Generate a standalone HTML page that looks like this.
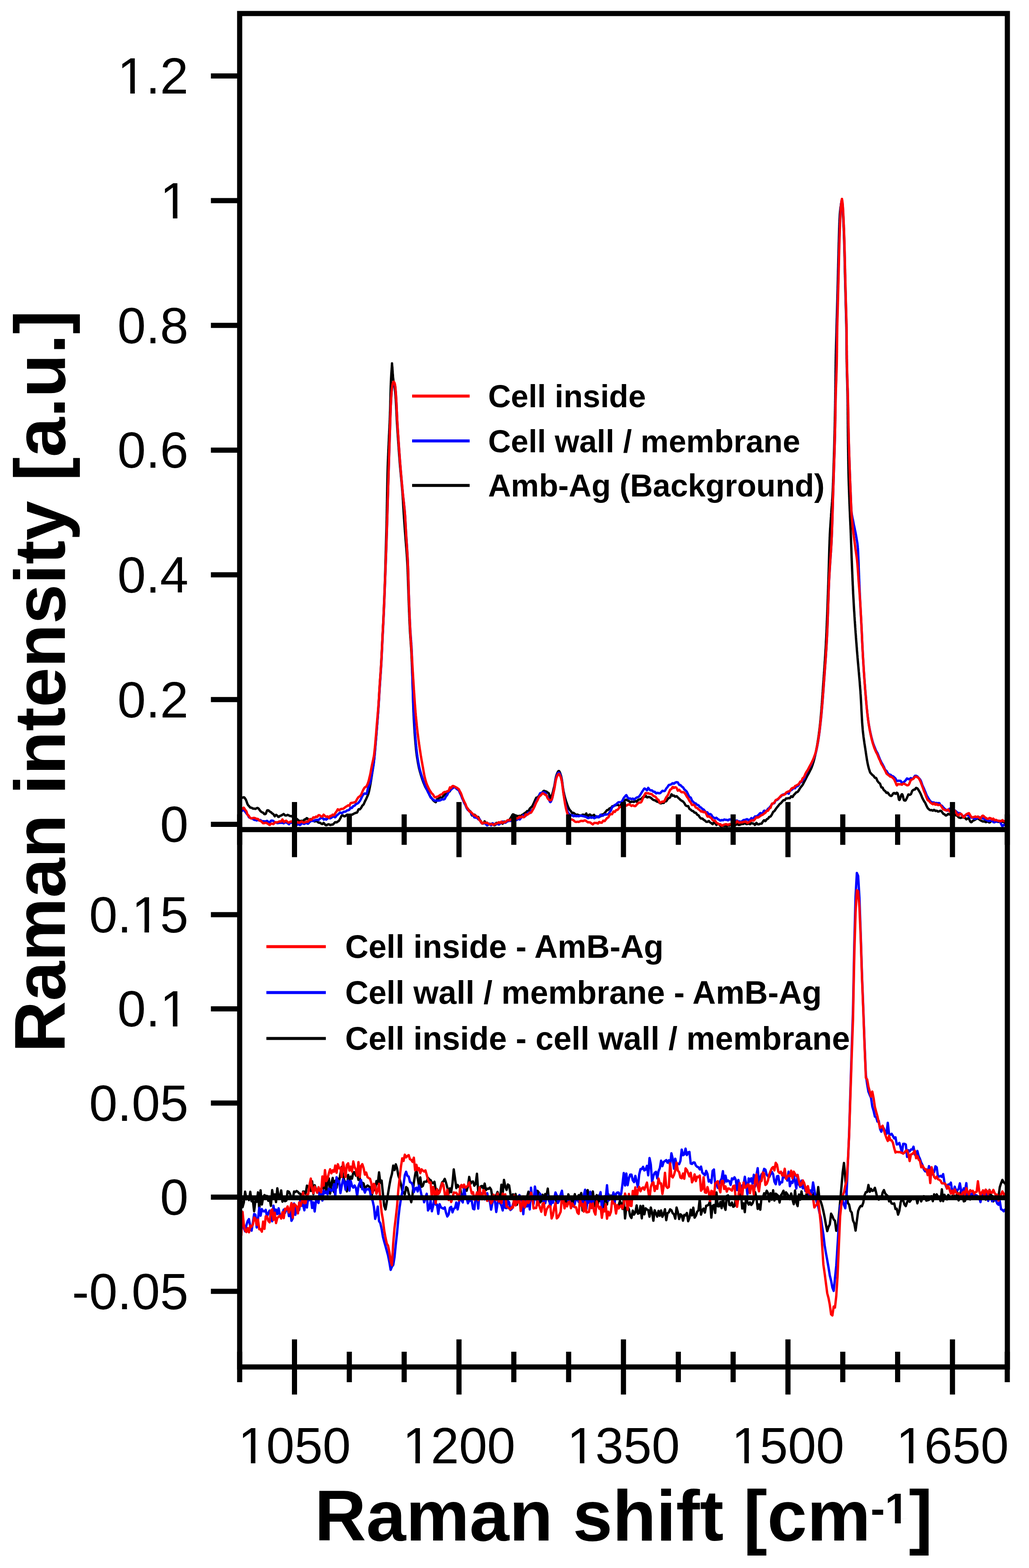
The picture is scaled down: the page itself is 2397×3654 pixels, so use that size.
<!DOCTYPE html>
<html><head><meta charset="utf-8"><title>Raman spectra</title>
<style>html,body{margin:0;padding:0;background:#fff;overflow:hidden;}svg{display:block;}</style>
</head><body>
<svg width="2397" height="3654" viewBox="0 0 2397 3654">
<rect width="2397" height="3654" fill="#fff"/>
<g fill="none" stroke-width="5.5" stroke-linejoin="round" stroke-linecap="round">
<polyline stroke="#000000" points="559.5,1866.0 559.8,1863.4 560.3,1861.1 561.1,1859.7 562.1,1859.8 563.2,1859.2 564.9,1858.9 567.0,1857.9 568.6,1857.9 569.8,1859.1 570.8,1860.6 571.7,1861.8 572.5,1863.1 573.2,1864.8 574.0,1866.7 574.7,1868.7 575.4,1870.8 576.2,1872.9 577.0,1874.8 578.0,1876.3 579.1,1877.5 580.4,1878.8 581.7,1880.5 583.2,1882.1 584.8,1882.1 586.4,1882.4 588.0,1883.8 589.7,1884.5 591.3,1884.3 593.0,1884.5 594.9,1885.1 596.7,1884.0 598.4,1883.1 599.9,1882.8 601.2,1883.3 602.5,1884.4 603.7,1885.9 604.8,1887.7 606.1,1889.4 607.5,1890.9 609.0,1892.0 610.6,1893.0 612.4,1893.6 614.1,1895.1 615.8,1897.2 617.5,1897.3 619.2,1896.3 620.8,1892.0 622.4,1888.4 624.0,1888.1 625.6,1888.6 627.2,1890.3 628.8,1891.5 630.4,1892.2 632.0,1893.5 633.6,1895.1 635.2,1896.3 636.8,1897.1 638.4,1899.7 640.0,1902.3 641.6,1900.4 643.2,1898.9 644.9,1900.1 646.6,1901.5 648.3,1903.7 650.0,1903.5 651.8,1901.5 653.6,1900.9 655.4,1900.3 657.2,1899.1 659.0,1898.0 660.8,1896.9 662.6,1898.6 664.4,1900.2 666.2,1900.4 668.0,1900.0 669.8,1898.9 671.5,1899.5 673.3,1900.4 675.0,1901.4 676.7,1901.9 678.4,1901.6 680.0,1902.5 681.7,1904.0 683.4,1905.0 685.0,1906.0 686.7,1906.7 688.3,1907.4 690.0,1907.6 691.6,1908.4 693.3,1910.2 695.0,1911.5 696.7,1912.7 698.4,1913.1 700.0,1913.4 701.7,1912.9 703.4,1912.6 704.9,1913.8 706.5,1913.5 708.0,1911.2 709.5,1909.6 711.1,1909.5 712.6,1908.7 714.2,1906.6 715.9,1907.0 717.6,1909.3 719.3,1909.7 721.1,1909.4 722.8,1908.9 724.6,1909.0 726.3,1910.5 728.0,1911.7 729.7,1912.6 731.4,1913.5 733.1,1914.3 734.8,1913.7 736.5,1913.4 738.1,1913.9 739.9,1915.1 741.6,1916.9 743.3,1917.2 745.0,1917.1 746.7,1918.2 748.5,1919.4 750.3,1920.4 752.0,1919.7 753.8,1917.7 755.6,1919.6 757.4,1921.7 759.1,1923.0 760.9,1923.0 762.7,1921.7 764.4,1921.1 766.2,1920.8 768.0,1922.2 769.8,1922.7 771.6,1921.8 773.5,1921.8 775.3,1921.6 777.1,1919.7 778.9,1917.9 780.6,1916.1 782.2,1916.1 783.8,1916.5 785.3,1915.7 786.6,1914.6 787.8,1913.9 789.0,1913.1 790.0,1912.0 791.1,1910.1 792.1,1908.2 793.2,1906.3 794.4,1903.7 795.6,1901.3 797.1,1900.4 798.6,1900.1 800.3,1901.2 802.1,1902.6 803.9,1901.9 805.7,1900.7 807.5,1898.9 809.2,1898.5 811.0,1898.8 812.8,1898.8 814.7,1898.8 816.5,1898.5 818.3,1898.5 820.1,1898.5 821.9,1897.5 823.6,1896.6 825.2,1895.8 826.8,1895.0 828.3,1894.2 829.8,1893.9 831.3,1893.9 832.7,1892.0 834.1,1888.2 835.5,1885.8 836.8,1886.0 838.1,1886.1 839.3,1884.8 840.5,1883.5 841.7,1881.7 842.8,1879.6 843.9,1877.5 844.9,1876.7 845.8,1875.9 846.7,1874.9 847.6,1873.3 848.4,1871.5 849.2,1869.6 849.9,1867.9 850.7,1866.4 851.4,1865.0 852.1,1863.6 852.9,1862.2 853.6,1860.5 854.4,1858.7 855.2,1856.9 856.0,1855.1 856.7,1853.5 857.4,1851.9 858.0,1850.1 858.5,1848.4 858.9,1846.7 859.4,1845.0 859.8,1843.2 860.2,1841.4 860.5,1839.7 860.9,1837.9 861.2,1836.1 861.6,1834.3 861.9,1832.6 862.2,1830.8 862.6,1829.0 862.9,1827.3 863.2,1825.5 863.5,1823.7 863.8,1821.9 864.1,1820.2 864.4,1818.4 864.7,1816.6 865.0,1814.8 865.2,1813.0 865.5,1811.3 865.8,1809.5 866.1,1807.7 866.4,1805.9 866.6,1804.1 866.9,1802.4 867.2,1800.6 867.5,1798.8 867.8,1797.0 868.1,1795.3 868.4,1793.5 868.6,1791.7 868.9,1789.9 869.2,1788.1 869.5,1786.4 869.7,1784.6 870.0,1782.8 870.2,1781.0 870.5,1779.2 870.7,1777.4 870.9,1775.7 871.1,1773.9 871.3,1772.1 871.5,1770.3 871.7,1768.5 871.9,1766.7 872.1,1764.9 872.2,1763.1 872.4,1761.3 872.6,1759.5 872.7,1757.7 872.9,1756.0 873.1,1754.2 873.2,1752.4 873.4,1750.6 873.5,1748.8 873.7,1747.0 873.8,1745.2 874.0,1743.4 874.1,1741.6 874.3,1739.8 874.4,1738.0 874.6,1736.2 874.8,1734.4 874.9,1732.6 875.1,1730.8 875.2,1729.0 875.4,1727.2 875.5,1725.4 875.7,1723.6 875.8,1721.9 876.0,1720.1 876.1,1718.3 876.3,1716.5 876.4,1714.7 876.6,1712.9 876.7,1711.1 876.9,1709.3 877.0,1707.5 877.2,1705.7 877.3,1703.9 877.4,1702.1 877.6,1700.3 877.7,1698.5 877.9,1696.7 878.0,1694.9 878.1,1693.1 878.3,1691.3 878.4,1689.5 878.6,1687.7 878.7,1685.9 878.8,1684.2 879.0,1682.4 879.1,1680.6 879.3,1678.8 879.4,1677.0 879.5,1675.2 879.7,1673.4 879.8,1671.6 879.9,1669.8 880.1,1668.0 880.2,1666.2 880.3,1664.4 880.5,1662.6 880.6,1660.8 880.7,1659.0 880.8,1657.2 881.0,1655.4 881.1,1653.6 881.2,1651.8 881.3,1650.0 881.5,1648.2 881.6,1646.4 881.7,1644.6 881.8,1642.8 881.9,1641.0 882.0,1639.2 882.1,1637.4 882.2,1635.6 882.4,1633.9 882.5,1632.1 882.6,1630.3 882.7,1628.5 882.8,1626.7 882.9,1624.9 883.0,1623.1 883.1,1621.3 883.2,1619.5 883.3,1617.7 883.4,1615.9 883.5,1614.1 883.6,1612.3 883.8,1610.5 883.9,1608.7 884.0,1606.9 884.1,1605.1 884.2,1603.3 884.3,1601.5 884.4,1599.7 884.5,1597.9 884.7,1596.1 884.8,1594.3 884.9,1592.5 885.0,1590.7 885.1,1588.9 885.3,1587.1 885.4,1585.3 885.5,1583.5 885.6,1581.7 885.8,1579.9 885.9,1578.1 886.0,1576.3 886.1,1574.5 886.2,1572.7 886.4,1570.9 886.5,1569.1 886.6,1567.4 886.7,1565.6 886.8,1563.8 887.0,1562.0 887.1,1560.2 887.2,1558.4 887.3,1556.6 887.4,1554.8 887.5,1553.0 887.6,1551.2 887.7,1549.4 887.8,1547.6 887.9,1545.8 888.0,1544.0 888.1,1542.2 888.2,1540.4 888.3,1538.6 888.4,1536.8 888.5,1535.0 888.6,1533.2 888.7,1531.4 888.8,1529.6 888.9,1527.8 889.0,1526.0 889.1,1524.2 889.1,1522.4 889.2,1520.6 889.3,1518.8 889.4,1517.0 889.5,1515.2 889.6,1513.4 889.7,1511.6 889.7,1509.8 889.8,1508.0 889.9,1506.2 890.0,1504.4 890.1,1502.6 890.2,1500.8 890.3,1499.0 890.3,1497.2 890.4,1495.4 890.5,1493.6 890.6,1491.8 890.7,1490.0 890.8,1488.2 890.9,1486.4 891.0,1484.6 891.1,1482.8 891.1,1481.0 891.2,1479.2 891.3,1477.4 891.4,1475.6 891.5,1473.8 891.6,1472.0 891.7,1470.2 891.8,1468.4 891.9,1466.6 892.0,1464.8 892.0,1463.0 892.1,1461.2 892.2,1459.4 892.3,1457.6 892.4,1455.8 892.5,1454.0 892.6,1452.3 892.7,1450.5 892.7,1448.7 892.8,1446.9 892.9,1445.1 893.0,1443.3 893.1,1441.5 893.2,1439.7 893.3,1437.9 893.3,1436.1 893.4,1434.3 893.5,1432.5 893.6,1430.7 893.7,1428.9 893.7,1427.1 893.8,1425.3 893.9,1423.5 894.0,1421.7 894.1,1419.9 894.1,1418.1 894.2,1416.3 894.3,1414.5 894.4,1412.7 894.4,1410.9 894.5,1409.1 894.6,1407.3 894.7,1405.5 894.7,1403.7 894.8,1401.9 894.9,1400.1 895.0,1398.3 895.0,1396.5 895.1,1394.7 895.2,1392.9 895.3,1391.1 895.3,1389.3 895.4,1387.5 895.5,1385.7 895.5,1383.9 895.6,1382.1 895.7,1380.3 895.7,1378.5 895.8,1376.7 895.9,1374.9 896.0,1373.1 896.0,1371.3 896.1,1369.5 896.2,1367.7 896.2,1365.9 896.3,1364.1 896.3,1362.3 896.4,1360.5 896.5,1358.7 896.5,1356.9 896.6,1355.1 896.7,1353.3 896.7,1351.5 896.8,1349.7 896.8,1347.9 896.9,1346.1 896.9,1344.3 897.0,1342.5 897.1,1340.7 897.1,1338.9 897.2,1337.1 897.2,1335.3 897.3,1333.5 897.3,1331.7 897.4,1329.9 897.4,1328.1 897.5,1326.3 897.5,1324.5 897.6,1322.7 897.6,1320.9 897.7,1319.1 897.7,1317.3 897.8,1315.5 897.8,1313.7 897.9,1311.9 897.9,1310.1 898.0,1308.3 898.0,1306.5 898.1,1304.7 898.1,1302.9 898.2,1301.1 898.2,1299.3 898.3,1297.5 898.3,1295.7 898.4,1293.9 898.4,1292.1 898.5,1290.3 898.5,1288.5 898.6,1286.7 898.6,1284.9 898.7,1283.1 898.8,1281.3 898.8,1279.5 898.9,1277.7 898.9,1275.9 899.0,1274.1 899.0,1272.3 899.1,1270.5 899.1,1268.7 899.2,1266.9 899.2,1265.1 899.3,1263.3 899.3,1261.5 899.4,1259.7 899.4,1257.9 899.5,1256.1 899.5,1254.3 899.6,1252.5 899.6,1250.7 899.7,1248.9 899.7,1247.1 899.8,1245.3 899.8,1243.5 899.9,1241.7 899.9,1239.9 900.0,1238.1 900.0,1236.3 900.1,1234.5 900.1,1232.7 900.2,1230.9 900.2,1229.1 900.3,1227.3 900.3,1225.5 900.4,1223.7 900.4,1221.9 900.5,1220.1 900.5,1218.3 900.5,1216.5 900.6,1214.7 900.6,1212.9 900.7,1211.1 900.7,1209.3 900.7,1207.5 900.8,1205.7 900.8,1203.9 900.9,1202.1 900.9,1200.3 900.9,1198.5 901.0,1196.7 901.0,1194.9 901.0,1193.1 901.1,1191.3 901.1,1189.5 901.1,1187.7 901.2,1185.9 901.2,1184.1 901.2,1182.3 901.3,1180.5 901.3,1178.7 901.3,1176.9 901.4,1175.1 901.4,1173.3 901.4,1171.5 901.5,1169.7 901.5,1167.9 901.5,1166.1 901.6,1164.3 901.6,1162.5 901.6,1160.7 901.6,1158.9 901.7,1157.1 901.7,1155.2 901.7,1153.4 901.8,1151.6 901.8,1149.8 901.8,1148.0 901.9,1146.2 901.9,1144.4 901.9,1142.6 902.0,1140.8 902.0,1139.0 902.0,1137.2 902.1,1135.4 902.1,1133.6 902.1,1131.8 902.2,1130.0 902.2,1128.2 902.2,1126.4 902.3,1124.6 902.3,1122.8 902.4,1121.0 902.4,1119.2 902.4,1117.4 902.5,1115.6 902.5,1113.8 902.6,1112.0 902.6,1110.2 902.6,1108.4 902.7,1106.6 902.7,1104.8 902.8,1103.0 902.8,1101.2 902.9,1099.4 902.9,1097.6 903.0,1095.8 903.0,1094.0 903.1,1092.2 903.1,1090.4 903.2,1088.6 903.2,1086.8 903.3,1085.0 903.4,1083.2 903.4,1081.4 903.5,1079.6 903.5,1077.8 903.6,1076.0 903.7,1074.2 903.7,1072.4 903.8,1070.6 903.9,1068.8 904.0,1067.0 904.0,1065.2 904.1,1063.4 904.2,1061.6 904.3,1059.8 904.3,1058.0 904.4,1056.2 904.5,1054.4 904.6,1052.6 904.6,1050.8 904.7,1049.0 904.8,1047.2 904.9,1045.4 905.0,1043.6 905.0,1041.8 905.1,1040.0 905.2,1038.3 905.3,1036.5 905.4,1034.7 905.4,1032.9 905.5,1031.1 905.6,1029.3 905.7,1027.5 905.8,1025.7 905.8,1023.9 905.9,1022.1 906.0,1020.3 906.1,1018.5 906.1,1016.7 906.2,1014.9 906.3,1013.1 906.4,1011.3 906.5,1009.5 906.6,1007.7 906.6,1005.9 906.7,1004.1 906.8,1002.3 906.9,1000.5 907.0,998.7 907.1,996.9 907.2,995.1 907.2,993.3 907.3,991.5 907.4,989.7 907.5,987.9 907.6,986.1 907.7,984.3 907.7,982.5 907.8,980.7 907.9,978.9 908.0,977.1 908.0,975.3 908.1,973.5 908.2,971.7 908.2,969.9 908.3,968.1 908.4,966.3 908.4,964.5 908.5,962.7 908.5,960.9 908.6,959.1 908.7,957.3 908.7,955.5 908.8,953.7 908.8,951.9 908.9,950.1 908.9,948.3 909.0,946.5 909.0,944.7 909.1,942.9 909.1,941.1 909.2,939.3 909.2,937.5 909.2,935.7 909.3,933.9 909.3,932.1 909.4,930.3 909.4,928.5 909.5,926.7 909.5,924.9 909.6,923.1 909.6,921.3 909.7,919.5 909.7,917.7 909.8,915.9 909.8,914.1 909.9,912.3 909.9,910.5 910.0,908.7 910.0,906.9 910.1,905.1 910.1,903.3 910.2,901.5 910.2,899.7 910.3,897.9 910.4,896.1 910.4,894.3 910.5,892.5 910.6,890.7 910.6,888.9 910.7,887.1 910.8,885.3 910.9,883.5 911.0,881.7 911.1,879.9 911.2,878.1 911.3,876.3 911.4,874.5 911.5,872.7 911.6,870.9 911.7,869.1 911.9,867.3 912.0,865.5 912.1,863.7 912.3,861.9 912.4,860.1 912.5,858.1 912.7,855.8 912.8,853.4 912.9,851.4 913.1,849.9 913.2,846.7 913.3,849.8 913.5,850.9 913.6,852.5 913.8,854.6 913.9,856.8 914.1,859.2 914.2,861.6 914.4,863.7 914.6,865.6 914.7,867.4 914.8,869.2 915.0,871.0 915.1,872.8 915.2,874.6 915.4,876.4 915.5,878.2 915.7,880.0 915.9,881.8 916.0,883.6 916.2,885.3 916.5,887.1 916.8,888.9 917.1,890.7 917.5,892.4 917.8,894.2 918.1,896.0 918.5,897.8 918.8,899.5 919.1,901.3 919.4,903.1 919.6,904.9 919.9,906.7 920.1,908.4 920.3,910.2 920.5,912.0 920.6,913.8 920.8,915.6 920.9,917.4 921.1,919.2 921.2,921.0 921.4,922.8 921.5,924.6 921.6,926.3 921.7,928.1 921.9,929.9 922.0,931.7 922.1,933.5 922.2,935.3 922.3,937.1 922.4,938.9 922.5,940.7 922.6,942.5 922.7,944.3 922.8,946.1 922.9,947.9 922.9,949.7 923.0,951.5 923.1,953.3 923.2,955.1 923.3,956.9 923.4,958.7 923.5,960.5 923.5,962.3 923.6,964.1 923.7,965.9 923.8,967.7 923.9,969.5 924.0,971.3 924.1,973.1 924.1,974.9 924.2,976.7 924.3,978.5 924.4,980.3 924.5,982.1 924.6,983.9 924.7,985.7 924.8,987.5 925.0,989.3 925.1,991.1 925.2,992.9 925.3,994.7 925.4,996.5 925.5,998.3 925.7,1000.1 925.8,1001.9 925.9,1003.7 926.0,1005.5 926.1,1007.3 926.2,1009.1 926.4,1010.9 926.5,1012.7 926.6,1014.5 926.7,1016.3 926.8,1018.1 927.0,1019.9 927.1,1021.7 927.2,1023.5 927.3,1025.3 927.5,1027.1 927.6,1028.9 927.7,1030.7 927.8,1032.5 928.0,1034.3 928.1,1036.1 928.2,1037.8 928.3,1039.6 928.5,1041.4 928.6,1043.2 928.7,1045.0 928.8,1046.8 929.0,1048.6 929.1,1050.4 929.2,1052.2 929.4,1054.0 929.5,1055.8 929.6,1057.6 929.8,1059.4 929.9,1061.2 930.0,1063.0 930.2,1064.8 930.3,1066.6 930.5,1068.4 930.6,1070.2 930.7,1072.0 930.9,1073.8 931.0,1075.6 931.1,1077.4 931.3,1079.2 931.4,1080.9 931.6,1082.7 931.7,1084.5 931.9,1086.3 932.0,1088.1 932.2,1089.9 932.4,1091.7 932.5,1093.5 932.7,1095.3 932.9,1097.1 933.0,1098.9 933.2,1100.7 933.4,1102.5 933.5,1104.3 933.7,1106.1 933.9,1107.9 934.0,1109.6 934.2,1111.4 934.4,1113.2 934.5,1115.0 934.7,1116.8 934.9,1118.6 935.0,1120.4 935.2,1122.2 935.4,1124.0 935.5,1125.8 935.7,1127.6 935.9,1129.4 936.0,1131.2 936.2,1133.0 936.3,1134.8 936.5,1136.5 936.6,1138.3 936.8,1140.1 936.9,1141.9 937.1,1143.7 937.2,1145.5 937.3,1147.3 937.5,1149.1 937.6,1150.9 937.7,1152.7 937.9,1154.5 938.0,1156.3 938.1,1158.1 938.2,1159.9 938.3,1161.7 938.4,1163.5 938.6,1165.3 938.7,1167.1 938.8,1168.9 938.9,1170.7 939.0,1172.5 939.1,1174.3 939.2,1176.1 939.3,1177.9 939.4,1179.7 939.5,1181.5 939.6,1183.3 939.8,1185.1 939.9,1186.9 940.0,1188.7 940.1,1190.5 940.2,1192.3 940.3,1194.0 940.4,1195.8 940.5,1197.6 940.6,1199.4 940.8,1201.2 940.9,1203.0 941.0,1204.8 941.1,1206.6 941.2,1208.4 941.4,1210.2 941.5,1212.0 941.6,1213.8 941.7,1215.6 941.9,1217.4 942.0,1219.2 942.1,1221.0 942.3,1222.8 942.4,1224.6 942.5,1226.4 942.6,1228.2 942.8,1230.0 942.9,1231.8 943.0,1233.6 943.2,1235.4 943.3,1237.2 943.4,1239.0 943.6,1240.8 943.7,1242.6 943.8,1244.4 944.0,1246.1 944.1,1247.9 944.2,1249.7 944.4,1251.5 944.5,1253.3 944.6,1255.1 944.8,1256.9 944.9,1258.7 945.1,1260.5 945.2,1262.3 945.4,1264.1 945.5,1265.9 945.7,1267.7 945.8,1269.5 945.9,1271.3 946.1,1273.1 946.2,1274.9 946.4,1276.7 946.5,1278.5 946.7,1280.3 946.8,1282.1 946.9,1283.9 947.1,1285.7 947.2,1287.4 947.3,1289.2 947.5,1291.0 947.6,1292.8 947.7,1294.6 947.8,1296.4 948.0,1298.2 948.1,1300.0 948.2,1301.8 948.3,1303.6 948.4,1305.4 948.5,1307.2 948.6,1309.0 948.7,1310.8 948.8,1312.6 948.9,1314.4 949.0,1316.2 949.1,1318.0 949.2,1319.8 949.3,1321.6 949.3,1323.4 949.4,1325.2 949.5,1327.0 949.6,1328.8 949.6,1330.6 949.7,1332.4 949.8,1334.2 949.8,1336.0 949.9,1337.8 950.0,1339.6 950.0,1341.4 950.1,1343.2 950.2,1345.0 950.2,1346.8 950.3,1348.6 950.3,1350.4 950.4,1352.2 950.5,1354.0 950.5,1355.8 950.6,1357.6 950.6,1359.4 950.7,1361.2 950.7,1363.0 950.8,1364.8 950.9,1366.6 950.9,1368.4 951.0,1370.2 951.0,1372.0 951.1,1373.8 951.2,1375.6 951.2,1377.4 951.3,1379.2 951.3,1381.0 951.4,1382.8 951.5,1384.6 951.5,1386.4 951.6,1388.2 951.7,1390.0 951.7,1391.8 951.8,1393.6 951.9,1395.4 951.9,1397.2 952.0,1399.0 952.1,1400.8 952.1,1402.6 952.2,1404.4 952.3,1406.2 952.3,1408.0 952.4,1409.8 952.5,1411.6 952.5,1413.4 952.6,1415.2 952.7,1417.0 952.7,1418.8 952.8,1420.6 952.9,1422.4 952.9,1424.2 953.0,1426.0 953.1,1427.8 953.2,1429.6 953.2,1431.4 953.3,1433.2 953.4,1435.0 953.4,1436.8 953.5,1438.6 953.6,1440.4 953.7,1442.2 953.7,1444.0 953.8,1445.8 953.9,1447.6 954.0,1449.4 954.0,1451.2 954.1,1453.0 954.2,1454.8 954.3,1456.6 954.4,1458.4 954.5,1460.2 954.6,1462.0 954.6,1463.8 954.7,1465.6 954.8,1467.4 954.9,1469.2 955.0,1471.0 955.1,1472.8 955.2,1474.6 955.3,1476.4 955.5,1478.1 955.6,1479.9 955.7,1481.7 955.8,1483.5 955.9,1485.3 956.1,1487.1 956.2,1488.9 956.3,1490.7 956.4,1492.5 956.6,1494.3 956.7,1496.1 956.8,1497.9 956.9,1499.7 957.1,1501.5 957.2,1503.3 957.3,1505.1 957.4,1506.9 957.6,1508.7 957.7,1510.5 957.8,1512.3 957.9,1514.1 958.0,1515.9 958.1,1517.7 958.2,1519.5 958.3,1521.3 958.4,1523.1 958.5,1524.9 958.6,1526.7 958.7,1528.5 958.7,1530.3 958.8,1532.1 958.9,1533.9 959.0,1535.7 959.1,1537.5 959.1,1539.3 959.2,1541.1 959.3,1542.9 959.4,1544.7 959.4,1546.5 959.5,1548.3 959.6,1550.1 959.6,1551.9 959.7,1553.7 959.8,1555.5 959.9,1557.3 959.9,1559.1 960.0,1560.9 960.1,1562.7 960.1,1564.5 960.2,1566.3 960.2,1568.1 960.3,1569.9 960.4,1571.7 960.4,1573.5 960.5,1575.3 960.6,1577.1 960.6,1578.9 960.7,1580.7 960.7,1582.5 960.8,1584.3 960.9,1586.1 960.9,1587.9 961.0,1589.7 961.0,1591.5 961.1,1593.3 961.2,1595.1 961.2,1596.9 961.3,1598.7 961.3,1600.5 961.4,1602.3 961.4,1604.1 961.5,1605.9 961.5,1607.7 961.6,1609.5 961.6,1611.3 961.7,1613.1 961.7,1614.9 961.8,1616.7 961.8,1618.5 961.9,1620.3 961.9,1622.1 962.0,1623.9 962.0,1625.7 962.1,1627.5 962.1,1629.3 962.2,1631.1 962.2,1632.9 962.3,1634.7 962.3,1636.5 962.4,1638.3 962.5,1640.1 962.5,1641.9 962.6,1643.7 962.6,1645.5 962.7,1647.3 962.8,1649.1 962.8,1650.9 962.9,1652.7 963.0,1654.5 963.1,1656.3 963.1,1658.1 963.2,1659.9 963.3,1661.7 963.4,1663.5 963.4,1665.3 963.5,1667.1 963.6,1668.9 963.7,1670.7 963.8,1672.5 963.9,1674.3 964.0,1676.1 964.1,1677.9 964.2,1679.7 964.3,1681.5 964.4,1683.3 964.5,1685.1 964.6,1686.9 964.7,1688.7 964.8,1690.5 964.9,1692.3 965.0,1694.1 965.1,1695.9 965.2,1697.7 965.3,1699.5 965.5,1701.2 965.6,1703.0 965.7,1704.8 965.8,1706.6 965.9,1708.4 966.1,1710.2 966.2,1712.0 966.3,1713.8 966.5,1715.6 966.6,1717.4 966.7,1719.2 966.9,1721.0 967.0,1722.8 967.2,1724.6 967.3,1726.4 967.5,1728.2 967.6,1730.0 967.8,1731.8 967.9,1733.6 968.1,1735.4 968.3,1737.2 968.4,1738.9 968.6,1740.7 968.8,1742.5 968.9,1744.3 969.1,1746.1 969.3,1747.9 969.5,1749.7 969.7,1751.5 969.9,1753.3 970.1,1755.0 970.4,1756.8 970.6,1758.6 970.8,1760.4 971.1,1762.2 971.4,1764.0 971.6,1765.8 971.9,1767.6 972.2,1769.3 972.5,1771.1 972.8,1772.9 973.1,1774.7 973.4,1776.4 973.7,1778.2 974.0,1780.0 974.4,1781.8 974.7,1783.5 975.1,1785.3 975.4,1787.0 975.8,1788.8 976.2,1790.5 976.6,1792.3 977.1,1794.0 977.5,1795.8 978.0,1797.5 978.5,1799.3 979.0,1801.0 979.5,1802.7 980.0,1804.5 980.5,1806.2 981.0,1807.9 981.6,1809.6 982.1,1811.3 982.7,1813.1 983.2,1814.8 983.8,1816.5 984.4,1818.2 985.0,1819.8 985.6,1821.5 986.2,1823.2 986.9,1824.8 987.6,1826.5 988.3,1828.2 989.0,1829.9 989.7,1831.7 990.5,1833.5 991.4,1835.2 992.3,1836.7 993.1,1838.2 994.0,1839.7 994.9,1840.9 995.8,1842.1 996.6,1843.3 997.4,1845.1 998.2,1847.2 999.0,1849.3 999.8,1851.3 1000.6,1852.9 1001.3,1854.3 1002.2,1855.5 1003.0,1856.7 1003.9,1858.0 1004.8,1859.2 1005.8,1860.4 1006.9,1861.9 1008.1,1863.6 1009.4,1865.1 1010.8,1866.6 1012.2,1867.5 1013.6,1868.8 1015.1,1869.4 1016.6,1865.9 1018.2,1862.6 1019.8,1862.5 1021.3,1861.9 1022.9,1859.0 1024.5,1857.2 1026.1,1858.3 1027.6,1858.9 1029.2,1858.8 1030.7,1857.8 1032.2,1855.8 1033.6,1854.1 1035.0,1852.7 1036.3,1851.4 1037.7,1850.9 1039.0,1850.3 1040.3,1849.4 1041.6,1848.5 1042.9,1847.3 1044.2,1846.0 1045.5,1845.1 1046.8,1844.7 1048.1,1843.7 1049.3,1840.9 1050.5,1838.2 1051.8,1835.9 1053.1,1834.0 1054.4,1832.7 1055.8,1832.5 1057.3,1832.9 1059.0,1833.4 1060.8,1834.2 1062.6,1835.3 1064.0,1836.1 1065.3,1837.1 1066.5,1838.4 1067.6,1840.0 1068.6,1841.6 1069.6,1842.9 1070.5,1843.9 1071.4,1845.0 1072.2,1846.6 1072.9,1848.9 1073.6,1850.9 1074.3,1852.9 1075.0,1854.8 1075.7,1856.3 1076.3,1857.9 1077.0,1859.5 1077.7,1861.0 1078.4,1862.4 1079.1,1863.9 1079.9,1865.4 1080.7,1866.9 1081.4,1868.7 1082.2,1870.7 1083.0,1872.7 1083.9,1874.8 1084.7,1876.6 1085.6,1878.5 1086.5,1880.3 1087.4,1881.9 1088.4,1883.2 1089.4,1884.4 1090.4,1885.6 1091.4,1887.0 1092.5,1888.3 1093.6,1889.4 1094.7,1890.2 1095.9,1890.9 1097.1,1894.4 1098.3,1898.3 1099.6,1900.4 1100.9,1900.0 1102.3,1899.5 1103.8,1898.8 1105.3,1898.5 1106.9,1899.7 1108.5,1901.1 1110.0,1902.9 1111.5,1903.9 1113.0,1903.6 1114.3,1904.1 1115.6,1906.8 1116.8,1909.4 1117.9,1911.0 1119.0,1912.2 1120.2,1913.5 1121.4,1915.9 1122.7,1918.2 1124.1,1918.9 1125.6,1919.2 1127.2,1917.1 1128.9,1913.9 1130.6,1916.6 1132.5,1918.6 1134.3,1917.1 1136.2,1918.6 1138.1,1921.5 1140.0,1920.7 1141.9,1920.4 1143.7,1920.9 1145.5,1919.6 1147.3,1918.6 1149.1,1921.5 1150.9,1922.9 1152.7,1923.0 1154.5,1920.2 1156.3,1917.6 1158.1,1918.9 1159.9,1918.9 1161.7,1917.5 1163.4,1917.6 1165.2,1917.8 1167.0,1916.2 1168.8,1916.6 1170.7,1919.6 1172.5,1917.3 1174.4,1914.6 1176.2,1914.8 1178.0,1915.0 1179.7,1915.3 1181.4,1913.9 1183.0,1912.2 1184.5,1911.8 1185.8,1911.3 1187.1,1910.1 1188.2,1908.5 1189.3,1906.7 1190.3,1905.0 1191.4,1903.2 1192.4,1901.4 1193.5,1899.3 1194.7,1897.8 1196.1,1897.9 1197.7,1898.8 1199.4,1899.7 1201.2,1900.5 1203.1,1901.0 1204.9,1901.5 1206.6,1902.0 1208.4,1901.7 1210.1,1901.1 1211.8,1901.6 1213.6,1901.3 1215.3,1899.6 1217.0,1898.5 1218.7,1897.8 1220.4,1896.4 1222.0,1895.0 1223.5,1894.1 1225.0,1893.3 1226.5,1891.7 1227.9,1890.1 1229.2,1890.2 1230.6,1890.4 1231.9,1888.7 1233.1,1886.2 1234.3,1884.2 1235.5,1883.0 1236.7,1881.8 1237.7,1880.8 1238.8,1879.9 1239.7,1878.9 1240.6,1877.4 1241.4,1875.7 1242.2,1874.1 1243.0,1872.4 1243.8,1870.6 1244.6,1868.8 1245.4,1867.0 1246.3,1865.0 1247.3,1862.8 1248.3,1860.5 1249.4,1858.8 1250.5,1858.6 1251.6,1858.6 1252.8,1857.6 1254.0,1856.2 1255.3,1854.5 1256.6,1852.0 1257.9,1849.5 1259.2,1849.8 1260.6,1850.3 1262.0,1848.7 1263.5,1846.2 1265.1,1844.3 1266.6,1843.0 1268.2,1843.1 1269.8,1844.0 1271.5,1844.3 1273.2,1844.9 1274.9,1846.3 1276.3,1847.4 1277.5,1847.6 1278.5,1849.2 1279.4,1851.9 1280.2,1854.4 1281.0,1856.9 1281.7,1860.0 1282.4,1860.5 1283.1,1859.2 1283.8,1857.4 1284.5,1855.6 1285.2,1854.0 1285.8,1852.5 1286.5,1850.7 1287.1,1848.6 1287.7,1846.4 1288.3,1844.1 1288.8,1841.9 1289.3,1839.7 1289.8,1837.6 1290.3,1835.7 1290.8,1833.9 1291.2,1832.2 1291.6,1830.4 1291.9,1828.6 1292.2,1826.8 1292.5,1825.0 1292.8,1823.2 1293.1,1821.4 1293.4,1819.5 1293.7,1817.7 1294.0,1815.9 1294.3,1814.2 1294.7,1812.4 1295.1,1810.7 1295.5,1809.0 1296.0,1807.3 1296.5,1805.7 1297.1,1804.1 1298.0,1802.1 1299.0,1799.8 1300.1,1797.8 1301.2,1796.8 1302.1,1796.8 1303.0,1797.7 1303.8,1799.2 1304.7,1801.1 1305.4,1803.2 1306.1,1805.3 1306.7,1807.3 1307.2,1809.0 1307.6,1810.7 1308.0,1812.5 1308.3,1814.2 1308.7,1816.0 1309.0,1817.7 1309.2,1819.5 1309.5,1821.3 1309.8,1823.1 1310.0,1824.9 1310.2,1826.7 1310.5,1828.5 1310.7,1830.3 1310.9,1832.1 1311.2,1833.9 1311.4,1835.7 1311.7,1837.5 1312.0,1839.3 1312.3,1841.1 1312.6,1842.9 1312.9,1844.6 1313.3,1846.4 1313.7,1848.1 1314.0,1849.9 1314.4,1851.7 1314.9,1853.4 1315.3,1855.2 1315.7,1857.0 1316.2,1858.7 1316.7,1860.5 1317.1,1862.2 1317.7,1863.9 1318.2,1865.6 1318.7,1867.3 1319.3,1869.0 1319.9,1870.7 1320.5,1872.5 1321.2,1874.3 1321.8,1876.1 1322.5,1878.0 1323.2,1879.8 1324.0,1881.7 1324.8,1883.3 1325.6,1884.9 1326.5,1886.3 1327.4,1887.6 1328.3,1888.8 1329.3,1889.7 1330.4,1891.0 1331.5,1892.9 1332.7,1895.0 1334.1,1895.0 1335.6,1894.0 1337.2,1895.0 1339.0,1896.6 1340.7,1898.4 1342.5,1899.3 1344.3,1898.2 1346.0,1898.4 1347.7,1899.8 1349.4,1899.9 1351.2,1899.9 1353.0,1900.9 1354.8,1900.5 1356.6,1898.6 1358.4,1898.4 1360.3,1898.7 1362.1,1899.7 1364.0,1898.6 1365.8,1895.6 1367.6,1900.4 1369.4,1903.8 1371.2,1899.9 1373.0,1898.2 1374.8,1898.3 1376.6,1900.0 1378.4,1901.5 1380.2,1901.0 1382.0,1900.1 1383.8,1898.9 1385.6,1901.4 1387.3,1903.8 1389.1,1904.4 1390.8,1904.2 1392.5,1903.1 1394.1,1902.8 1395.8,1902.5 1397.4,1902.5 1399.0,1902.4 1400.6,1900.2 1402.1,1898.0 1403.7,1898.0 1405.2,1897.8 1406.7,1896.5 1408.2,1895.1 1409.6,1893.4 1411.0,1891.6 1412.4,1889.9 1413.8,1888.1 1415.1,1887.6 1416.5,1887.3 1417.9,1886.1 1419.3,1884.4 1420.6,1883.4 1421.9,1883.4 1423.3,1883.0 1424.6,1881.1 1426.0,1879.2 1427.4,1878.7 1428.9,1878.5 1430.5,1877.6 1432.1,1876.8 1433.9,1876.7 1435.8,1876.1 1437.7,1874.8 1439.6,1875.8 1441.5,1877.2 1443.4,1878.2 1445.2,1877.0 1446.9,1874.8 1448.4,1874.0 1449.8,1873.1 1451.1,1872.1 1452.3,1870.8 1453.5,1869.1 1454.7,1867.1 1455.9,1865.2 1457.1,1864.0 1458.5,1863.4 1460.1,1864.0 1461.7,1865.3 1463.4,1865.9 1465.2,1866.5 1467.0,1869.0 1468.8,1869.7 1470.6,1868.3 1472.4,1868.2 1474.1,1868.3 1475.9,1868.7 1477.7,1868.3 1479.5,1866.6 1481.3,1867.2 1483.1,1868.3 1484.8,1865.8 1486.6,1864.0 1488.3,1863.3 1490.0,1862.8 1491.6,1862.3 1493.3,1861.7 1494.9,1860.9 1496.5,1858.7 1498.2,1856.8 1499.8,1857.2 1501.4,1857.0 1503.0,1854.9 1504.6,1854.7 1506.2,1857.5 1507.9,1858.3 1509.5,1857.3 1511.0,1857.2 1512.6,1857.5 1514.2,1858.1 1515.8,1858.9 1517.4,1860.3 1519.0,1861.9 1520.6,1863.2 1522.2,1864.3 1523.8,1864.6 1525.4,1865.0 1527.0,1865.9 1528.7,1867.0 1530.4,1868.1 1532.1,1868.5 1533.9,1868.5 1535.8,1870.4 1537.6,1871.7 1539.5,1872.2 1541.3,1871.6 1543.0,1870.7 1544.7,1871.2 1546.2,1871.1 1547.7,1868.9 1549.2,1866.8 1550.6,1867.2 1552.0,1867.2 1553.3,1865.2 1554.6,1863.1 1556.0,1861.5 1557.3,1860.3 1558.6,1859.3 1560.0,1858.9 1561.4,1857.6 1562.8,1853.6 1564.3,1850.9 1565.8,1853.1 1567.5,1854.6 1569.1,1853.7 1570.9,1854.4 1572.7,1856.7 1574.4,1856.2 1576.2,1855.4 1577.9,1857.1 1579.5,1858.7 1581.1,1860.2 1582.6,1861.6 1584.0,1863.0 1585.3,1864.3 1586.7,1865.2 1588.0,1866.1 1589.2,1866.8 1590.5,1867.4 1591.8,1868.6 1593.0,1870.1 1594.3,1871.7 1595.5,1874.0 1596.7,1876.3 1598.0,1877.4 1599.2,1878.1 1600.5,1878.4 1601.8,1878.4 1603.2,1878.7 1604.6,1881.8 1606.0,1885.0 1607.4,1885.8 1608.8,1886.6 1610.2,1888.0 1611.6,1889.4 1613.1,1889.9 1614.5,1890.0 1615.9,1891.4 1617.4,1893.4 1618.8,1894.1 1620.2,1893.7 1621.6,1894.6 1623.0,1897.0 1624.4,1898.9 1625.7,1899.3 1627.1,1899.9 1628.5,1902.1 1629.8,1904.2 1631.2,1905.8 1632.6,1907.3 1634.0,1907.6 1635.4,1907.3 1636.8,1908.0 1638.3,1909.6 1639.8,1910.8 1641.3,1911.6 1642.9,1912.9 1644.5,1914.6 1646.1,1915.2 1647.8,1915.3 1649.6,1914.1 1651.3,1913.3 1653.1,1915.5 1654.9,1917.0 1656.6,1917.7 1658.4,1919.4 1660.2,1920.7 1661.9,1917.5 1663.6,1916.1 1665.4,1917.8 1667.1,1920.0 1668.8,1922.5 1670.5,1921.1 1672.2,1919.5 1674.0,1920.3 1675.7,1921.5 1677.4,1923.7 1679.2,1924.9 1680.9,1925.6 1682.7,1924.1 1684.4,1923.1 1686.2,1924.2 1688.0,1924.4 1689.8,1923.8 1691.6,1924.8 1693.4,1925.3 1695.2,1923.6 1697.0,1923.2 1698.8,1923.9 1700.6,1922.2 1702.4,1920.7 1704.2,1921.3 1706.0,1921.6 1707.8,1921.5 1709.6,1922.6 1711.4,1923.4 1713.2,1922.7 1715.0,1921.6 1716.8,1920.2 1718.6,1921.2 1720.4,1922.3 1722.2,1922.3 1724.0,1921.8 1725.8,1920.8 1727.6,1920.5 1729.4,1920.2 1731.2,1920.2 1732.9,1919.3 1734.7,1917.7 1736.5,1919.0 1738.3,1920.5 1740.1,1920.5 1741.9,1919.8 1743.7,1918.7 1745.5,1919.9 1747.4,1920.8 1749.2,1918.6 1751.0,1918.1 1752.8,1918.9 1754.6,1919.1 1756.5,1919.8 1758.3,1922.3 1760.1,1921.2 1761.8,1917.6 1763.6,1919.1 1765.3,1920.9 1767.1,1921.1 1768.9,1920.7 1770.6,1919.7 1772.4,1919.6 1774.2,1919.4 1775.9,1916.5 1777.6,1913.9 1779.2,1911.8 1780.9,1911.8 1782.4,1913.6 1783.9,1912.7 1785.3,1910.3 1786.6,1908.8 1787.9,1908.4 1789.2,1907.7 1790.4,1905.9 1791.6,1904.1 1792.7,1903.4 1793.8,1903.2 1795.0,1902.9 1796.0,1901.3 1797.1,1899.7 1798.2,1897.9 1799.3,1895.6 1800.4,1893.3 1801.5,1891.6 1802.6,1890.9 1803.7,1890.4 1804.8,1888.9 1806.0,1887.1 1807.2,1885.3 1808.3,1883.7 1809.5,1882.1 1810.6,1880.7 1811.8,1879.4 1812.9,1878.0 1814.1,1876.4 1815.3,1874.9 1816.4,1873.5 1817.6,1872.7 1818.8,1871.9 1820.1,1870.5 1821.3,1869.1 1822.6,1867.5 1823.9,1865.9 1825.3,1864.6 1826.7,1864.7 1828.2,1864.7 1829.7,1862.4 1831.3,1860.6 1833.0,1860.7 1834.7,1860.5 1836.4,1860.0 1838.1,1860.0 1839.8,1860.2 1841.5,1857.9 1843.1,1855.6 1844.7,1856.7 1846.2,1857.3 1847.6,1855.1 1849.0,1852.8 1850.4,1851.4 1851.8,1850.0 1853.2,1848.4 1854.6,1846.8 1856.0,1846.1 1857.3,1845.8 1858.6,1844.8 1859.8,1843.1 1861.1,1841.3 1862.3,1839.2 1863.4,1837.2 1864.6,1835.5 1865.6,1834.1 1866.7,1832.7 1867.7,1831.6 1868.6,1830.4 1869.5,1829.1 1870.4,1827.7 1871.2,1826.2 1872.0,1824.6 1872.8,1823.0 1873.5,1821.6 1874.3,1820.2 1875.0,1818.8 1875.8,1817.4 1876.5,1815.9 1877.3,1814.4 1878.1,1812.8 1878.9,1811.3 1879.7,1809.7 1880.5,1808.1 1881.4,1806.5 1882.4,1804.8 1883.3,1803.1 1884.3,1801.3 1885.2,1799.5 1886.1,1797.7 1887.0,1795.9 1887.9,1794.1 1888.7,1792.7 1889.5,1791.2 1890.1,1789.6 1890.8,1788.0 1891.4,1786.4 1892.0,1784.7 1892.6,1783.0 1893.1,1781.3 1893.7,1779.6 1894.2,1777.8 1894.8,1776.1 1895.3,1774.4 1895.8,1772.6 1896.3,1770.9 1896.7,1769.1 1897.2,1767.3 1897.6,1765.6 1898.0,1763.8 1898.5,1762.1 1898.9,1760.3 1899.2,1758.5 1899.6,1756.8 1900.0,1755.0 1900.4,1753.3 1900.7,1751.5 1901.1,1749.7 1901.4,1748.0 1901.7,1746.2 1902.1,1744.5 1902.4,1742.7 1902.7,1740.9 1903.1,1739.1 1903.4,1737.4 1903.7,1735.6 1904.0,1733.8 1904.3,1732.0 1904.6,1730.3 1904.9,1728.5 1905.1,1726.7 1905.4,1724.9 1905.7,1723.1 1906.0,1721.4 1906.2,1719.6 1906.5,1717.8 1906.8,1716.0 1907.0,1714.2 1907.3,1712.4 1907.5,1710.6 1907.7,1708.8 1908.0,1707.0 1908.2,1705.3 1908.4,1703.5 1908.7,1701.7 1908.9,1699.9 1909.1,1698.1 1909.3,1696.3 1909.5,1694.5 1909.7,1692.7 1909.9,1690.9 1910.1,1689.2 1910.3,1687.4 1910.5,1685.6 1910.7,1683.8 1910.8,1682.0 1911.0,1680.2 1911.2,1678.4 1911.4,1676.6 1911.5,1674.8 1911.7,1673.1 1911.9,1671.3 1912.0,1669.5 1912.2,1667.7 1912.4,1665.9 1912.5,1664.1 1912.7,1662.3 1912.8,1660.5 1913.0,1658.7 1913.1,1656.9 1913.3,1655.1 1913.4,1653.3 1913.6,1651.5 1913.7,1649.7 1913.8,1647.9 1914.0,1646.1 1914.1,1644.3 1914.3,1642.5 1914.4,1640.7 1914.5,1639.0 1914.7,1637.2 1914.8,1635.4 1914.9,1633.6 1915.1,1631.8 1915.2,1630.0 1915.3,1628.2 1915.5,1626.4 1915.6,1624.6 1915.7,1622.8 1915.8,1621.0 1916.0,1619.2 1916.1,1617.4 1916.2,1615.6 1916.3,1613.8 1916.5,1612.0 1916.6,1610.2 1916.7,1608.4 1916.8,1606.6 1917.0,1604.8 1917.1,1603.0 1917.2,1601.2 1917.3,1599.4 1917.5,1597.6 1917.6,1595.8 1917.7,1594.0 1917.8,1592.2 1918.0,1590.4 1918.1,1588.6 1918.2,1586.8 1918.4,1585.0 1918.5,1583.2 1918.6,1581.4 1918.7,1579.6 1918.9,1577.8 1919.0,1576.0 1919.1,1574.3 1919.2,1572.5 1919.4,1570.7 1919.5,1568.9 1919.6,1567.1 1919.7,1565.3 1919.9,1563.5 1920.0,1561.7 1920.1,1559.9 1920.2,1558.1 1920.4,1556.3 1920.5,1554.5 1920.6,1552.7 1920.7,1550.9 1920.9,1549.1 1921.0,1547.3 1921.1,1545.5 1921.2,1543.7 1921.3,1541.9 1921.5,1540.1 1921.6,1538.3 1921.7,1536.5 1921.8,1534.7 1921.9,1532.9 1922.0,1531.1 1922.2,1529.3 1922.3,1527.5 1922.4,1525.7 1922.5,1523.9 1922.6,1522.1 1922.7,1520.3 1922.8,1518.5 1922.9,1516.7 1923.0,1514.9 1923.2,1513.1 1923.3,1511.4 1923.4,1509.6 1923.5,1507.8 1923.6,1506.0 1923.7,1504.2 1923.8,1502.4 1923.9,1500.6 1924.0,1498.8 1924.0,1497.0 1924.1,1495.2 1924.2,1493.4 1924.3,1491.6 1924.4,1489.8 1924.5,1488.0 1924.6,1486.2 1924.7,1484.4 1924.8,1482.6 1924.8,1480.8 1924.9,1479.0 1925.0,1477.2 1925.1,1475.4 1925.2,1473.6 1925.3,1471.8 1925.3,1470.0 1925.4,1468.2 1925.5,1466.4 1925.6,1464.6 1925.6,1462.8 1925.7,1461.0 1925.8,1459.2 1925.9,1457.4 1926.0,1455.6 1926.0,1453.8 1926.1,1452.0 1926.2,1450.2 1926.2,1448.4 1926.3,1446.6 1926.4,1444.8 1926.5,1443.0 1926.5,1441.2 1926.6,1439.4 1926.7,1437.6 1926.7,1435.8 1926.8,1434.0 1926.9,1432.2 1927.0,1430.4 1927.0,1428.6 1927.1,1426.8 1927.2,1425.0 1927.2,1423.2 1927.3,1421.4 1927.4,1419.6 1927.4,1417.8 1927.5,1416.0 1927.6,1414.2 1927.6,1412.4 1927.7,1410.6 1927.7,1408.8 1927.8,1407.0 1927.9,1405.2 1927.9,1403.4 1928.0,1401.6 1928.1,1399.8 1928.1,1398.0 1928.2,1396.2 1928.3,1394.4 1928.3,1392.6 1928.4,1390.8 1928.4,1389.0 1928.5,1387.2 1928.6,1385.4 1928.6,1383.6 1928.7,1381.8 1928.7,1380.0 1928.8,1378.2 1928.9,1376.4 1928.9,1374.6 1929.0,1372.8 1929.1,1371.0 1929.1,1369.2 1929.2,1367.4 1929.2,1365.6 1929.3,1363.8 1929.4,1362.0 1929.4,1360.2 1929.5,1358.4 1929.5,1356.6 1929.6,1354.8 1929.7,1353.0 1929.7,1351.2 1929.8,1349.4 1929.8,1347.6 1929.9,1345.8 1930.0,1344.0 1930.0,1342.2 1930.1,1340.4 1930.1,1338.6 1930.2,1336.8 1930.2,1335.0 1930.3,1333.2 1930.4,1331.4 1930.4,1329.6 1930.5,1327.8 1930.5,1326.0 1930.6,1324.2 1930.6,1322.4 1930.7,1320.6 1930.7,1318.8 1930.8,1317.0 1930.8,1315.2 1930.9,1313.4 1930.9,1311.6 1931.0,1309.8 1931.0,1308.0 1931.1,1306.2 1931.1,1304.4 1931.2,1302.6 1931.2,1300.8 1931.3,1299.0 1931.3,1297.2 1931.4,1295.4 1931.4,1293.6 1931.5,1291.8 1931.5,1290.0 1931.6,1288.2 1931.6,1286.4 1931.7,1284.6 1931.7,1282.8 1931.8,1281.0 1931.8,1279.2 1931.9,1277.4 1931.9,1275.6 1932.0,1273.8 1932.1,1272.0 1932.1,1270.2 1932.2,1268.4 1932.3,1266.6 1932.3,1264.8 1932.4,1263.0 1932.4,1261.2 1932.5,1259.4 1932.6,1257.6 1932.7,1255.8 1932.7,1254.0 1932.8,1252.2 1932.9,1250.4 1933.0,1248.6 1933.0,1246.8 1933.1,1245.0 1933.2,1243.2 1933.3,1241.4 1933.4,1239.6 1933.5,1237.8 1933.6,1236.0 1933.7,1234.2 1933.8,1232.4 1933.9,1230.6 1934.1,1228.8 1934.2,1227.0 1934.3,1225.2 1934.4,1223.4 1934.5,1221.6 1934.7,1219.8 1934.8,1218.0 1934.9,1216.2 1935.0,1214.5 1935.1,1212.7 1935.3,1210.9 1935.4,1209.1 1935.5,1207.3 1935.6,1205.5 1935.8,1203.7 1935.9,1201.9 1936.0,1200.1 1936.1,1198.3 1936.2,1196.5 1936.4,1194.7 1936.5,1192.9 1936.6,1191.1 1936.8,1189.3 1936.9,1187.5 1937.0,1185.7 1937.2,1183.9 1937.3,1182.1 1937.4,1180.3 1937.6,1178.5 1937.7,1176.7 1937.9,1174.9 1938.0,1173.1 1938.1,1171.3 1938.3,1169.5 1938.4,1167.7 1938.5,1165.9 1938.6,1164.2 1938.8,1162.4 1938.9,1160.6 1939.0,1158.8 1939.1,1157.0 1939.2,1155.2 1939.3,1153.4 1939.4,1151.6 1939.5,1149.8 1939.6,1148.0 1939.7,1146.2 1939.8,1144.4 1939.9,1142.6 1939.9,1140.8 1940.0,1139.0 1940.1,1137.2 1940.2,1135.4 1940.2,1133.6 1940.3,1131.8 1940.4,1130.0 1940.4,1128.2 1940.5,1126.4 1940.6,1124.6 1940.7,1122.8 1940.7,1121.0 1940.8,1119.2 1940.8,1117.4 1940.9,1115.6 1941.0,1113.8 1941.0,1112.0 1941.1,1110.2 1941.2,1108.4 1941.2,1106.6 1941.3,1104.8 1941.3,1103.0 1941.4,1101.2 1941.5,1099.4 1941.5,1097.6 1941.6,1095.8 1941.6,1094.0 1941.7,1092.2 1941.8,1090.4 1941.8,1088.6 1941.9,1086.8 1941.9,1085.0 1942.0,1083.2 1942.0,1081.4 1942.1,1079.6 1942.2,1077.8 1942.2,1076.0 1942.3,1074.2 1942.3,1072.4 1942.4,1070.6 1942.4,1068.8 1942.5,1067.0 1942.6,1065.2 1942.6,1063.4 1942.7,1061.6 1942.7,1059.8 1942.8,1058.0 1942.8,1056.2 1942.9,1054.4 1942.9,1052.6 1943.0,1050.8 1943.0,1049.0 1943.1,1047.2 1943.1,1045.4 1943.2,1043.6 1943.2,1041.8 1943.3,1040.0 1943.3,1038.2 1943.4,1036.4 1943.4,1034.6 1943.5,1032.8 1943.5,1031.0 1943.6,1029.2 1943.6,1027.4 1943.7,1025.6 1943.7,1023.8 1943.8,1022.0 1943.8,1020.2 1943.8,1018.4 1943.9,1016.6 1943.9,1014.8 1944.0,1013.0 1944.0,1011.2 1944.1,1009.4 1944.1,1007.6 1944.1,1005.8 1944.2,1004.0 1944.2,1002.2 1944.3,1000.4 1944.3,998.6 1944.3,996.8 1944.4,995.0 1944.4,993.2 1944.5,991.4 1944.5,989.6 1944.5,987.8 1944.6,986.0 1944.6,984.2 1944.7,982.4 1944.7,980.6 1944.7,978.8 1944.8,977.0 1944.8,975.2 1944.8,973.4 1944.9,971.6 1944.9,969.8 1945.0,968.0 1945.0,966.2 1945.0,964.4 1945.1,962.6 1945.1,960.8 1945.1,959.0 1945.2,957.2 1945.2,955.4 1945.2,953.6 1945.3,951.8 1945.3,950.0 1945.3,948.2 1945.4,946.4 1945.4,944.6 1945.4,942.8 1945.5,941.0 1945.5,939.2 1945.5,937.4 1945.5,935.6 1945.6,933.8 1945.6,932.0 1945.6,930.2 1945.7,928.4 1945.7,926.6 1945.7,924.8 1945.7,923.0 1945.8,921.2 1945.8,919.3 1945.8,917.5 1945.8,915.7 1945.9,913.9 1945.9,912.1 1945.9,910.3 1945.9,908.5 1946.0,906.7 1946.0,904.9 1946.0,903.1 1946.0,901.3 1946.0,899.5 1946.1,897.7 1946.1,895.9 1946.1,894.1 1946.1,892.3 1946.2,890.5 1946.2,888.7 1946.2,886.9 1946.2,885.1 1946.2,883.3 1946.3,881.5 1946.3,879.7 1946.3,877.9 1946.3,876.1 1946.3,874.3 1946.4,872.5 1946.4,870.7 1946.4,868.9 1946.4,867.1 1946.4,865.3 1946.5,863.5 1946.5,861.7 1946.5,859.9 1946.5,858.1 1946.6,856.3 1946.6,854.5 1946.6,852.7 1946.6,850.9 1946.7,849.1 1946.7,847.3 1946.7,845.5 1946.7,843.7 1946.8,841.9 1946.8,840.1 1946.8,838.3 1946.9,836.5 1946.9,834.7 1946.9,832.9 1947.0,831.1 1947.0,829.3 1947.0,827.5 1947.1,825.7 1947.1,823.9 1947.2,822.1 1947.2,820.3 1947.2,818.5 1947.3,816.7 1947.3,814.9 1947.4,813.1 1947.4,811.3 1947.5,809.5 1947.5,807.7 1947.5,805.9 1947.6,804.1 1947.6,802.3 1947.7,800.5 1947.7,798.7 1947.8,796.9 1947.8,795.1 1947.9,793.3 1947.9,791.5 1948.0,789.7 1948.0,787.9 1948.1,786.1 1948.1,784.3 1948.2,782.5 1948.2,780.7 1948.3,778.9 1948.3,777.1 1948.4,775.3 1948.4,773.5 1948.5,771.7 1948.5,769.9 1948.5,768.1 1948.6,766.3 1948.6,764.5 1948.7,762.7 1948.7,760.9 1948.8,759.1 1948.8,757.3 1948.9,755.5 1948.9,753.7 1949.0,751.9 1949.0,750.1 1949.1,748.3 1949.1,746.5 1949.2,744.7 1949.2,742.9 1949.3,741.1 1949.4,739.3 1949.4,737.5 1949.5,735.7 1949.5,733.9 1949.6,732.1 1949.6,730.3 1949.7,728.5 1949.7,726.7 1949.8,724.9 1949.8,723.1 1949.9,721.3 1949.9,719.5 1950.0,717.7 1950.0,715.9 1950.1,714.1 1950.1,712.3 1950.2,710.5 1950.2,708.7 1950.3,706.9 1950.3,705.1 1950.4,703.3 1950.4,701.5 1950.5,699.7 1950.5,697.9 1950.6,696.1 1950.6,694.3 1950.6,692.5 1950.7,690.7 1950.7,688.9 1950.8,687.1 1950.8,685.3 1950.9,683.5 1950.9,681.7 1951.0,679.9 1951.0,678.1 1951.1,676.3 1951.1,674.5 1951.2,672.7 1951.2,670.9 1951.2,669.1 1951.3,667.3 1951.3,665.5 1951.4,663.7 1951.4,661.9 1951.5,660.1 1951.5,658.3 1951.6,656.5 1951.6,654.7 1951.7,652.9 1951.7,651.1 1951.7,649.3 1951.8,647.5 1951.8,645.7 1951.9,643.9 1951.9,642.1 1952.0,640.3 1952.0,638.5 1952.1,636.7 1952.1,634.9 1952.1,633.1 1952.2,631.3 1952.2,629.5 1952.3,627.7 1952.3,625.9 1952.4,624.1 1952.4,622.3 1952.5,620.5 1952.5,618.7 1952.5,616.9 1952.6,615.1 1952.6,613.3 1952.7,611.5 1952.7,609.7 1952.8,607.9 1952.8,606.1 1952.8,604.3 1952.9,602.5 1952.9,600.7 1953.0,598.9 1953.0,597.1 1953.1,595.3 1953.1,593.5 1953.2,591.7 1953.2,589.9 1953.2,588.1 1953.3,586.3 1953.3,584.5 1953.4,582.7 1953.4,580.9 1953.5,579.1 1953.5,577.3 1953.6,575.5 1953.6,573.7 1953.7,571.9 1953.7,570.1 1953.8,568.3 1953.8,566.5 1953.9,564.7 1954.0,562.9 1954.0,561.1 1954.1,559.3 1954.1,557.5 1954.2,555.7 1954.2,553.9 1954.3,552.1 1954.3,550.3 1954.4,548.5 1954.4,546.7 1954.5,544.9 1954.5,543.1 1954.6,541.3 1954.6,539.5 1954.7,537.6 1954.7,535.8 1954.8,534.0 1954.8,532.2 1954.9,530.4 1955.0,528.6 1955.0,526.8 1955.1,525.0 1955.2,523.2 1955.2,521.4 1955.3,519.6 1955.4,517.8 1955.5,516.0 1955.5,514.3 1955.6,512.5 1955.7,510.7 1955.8,508.9 1955.9,507.1 1956.0,505.3 1956.1,503.5 1956.2,501.7 1956.3,499.9 1956.4,498.1 1956.6,496.3 1956.7,494.5 1956.9,492.7 1957.1,490.9 1957.3,489.1 1957.5,487.3 1957.7,485.5 1958.0,483.7 1958.2,482.0 1958.5,480.2 1958.8,478.2 1959.1,475.9 1959.5,473.6 1959.9,471.9 1960.3,471.5 1960.7,471.5 1961.1,472.8 1961.5,474.9 1961.8,477.2 1962.1,479.4 1962.3,481.2 1962.5,483.0 1962.7,484.8 1962.8,486.6 1963.0,488.4 1963.1,490.2 1963.3,492.0 1963.4,493.8 1963.5,495.6 1963.6,497.4 1963.7,499.2 1963.8,501.0 1963.9,502.8 1964.0,504.6 1964.1,506.4 1964.2,508.2 1964.3,510.0 1964.4,511.8 1964.5,513.6 1964.5,515.4 1964.6,517.2 1964.7,519.0 1964.8,520.8 1964.9,522.6 1965.0,524.4 1965.0,526.2 1965.1,528.0 1965.2,529.8 1965.3,531.6 1965.4,533.4 1965.4,535.2 1965.5,537.0 1965.6,538.8 1965.7,540.6 1965.7,542.4 1965.8,544.2 1965.9,546.0 1965.9,547.8 1966.0,549.6 1966.1,551.4 1966.1,553.2 1966.2,555.0 1966.2,556.8 1966.3,558.6 1966.4,560.4 1966.4,562.2 1966.5,564.0 1966.5,565.8 1966.6,567.6 1966.6,569.4 1966.7,571.2 1966.7,573.0 1966.8,574.8 1966.8,576.6 1966.9,578.4 1966.9,580.2 1967.0,582.0 1967.0,583.8 1967.1,585.6 1967.1,587.4 1967.2,589.2 1967.2,591.0 1967.3,592.8 1967.3,594.6 1967.3,596.4 1967.4,598.2 1967.4,600.0 1967.5,601.8 1967.5,603.6 1967.5,605.4 1967.6,607.2 1967.6,609.0 1967.7,610.8 1967.7,612.6 1967.7,614.4 1967.8,616.2 1967.8,618.0 1967.8,619.8 1967.9,621.6 1967.9,623.4 1968.0,625.2 1968.0,627.0 1968.1,628.8 1968.1,630.6 1968.1,632.4 1968.2,634.2 1968.2,636.0 1968.3,637.8 1968.3,639.6 1968.4,641.4 1968.4,643.2 1968.4,645.0 1968.5,646.8 1968.5,648.6 1968.6,650.4 1968.6,652.2 1968.7,654.0 1968.7,655.8 1968.8,657.6 1968.8,659.4 1968.9,661.2 1968.9,663.0 1969.0,664.8 1969.0,666.6 1969.0,668.4 1969.1,670.2 1969.1,672.0 1969.2,673.8 1969.2,675.6 1969.3,677.4 1969.3,679.2 1969.4,681.0 1969.4,682.8 1969.5,684.6 1969.5,686.4 1969.5,688.2 1969.6,690.0 1969.6,691.8 1969.7,693.6 1969.7,695.4 1969.8,697.2 1969.8,699.0 1969.9,700.8 1969.9,702.6 1970.0,704.4 1970.0,706.2 1970.1,708.0 1970.1,709.8 1970.2,711.6 1970.2,713.4 1970.3,715.2 1970.3,717.0 1970.4,718.8 1970.4,720.6 1970.5,722.4 1970.5,724.2 1970.6,726.0 1970.6,727.8 1970.7,729.6 1970.7,731.4 1970.8,733.2 1970.8,735.0 1970.9,736.8 1970.9,738.6 1971.0,740.4 1971.0,742.2 1971.1,744.0 1971.1,745.8 1971.1,747.6 1971.2,749.4 1971.2,751.2 1971.3,753.0 1971.3,754.8 1971.4,756.6 1971.4,758.4 1971.4,760.2 1971.5,762.0 1971.5,763.8 1971.5,765.6 1971.6,767.4 1971.6,769.2 1971.6,771.0 1971.6,772.8 1971.7,774.6 1971.7,776.4 1971.7,778.2 1971.7,780.0 1971.7,781.8 1971.8,783.6 1971.8,785.4 1971.8,787.2 1971.8,789.0 1971.8,790.8 1971.9,792.6 1971.9,794.4 1971.9,796.2 1971.9,798.0 1971.9,799.8 1971.9,801.6 1971.9,803.4 1972.0,805.2 1972.0,807.0 1972.0,808.8 1972.0,810.6 1972.0,812.4 1972.0,814.2 1972.0,816.0 1972.1,817.8 1972.1,819.6 1972.1,821.4 1972.1,823.2 1972.1,825.0 1972.1,826.8 1972.2,828.6 1972.2,830.4 1972.2,832.2 1972.2,834.0 1972.2,835.8 1972.3,837.6 1972.3,839.4 1972.3,841.2 1972.3,843.0 1972.4,844.8 1972.4,846.6 1972.4,848.4 1972.5,850.2 1972.5,852.0 1972.5,853.8 1972.6,855.6 1972.6,857.4 1972.7,859.2 1972.7,861.0 1972.8,862.8 1972.8,864.6 1972.8,866.4 1972.9,868.2 1972.9,870.0 1973.0,871.8 1973.0,873.6 1973.1,875.4 1973.1,877.2 1973.2,879.0 1973.2,880.8 1973.3,882.6 1973.3,884.4 1973.4,886.2 1973.4,888.0 1973.5,889.8 1973.5,891.6 1973.6,893.5 1973.6,895.3 1973.7,897.1 1973.7,898.9 1973.8,900.7 1973.8,902.5 1973.9,904.3 1973.9,906.1 1973.9,907.9 1974.0,909.7 1974.0,911.5 1974.1,913.3 1974.1,915.1 1974.1,916.9 1974.2,918.7 1974.2,920.5 1974.2,922.3 1974.3,924.1 1974.3,925.9 1974.3,927.7 1974.3,929.5 1974.4,931.3 1974.4,933.1 1974.4,934.9 1974.4,936.7 1974.5,938.5 1974.5,940.3 1974.5,942.1 1974.5,943.9 1974.5,945.7 1974.6,947.5 1974.6,949.3 1974.6,951.1 1974.6,952.9 1974.6,954.7 1974.7,956.5 1974.7,958.3 1974.7,960.1 1974.7,961.9 1974.7,963.7 1974.7,965.5 1974.8,967.3 1974.8,969.1 1974.8,970.9 1974.8,972.7 1974.8,974.5 1974.8,976.3 1974.9,978.1 1974.9,979.9 1974.9,981.7 1974.9,983.5 1974.9,985.3 1974.9,987.1 1975.0,988.9 1975.0,990.7 1975.0,992.5 1975.0,994.3 1975.0,996.1 1975.0,997.9 1975.1,999.7 1975.1,1001.5 1975.1,1003.3 1975.1,1005.1 1975.1,1006.9 1975.2,1008.7 1975.2,1010.5 1975.2,1012.3 1975.2,1014.1 1975.2,1015.9 1975.3,1017.7 1975.3,1019.5 1975.3,1021.3 1975.3,1023.1 1975.4,1024.9 1975.4,1026.7 1975.4,1028.5 1975.4,1030.3 1975.4,1032.1 1975.5,1033.9 1975.5,1035.7 1975.5,1037.5 1975.5,1039.3 1975.6,1041.1 1975.6,1042.9 1975.6,1044.7 1975.6,1046.5 1975.7,1048.3 1975.7,1050.1 1975.7,1051.9 1975.7,1053.7 1975.8,1055.5 1975.8,1057.3 1975.8,1059.1 1975.8,1060.9 1975.9,1062.7 1975.9,1064.5 1975.9,1066.3 1975.9,1068.1 1976.0,1069.9 1976.0,1071.7 1976.0,1073.5 1976.1,1075.3 1976.1,1077.1 1976.1,1078.9 1976.1,1080.7 1976.2,1082.5 1976.2,1084.3 1976.2,1086.1 1976.3,1087.9 1976.3,1089.7 1976.3,1091.5 1976.4,1093.3 1976.4,1095.1 1976.4,1096.9 1976.5,1098.7 1976.5,1100.5 1976.5,1102.3 1976.6,1104.1 1976.6,1105.9 1976.7,1107.7 1976.7,1109.5 1976.8,1111.3 1976.8,1113.1 1976.9,1114.9 1976.9,1116.7 1977.0,1118.5 1977.0,1120.3 1977.1,1122.1 1977.1,1123.9 1977.2,1125.7 1977.2,1127.5 1977.3,1129.3 1977.3,1131.1 1977.4,1132.9 1977.5,1134.7 1977.5,1136.5 1977.6,1138.3 1977.6,1140.1 1977.7,1141.9 1977.8,1143.7 1977.8,1145.5 1977.9,1147.3 1978.0,1149.1 1978.0,1150.9 1978.1,1152.7 1978.2,1154.5 1978.2,1156.3 1978.3,1158.1 1978.4,1159.9 1978.4,1161.7 1978.5,1163.5 1978.6,1165.3 1978.6,1167.1 1978.7,1168.9 1978.8,1170.7 1978.8,1172.5 1978.9,1174.3 1979.0,1176.1 1979.0,1177.9 1979.1,1179.7 1979.2,1181.5 1979.2,1183.3 1979.3,1185.1 1979.4,1186.9 1979.4,1188.7 1979.5,1190.5 1979.6,1192.3 1979.7,1194.1 1979.7,1195.9 1979.8,1197.7 1979.9,1199.5 1980.0,1201.3 1980.0,1203.1 1980.1,1204.9 1980.2,1206.7 1980.3,1208.5 1980.4,1210.3 1980.4,1212.1 1980.5,1213.9 1980.6,1215.7 1980.7,1217.5 1980.8,1219.3 1980.8,1221.1 1980.9,1222.9 1981.0,1224.7 1981.1,1226.5 1981.2,1228.3 1981.2,1230.1 1981.3,1231.9 1981.4,1233.7 1981.5,1235.5 1981.6,1237.3 1981.6,1239.1 1981.7,1240.9 1981.8,1242.7 1981.9,1244.5 1981.9,1246.3 1982.0,1248.1 1982.1,1249.9 1982.1,1251.7 1982.2,1253.5 1982.3,1255.3 1982.3,1257.1 1982.4,1258.9 1982.5,1260.7 1982.5,1262.5 1982.6,1264.3 1982.7,1266.1 1982.7,1267.9 1982.8,1269.7 1982.9,1271.5 1982.9,1273.3 1983.0,1275.1 1983.1,1276.9 1983.1,1278.7 1983.2,1280.5 1983.2,1282.3 1983.3,1284.1 1983.4,1285.9 1983.4,1287.7 1983.5,1289.5 1983.6,1291.3 1983.6,1293.1 1983.7,1294.9 1983.8,1296.7 1983.8,1298.5 1983.9,1300.3 1984.0,1302.1 1984.0,1303.9 1984.1,1305.7 1984.2,1307.5 1984.3,1309.3 1984.3,1311.1 1984.4,1312.9 1984.5,1314.7 1984.5,1316.5 1984.6,1318.3 1984.7,1320.1 1984.7,1321.9 1984.8,1323.7 1984.9,1325.5 1985.0,1327.3 1985.0,1329.1 1985.1,1330.9 1985.2,1332.7 1985.3,1334.5 1985.3,1336.3 1985.4,1338.1 1985.5,1339.9 1985.6,1341.7 1985.6,1343.5 1985.7,1345.3 1985.8,1347.1 1985.9,1348.9 1985.9,1350.7 1986.0,1352.5 1986.1,1354.3 1986.2,1356.1 1986.3,1357.9 1986.3,1359.7 1986.4,1361.5 1986.5,1363.3 1986.6,1365.1 1986.7,1366.9 1986.8,1368.7 1986.8,1370.5 1986.9,1372.3 1987.0,1374.1 1987.1,1375.9 1987.2,1377.7 1987.3,1379.5 1987.3,1381.3 1987.4,1383.1 1987.5,1384.9 1987.6,1386.7 1987.7,1388.5 1987.8,1390.3 1987.9,1392.1 1988.0,1393.9 1988.1,1395.6 1988.2,1397.4 1988.3,1399.2 1988.4,1401.0 1988.5,1402.8 1988.6,1404.6 1988.7,1406.4 1988.8,1408.2 1988.9,1410.0 1989.0,1411.8 1989.1,1413.6 1989.2,1415.4 1989.3,1417.2 1989.4,1419.0 1989.5,1420.8 1989.6,1422.6 1989.7,1424.4 1989.9,1426.2 1990.0,1428.0 1990.1,1429.8 1990.2,1431.6 1990.3,1433.4 1990.4,1435.2 1990.5,1437.0 1990.7,1438.8 1990.8,1440.6 1990.9,1442.4 1991.0,1444.2 1991.1,1446.0 1991.3,1447.8 1991.4,1449.6 1991.5,1451.4 1991.6,1453.2 1991.8,1455.0 1991.9,1456.8 1992.0,1458.6 1992.1,1460.4 1992.2,1462.2 1992.4,1463.9 1992.5,1465.7 1992.6,1467.5 1992.8,1469.3 1992.9,1471.1 1993.0,1472.9 1993.1,1474.7 1993.3,1476.5 1993.4,1478.3 1993.5,1480.1 1993.7,1481.9 1993.8,1483.7 1993.9,1485.5 1994.1,1487.3 1994.2,1489.1 1994.3,1490.9 1994.5,1492.7 1994.6,1494.5 1994.7,1496.3 1994.9,1498.1 1995.0,1499.9 1995.2,1501.7 1995.3,1503.5 1995.4,1505.3 1995.6,1507.1 1995.7,1508.8 1995.9,1510.6 1996.0,1512.4 1996.1,1514.2 1996.3,1516.0 1996.4,1517.8 1996.6,1519.6 1996.7,1521.4 1996.9,1523.2 1997.0,1525.0 1997.2,1526.8 1997.3,1528.6 1997.5,1530.4 1997.6,1532.2 1997.8,1534.0 1997.9,1535.8 1998.1,1537.6 1998.2,1539.4 1998.4,1541.2 1998.5,1542.9 1998.7,1544.7 1998.9,1546.5 1999.0,1548.3 1999.2,1550.1 1999.3,1551.9 1999.5,1553.7 1999.7,1555.5 1999.8,1557.3 2000.0,1559.1 2000.1,1560.9 2000.3,1562.7 2000.4,1564.5 2000.6,1566.3 2000.8,1568.1 2000.9,1569.9 2001.1,1571.7 2001.2,1573.4 2001.4,1575.2 2001.5,1577.0 2001.7,1578.8 2001.9,1580.6 2002.0,1582.4 2002.2,1584.2 2002.3,1586.0 2002.5,1587.8 2002.6,1589.6 2002.8,1591.4 2002.9,1593.2 2003.0,1595.0 2003.2,1596.8 2003.3,1598.6 2003.5,1600.4 2003.6,1602.2 2003.7,1604.0 2003.9,1605.8 2004.0,1607.6 2004.1,1609.3 2004.3,1611.1 2004.4,1612.9 2004.5,1614.7 2004.6,1616.5 2004.8,1618.3 2004.9,1620.1 2005.0,1621.9 2005.1,1623.7 2005.2,1625.5 2005.3,1627.3 2005.4,1629.1 2005.5,1630.9 2005.6,1632.7 2005.7,1634.5 2005.8,1636.3 2005.9,1638.1 2006.0,1639.9 2006.1,1641.7 2006.2,1643.5 2006.3,1645.3 2006.4,1647.1 2006.4,1648.9 2006.5,1650.7 2006.6,1652.5 2006.7,1654.3 2006.8,1656.1 2006.9,1657.9 2007.0,1659.7 2007.1,1661.5 2007.2,1663.3 2007.3,1665.1 2007.4,1666.9 2007.5,1668.7 2007.6,1670.5 2007.7,1672.3 2007.8,1674.1 2007.9,1675.9 2008.0,1677.7 2008.1,1679.5 2008.2,1681.3 2008.3,1683.1 2008.4,1684.9 2008.6,1686.7 2008.7,1688.5 2008.8,1690.3 2009.0,1692.1 2009.1,1693.8 2009.3,1695.6 2009.4,1697.4 2009.6,1699.2 2009.7,1701.0 2009.9,1702.8 2010.1,1704.6 2010.3,1706.4 2010.5,1708.2 2010.7,1710.0 2010.9,1711.8 2011.1,1713.5 2011.3,1715.3 2011.5,1717.1 2011.8,1718.9 2012.0,1720.7 2012.3,1722.5 2012.5,1724.3 2012.8,1726.1 2013.0,1727.8 2013.3,1729.6 2013.5,1731.4 2013.8,1733.2 2014.1,1735.0 2014.4,1736.8 2014.6,1738.5 2014.9,1740.3 2015.2,1742.1 2015.5,1743.9 2015.8,1745.6 2016.0,1747.4 2016.3,1749.2 2016.6,1751.0 2016.9,1752.8 2017.1,1754.6 2017.4,1756.5 2017.7,1758.3 2017.9,1760.1 2018.2,1762.0 2018.5,1763.8 2018.8,1765.6 2019.1,1767.5 2019.3,1769.3 2019.6,1771.1 2020.0,1773.0 2020.3,1774.8 2020.6,1776.6 2021.0,1778.4 2021.3,1780.2 2021.7,1781.9 2022.1,1783.7 2022.5,1785.4 2022.9,1787.1 2023.4,1788.8 2023.8,1790.5 2024.3,1792.1 2024.8,1793.7 2025.4,1795.4 2026.0,1797.3 2026.6,1799.2 2027.4,1800.7 2028.4,1801.9 2029.5,1803.1 2030.7,1804.4 2031.9,1805.7 2033.2,1806.7 2034.6,1807.7 2035.9,1809.3 2037.1,1811.4 2038.3,1812.7 2039.5,1812.6 2040.6,1812.7 2041.6,1814.3 2042.7,1816.9 2043.8,1819.6 2044.9,1821.1 2046.0,1822.5 2047.1,1823.8 2048.1,1824.6 2049.2,1825.4 2050.2,1826.7 2051.3,1829.8 2052.3,1832.9 2053.3,1835.0 2054.3,1835.0 2055.2,1835.1 2056.2,1835.8 2057.0,1837.9 2057.8,1839.6 2058.7,1841.0 2059.6,1841.8 2060.8,1842.7 2062.4,1843.9 2064.1,1846.9 2065.8,1847.9 2067.5,1846.8 2069.0,1848.2 2070.5,1850.8 2071.9,1852.6 2073.4,1853.9 2074.8,1854.7 2076.2,1854.9 2077.6,1853.8 2079.1,1851.4 2080.5,1849.3 2081.9,1848.3 2083.4,1848.0 2084.9,1849.4 2086.7,1849.9 2088.6,1847.3 2090.3,1847.9 2091.2,1849.6 2091.9,1852.3 2092.4,1854.4 2092.8,1856.7 2093.2,1859.1 2093.6,1861.3 2094.0,1863.1 2094.5,1863.9 2095.0,1864.3 2095.6,1863.9 2096.3,1862.4 2097.0,1860.2 2097.7,1857.8 2098.5,1855.3 2099.2,1853.2 2100.0,1851.7 2100.7,1850.9 2101.3,1850.8 2102.0,1851.6 2102.6,1852.9 2103.2,1855.0 2103.7,1857.5 2104.3,1860.0 2105.0,1862.4 2105.6,1864.3 2106.3,1865.1 2107.0,1864.8 2107.8,1865.5 2108.7,1865.7 2109.6,1865.1 2110.6,1863.4 2111.7,1861.3 2112.7,1859.2 2113.8,1856.7 2114.9,1853.9 2116.0,1851.2 2117.2,1851.6 2118.4,1852.2 2119.6,1852.3 2120.8,1851.5 2122.1,1850.6 2123.4,1847.1 2124.7,1843.6 2126.0,1842.0 2127.3,1840.9 2128.6,1840.3 2130.0,1840.1 2131.3,1839.8 2132.7,1837.6 2134.2,1836.0 2135.7,1836.6 2137.3,1837.6 2138.7,1839.6 2140.1,1841.8 2141.3,1843.8 2142.4,1845.7 2143.3,1847.5 2144.2,1849.1 2145.0,1850.9 2145.7,1852.6 2146.5,1854.4 2147.2,1856.3 2148.0,1858.2 2148.8,1860.1 2149.6,1861.7 2150.5,1863.2 2151.3,1864.8 2152.1,1866.3 2152.9,1867.6 2153.7,1868.8 2154.6,1869.9 2155.5,1871.5 2156.4,1873.6 2157.4,1875.8 2158.4,1878.0 2159.5,1880.1 2160.6,1882.4 2161.8,1884.0 2163.1,1885.2 2164.4,1886.3 2165.8,1887.4 2167.2,1888.0 2168.7,1887.9 2170.2,1887.6 2171.9,1888.9 2173.7,1889.0 2175.5,1887.2 2177.4,1888.2 2179.2,1889.9 2181.1,1889.2 2182.9,1889.7 2184.7,1891.2 2186.6,1891.1 2188.4,1890.5 2190.2,1889.2 2191.9,1889.6 2193.5,1891.1 2194.9,1892.9 2196.2,1895.0 2197.4,1896.4 2198.6,1897.0 2199.8,1897.3 2201.0,1898.5 2202.3,1899.9 2203.7,1900.4 2205.1,1899.8 2206.7,1898.7 2208.3,1896.9 2210.0,1896.8 2211.6,1898.0 2213.3,1897.8 2215.0,1897.6 2216.6,1897.1 2218.2,1896.9 2219.8,1896.9 2221.5,1897.2 2223.1,1897.7 2224.7,1898.6 2226.4,1899.9 2228.0,1900.4 2229.7,1900.5 2231.3,1902.4 2233.0,1904.6 2234.7,1905.3 2236.5,1905.8 2238.3,1906.0 2240.1,1905.3 2242.0,1904.1 2243.9,1905.0 2245.8,1905.5 2247.6,1905.5 2249.4,1907.3 2251.1,1909.4 2252.7,1908.3 2254.3,1907.4 2255.7,1906.5 2257.0,1907.0 2258.2,1910.0 2259.4,1912.8 2260.7,1915.0 2262.2,1916.1 2263.7,1915.5 2265.4,1913.4 2267.1,1912.1 2268.9,1911.6 2270.6,1910.7 2272.3,1909.8 2274.0,1908.0 2275.8,1907.1 2277.5,1907.6 2279.3,1908.3 2281.1,1909.3 2282.8,1910.8 2284.6,1912.1 2286.4,1912.9 2288.2,1913.8 2290.0,1914.6 2291.8,1914.0 2293.6,1914.1 2295.4,1915.8 2297.2,1915.7 2299.0,1914.8 2300.8,1914.6 2302.6,1915.0 2304.4,1916.7 2306.2,1916.1 2308.0,1914.3 2309.8,1912.4 2311.6,1911.7 2313.4,1913.4 2315.2,1914.8 2317.0,1915.9 2318.8,1912.8 2320.6,1911.5 2322.4,1914.2 2324.2,1915.2 2326.0,1915.2 2327.8,1914.1 2329.6,1913.4 2331.4,1913.3 2333.2,1914.0 2335.0,1915.1 2336.8,1915.0 2338.6,1915.6 2340.4,1917.5 2342.2,1917.5 2344.0,1916.6"/>
<polyline stroke="#0000ff" points="559.2,1885.3 561.1,1889.0 562.9,1890.2 564.6,1889.2 566.2,1888.0 567.6,1887.0 568.9,1887.9 570.1,1889.8 571.2,1891.6 572.3,1893.0 573.4,1894.6 574.5,1896.1 575.6,1897.4 576.8,1898.3 578.0,1900.4 579.1,1902.8 580.3,1904.8 581.5,1905.4 582.8,1905.8 584.1,1906.6 585.6,1907.4 587.2,1907.7 588.9,1907.8 590.6,1909.4 592.5,1910.7 594.3,1910.5 596.1,1911.0 597.9,1912.0 599.6,1911.3 601.4,1910.9 603.2,1911.9 605.0,1911.9 606.8,1911.0 608.6,1912.7 610.4,1914.2 612.2,1913.7 613.9,1913.7 615.7,1914.0 617.5,1914.3 619.3,1914.3 621.1,1913.0 622.9,1913.3 624.7,1915.3 626.5,1916.9 628.3,1917.6 630.1,1914.0 631.9,1912.2 633.7,1912.2 635.4,1912.6 637.2,1913.3 639.0,1915.9 640.8,1917.0 642.6,1916.5 644.4,1917.3 646.2,1918.3 648.0,1918.1 649.8,1917.8 651.6,1917.4 653.4,1917.5 655.2,1917.6 657.0,1917.2 658.8,1917.5 660.6,1918.6 662.4,1917.4 664.2,1915.7 666.0,1916.5 667.8,1917.3 669.6,1918.0 671.4,1919.5 673.2,1920.8 674.9,1918.4 676.7,1917.0 678.5,1917.0 680.3,1917.6 682.1,1918.6 683.9,1920.5 685.7,1921.4 687.4,1920.4 689.2,1921.4 691.0,1923.1 692.8,1920.1 694.5,1918.7 696.3,1921.6 698.1,1922.5 699.9,1922.2 701.6,1919.6 703.4,1917.6 705.2,1918.8 706.9,1919.6 708.7,1920.2 710.5,1919.0 712.2,1917.7 714.0,1918.2 715.7,1918.8 717.5,1919.7 719.2,1918.2 720.9,1915.7 722.6,1914.5 724.4,1913.5 726.1,1912.5 727.8,1912.5 729.6,1913.5 731.4,1912.8 733.1,1911.6 734.9,1911.2 736.6,1910.9 738.4,1910.6 740.2,1910.8 741.9,1911.2 743.7,1909.3 745.5,1907.6 747.3,1906.8 749.1,1905.8 750.8,1904.7 752.6,1907.7 754.4,1910.1 756.2,1908.7 758.0,1908.8 759.8,1910.1 761.6,1908.7 763.4,1907.1 765.1,1906.1 766.9,1906.1 768.7,1907.1 770.5,1906.5 772.3,1905.4 774.0,1903.9 775.7,1903.0 777.3,1902.7 778.9,1903.4 780.4,1904.7 781.9,1903.7 783.4,1901.4 784.9,1899.9 786.4,1898.8 787.9,1897.4 789.5,1895.9 791.0,1894.6 792.7,1893.6 794.4,1894.3 796.2,1895.2 798.0,1893.8 799.8,1892.6 801.6,1891.5 803.3,1891.4 805.0,1891.4 806.6,1890.1 808.1,1888.7 809.5,1888.6 810.9,1888.2 812.2,1887.7 813.6,1887.1 815.0,1885.0 816.4,1882.3 817.9,1881.8 819.5,1882.9 821.0,1881.5 822.6,1878.7 824.2,1878.0 825.7,1877.8 827.2,1876.2 828.7,1874.3 830.2,1873.5 831.7,1873.0 833.1,1872.1 834.5,1871.2 835.8,1869.8 837.0,1868.2 838.1,1866.7 839.1,1865.1 840.0,1863.5 840.9,1861.7 841.8,1859.9 842.6,1858.1 843.5,1856.3 844.4,1854.5 845.4,1852.9 846.5,1851.5 847.8,1850.3 849.5,1849.0 851.5,1849.5 853.0,1850.1 853.8,1849.5 854.4,1848.3 855.0,1846.7 855.4,1844.8 855.8,1842.8 856.3,1840.7 856.7,1838.7 857.2,1836.8 857.8,1835.3 858.4,1833.8 859.2,1832.3 859.9,1830.6 860.6,1828.8 861.3,1827.0 861.9,1825.1 862.4,1823.4 862.8,1821.6 863.2,1819.9 863.6,1818.1 864.0,1816.4 864.3,1814.6 864.6,1812.8 864.9,1811.0 865.3,1809.2 865.6,1807.5 865.9,1805.7 866.2,1803.9 866.5,1802.1 866.8,1800.4 867.2,1798.6 867.5,1796.8 867.8,1795.1 868.1,1793.3 868.4,1791.5 868.7,1789.7 869.0,1787.9 869.3,1786.2 869.6,1784.4 869.9,1782.6 870.2,1780.8 870.4,1779.0 870.7,1777.3 870.9,1775.5 871.1,1773.7 871.3,1771.9 871.6,1770.1 871.8,1768.3 871.9,1766.6 872.1,1764.8 872.3,1763.0 872.5,1761.2 872.7,1759.4 872.8,1757.6 873.0,1755.8 873.2,1754.0 873.3,1752.2 873.5,1750.4 873.6,1748.6 873.8,1746.8 873.9,1745.0 874.1,1743.2 874.2,1741.4 874.4,1739.6 874.5,1737.9 874.7,1736.1 874.8,1734.3 875.0,1732.5 875.1,1730.7 875.3,1728.9 875.4,1727.1 875.6,1725.3 875.7,1723.5 875.9,1721.7 876.0,1719.9 876.2,1718.1 876.3,1716.3 876.5,1714.5 876.6,1712.7 876.8,1710.9 876.9,1709.1 877.0,1707.3 877.2,1705.5 877.3,1703.7 877.5,1702.0 877.6,1700.2 877.7,1698.4 877.9,1696.6 878.0,1694.8 878.2,1693.0 878.3,1691.2 878.4,1689.4 878.6,1687.6 878.7,1685.8 878.9,1684.0 879.0,1682.2 879.2,1680.4 879.3,1678.6 879.5,1676.8 879.6,1675.0 879.8,1673.2 879.9,1671.4 880.1,1669.6 880.2,1667.8 880.3,1666.1 880.5,1664.3 880.6,1662.5 880.8,1660.7 880.9,1658.9 881.0,1657.1 881.2,1655.3 881.3,1653.5 881.4,1651.7 881.6,1649.9 881.7,1648.1 881.8,1646.3 881.9,1644.5 882.1,1642.7 882.2,1640.9 882.3,1639.1 882.4,1637.3 882.5,1635.5 882.6,1633.7 882.7,1631.9 882.8,1630.1 883.0,1628.3 883.1,1626.5 883.2,1624.7 883.3,1622.9 883.4,1621.1 883.5,1619.3 883.6,1617.5 883.7,1615.7 883.8,1613.9 883.9,1612.2 884.0,1610.4 884.1,1608.6 884.2,1606.8 884.3,1605.0 884.5,1603.2 884.6,1601.4 884.7,1599.6 884.8,1597.8 884.9,1596.0 885.0,1594.2 885.1,1592.4 885.3,1590.6 885.4,1588.8 885.5,1587.0 885.6,1585.2 885.8,1583.4 885.9,1581.6 886.0,1579.8 886.1,1578.0 886.3,1576.2 886.4,1574.4 886.5,1572.6 886.6,1570.8 886.8,1569.0 886.9,1567.2 887.0,1565.4 887.1,1563.6 887.3,1561.8 887.4,1560.0 887.5,1558.2 887.6,1556.5 887.7,1554.7 887.8,1552.9 888.0,1551.1 888.1,1549.3 888.2,1547.5 888.3,1545.7 888.4,1543.9 888.5,1542.1 888.6,1540.3 888.7,1538.5 888.8,1536.7 888.9,1534.9 889.0,1533.1 889.0,1531.3 889.1,1529.5 889.2,1527.7 889.3,1525.9 889.4,1524.1 889.5,1522.3 889.6,1520.5 889.7,1518.7 889.7,1516.9 889.8,1515.1 889.9,1513.3 890.0,1511.5 890.1,1509.7 890.2,1507.9 890.2,1506.1 890.3,1504.3 890.4,1502.5 890.5,1500.7 890.6,1498.9 890.7,1497.1 890.8,1495.3 890.8,1493.5 890.9,1491.7 891.0,1489.9 891.1,1488.1 891.2,1486.3 891.3,1484.5 891.4,1482.7 891.5,1480.9 891.5,1479.1 891.6,1477.3 891.7,1475.5 891.8,1473.7 891.9,1471.9 892.0,1470.1 892.1,1468.3 892.2,1466.5 892.3,1464.7 892.4,1462.9 892.5,1461.1 892.5,1459.3 892.6,1457.5 892.7,1455.7 892.8,1453.9 892.9,1452.1 893.0,1450.3 893.1,1448.5 893.2,1446.7 893.3,1445.0 893.4,1443.2 893.4,1441.4 893.5,1439.6 893.6,1437.8 893.7,1436.0 893.8,1434.2 893.9,1432.4 894.0,1430.6 894.0,1428.8 894.1,1427.0 894.2,1425.2 894.3,1423.4 894.3,1421.6 894.4,1419.8 894.5,1418.0 894.6,1416.2 894.7,1414.4 894.7,1412.6 894.8,1410.8 894.9,1409.0 895.0,1407.2 895.0,1405.4 895.1,1403.6 895.2,1401.8 895.2,1400.0 895.3,1398.2 895.4,1396.4 895.5,1394.6 895.5,1392.8 895.6,1391.0 895.7,1389.2 895.7,1387.4 895.8,1385.6 895.9,1383.8 896.0,1382.0 896.0,1380.2 896.1,1378.4 896.2,1376.6 896.2,1374.8 896.3,1373.0 896.4,1371.2 896.4,1369.4 896.5,1367.6 896.6,1365.8 896.6,1364.0 896.7,1362.2 896.8,1360.4 896.8,1358.6 896.9,1356.8 897.0,1355.0 897.0,1353.2 897.1,1351.4 897.2,1349.6 897.2,1347.8 897.3,1346.0 897.4,1344.2 897.4,1342.4 897.5,1340.6 897.6,1338.8 897.7,1337.0 897.7,1335.2 897.8,1333.4 897.9,1331.6 897.9,1329.8 898.0,1328.0 898.1,1326.2 898.1,1324.4 898.2,1322.6 898.3,1320.8 898.3,1319.0 898.4,1317.2 898.5,1315.4 898.5,1313.6 898.6,1311.8 898.7,1310.0 898.7,1308.2 898.8,1306.4 898.9,1304.6 898.9,1302.8 899.0,1301.0 899.0,1299.2 899.1,1297.4 899.2,1295.6 899.2,1293.8 899.3,1292.0 899.4,1290.2 899.4,1288.4 899.5,1286.6 899.6,1284.8 899.6,1283.0 899.7,1281.2 899.8,1279.4 899.8,1277.6 899.9,1275.8 899.9,1274.0 900.0,1272.2 900.1,1270.4 900.1,1268.6 900.2,1266.8 900.3,1265.0 900.3,1263.2 900.4,1261.4 900.4,1259.6 900.5,1257.8 900.6,1256.0 900.6,1254.2 900.7,1252.4 900.7,1250.6 900.8,1248.8 900.9,1247.0 900.9,1245.2 901.0,1243.4 901.0,1241.6 901.1,1239.8 901.2,1238.0 901.2,1236.2 901.3,1234.4 901.3,1232.6 901.4,1230.8 901.4,1229.0 901.5,1227.2 901.6,1225.4 901.6,1223.6 901.7,1221.8 901.7,1220.0 901.8,1218.2 901.8,1216.4 901.9,1214.6 901.9,1212.8 902.0,1211.0 902.0,1209.2 902.1,1207.4 902.2,1205.6 902.2,1203.8 902.3,1202.0 902.3,1200.2 902.4,1198.4 902.4,1196.6 902.5,1194.8 902.5,1193.0 902.6,1191.2 902.6,1189.4 902.7,1187.6 902.7,1185.8 902.8,1184.0 902.8,1182.2 902.9,1180.4 902.9,1178.6 903.0,1176.8 903.1,1175.0 903.1,1173.2 903.2,1171.4 903.2,1169.6 903.3,1167.8 903.3,1166.0 903.4,1164.2 903.4,1162.4 903.5,1160.6 903.5,1158.8 903.6,1157.0 903.6,1155.2 903.7,1153.4 903.8,1151.6 903.8,1149.8 903.9,1148.0 903.9,1146.2 904.0,1144.4 904.0,1142.6 904.1,1140.8 904.1,1139.0 904.2,1137.2 904.2,1135.4 904.3,1133.6 904.3,1131.8 904.4,1130.0 904.5,1128.2 904.5,1126.4 904.6,1124.6 904.6,1122.8 904.7,1121.0 904.7,1119.2 904.8,1117.4 904.8,1115.6 904.9,1113.8 904.9,1112.0 905.0,1110.2 905.0,1108.4 905.1,1106.6 905.1,1104.8 905.2,1103.0 905.2,1101.2 905.3,1099.4 905.4,1097.6 905.4,1095.8 905.5,1094.0 905.5,1092.2 905.6,1090.4 905.6,1088.6 905.7,1086.8 905.7,1085.0 905.8,1083.2 905.8,1081.4 905.9,1079.6 905.9,1077.8 906.0,1076.0 906.1,1074.2 906.1,1072.4 906.2,1070.6 906.2,1068.8 906.3,1067.0 906.3,1065.2 906.4,1063.4 906.4,1061.6 906.5,1059.8 906.5,1058.0 906.6,1056.2 906.7,1054.4 906.7,1052.6 906.8,1050.8 906.8,1049.0 906.9,1047.2 906.9,1045.4 907.0,1043.6 907.1,1041.8 907.1,1040.0 907.2,1038.2 907.2,1036.4 907.3,1034.6 907.4,1032.8 907.4,1031.0 907.5,1029.2 907.5,1027.4 907.6,1025.6 907.7,1023.8 907.7,1022.0 907.8,1020.2 907.8,1018.4 907.9,1016.6 908.0,1014.8 908.0,1013.0 908.1,1011.2 908.1,1009.4 908.2,1007.6 908.3,1005.8 908.3,1004.0 908.4,1002.2 908.5,1000.4 908.5,998.6 908.6,996.8 908.6,995.0 908.7,993.2 908.8,991.4 908.8,989.6 908.9,987.8 908.9,986.0 909.0,984.2 909.0,982.4 909.1,980.6 909.2,978.8 909.2,977.0 909.3,975.2 909.3,973.4 909.4,971.6 909.4,969.8 909.5,968.0 909.6,966.2 909.6,964.4 909.7,962.6 909.8,960.8 909.8,959.0 909.9,957.2 910.0,955.4 910.0,953.6 910.1,951.8 910.2,950.0 910.3,948.2 910.3,946.4 910.4,944.6 910.5,942.8 910.6,941.0 910.7,939.2 910.8,937.4 910.9,935.6 911.0,933.8 911.1,932.0 911.2,930.2 911.3,928.4 911.4,926.7 911.5,924.9 911.6,923.1 911.7,921.3 911.8,919.5 912.0,917.7 912.1,915.9 912.2,914.1 912.4,912.2 912.6,910.4 912.8,908.6 913.0,906.8 913.2,905.0 913.5,903.2 913.7,901.5 914.1,899.7 914.4,898.0 914.8,896.2 915.4,894.0 916.2,892.0 917.0,891.3 917.9,892.1 918.7,893.7 919.5,895.5 919.9,897.2 920.3,899.0 920.5,900.8 920.8,902.6 920.9,904.4 921.1,906.2 921.3,907.9 921.4,909.7 921.6,911.5 921.7,913.3 921.9,915.1 922.0,916.9 922.2,918.7 922.3,920.5 922.4,922.3 922.5,924.1 922.7,925.9 922.8,927.6 922.9,929.4 923.0,931.2 923.1,933.0 923.2,934.8 923.3,936.6 923.4,938.4 923.5,940.2 923.5,942.0 923.6,943.8 923.7,945.6 923.8,947.4 923.9,949.2 924.0,951.0 924.1,952.8 924.1,954.7 924.2,956.5 924.3,958.3 924.4,960.1 924.5,961.9 924.5,963.7 924.6,965.5 924.7,967.3 924.8,969.1 924.9,970.9 924.9,972.7 925.0,974.5 925.1,976.3 925.2,978.1 925.3,979.9 925.4,981.7 925.5,983.5 925.6,985.3 925.7,987.1 925.8,988.9 925.9,990.7 926.1,992.5 926.2,994.3 926.3,996.1 926.4,997.9 926.5,999.7 926.6,1001.4 926.7,1003.2 926.9,1005.0 927.0,1006.8 927.1,1008.6 927.2,1010.4 927.3,1012.2 927.4,1014.0 927.6,1015.8 927.7,1017.6 927.8,1019.4 927.9,1021.2 928.0,1023.0 928.2,1024.8 928.3,1026.6 928.4,1028.4 928.5,1030.2 928.7,1032.0 928.8,1033.8 928.9,1035.6 929.0,1037.4 929.1,1039.2 929.3,1041.0 929.4,1042.8 929.5,1044.6 929.7,1046.4 929.8,1048.2 929.9,1050.0 930.0,1051.8 930.2,1053.6 930.3,1055.3 930.4,1057.1 930.6,1058.9 930.7,1060.7 930.8,1062.5 931.0,1064.3 931.1,1066.1 931.2,1067.9 931.4,1069.7 931.5,1071.5 931.6,1073.3 931.8,1075.1 931.9,1076.9 932.1,1078.7 932.2,1080.5 932.3,1082.3 932.5,1084.1 932.6,1085.9 932.8,1087.7 932.9,1089.5 933.1,1091.3 933.2,1093.0 933.4,1094.8 933.5,1096.6 933.7,1098.4 933.8,1100.2 934.0,1102.0 934.1,1103.8 934.3,1105.6 934.5,1107.4 934.6,1109.2 934.8,1111.0 934.9,1112.8 935.1,1114.6 935.3,1116.4 935.4,1118.2 935.6,1120.0 935.7,1121.8 935.9,1123.5 936.1,1125.3 936.2,1127.1 936.4,1128.9 936.6,1130.7 936.7,1132.5 936.9,1134.3 937.1,1136.1 937.2,1137.9 937.4,1139.7 937.6,1141.5 937.8,1143.3 937.9,1145.1 938.1,1146.9 938.3,1148.6 938.4,1150.4 938.6,1152.2 938.8,1154.0 939.0,1155.8 939.2,1157.6 939.4,1159.4 939.6,1161.2 939.8,1163.0 940.0,1164.8 940.2,1166.6 940.4,1168.3 940.6,1170.1 940.8,1171.9 941.0,1173.7 941.2,1175.5 941.4,1177.3 941.6,1179.1 941.7,1180.9 941.9,1182.7 942.1,1184.5 942.3,1186.3 942.5,1188.0 942.6,1189.8 942.8,1191.6 943.0,1193.4 943.1,1195.2 943.3,1197.0 943.4,1198.8 943.5,1200.6 943.7,1202.4 943.8,1204.2 943.9,1206.0 944.0,1207.8 944.1,1209.6 944.2,1211.4 944.3,1213.2 944.4,1215.0 944.5,1216.8 944.6,1218.6 944.7,1220.4 944.8,1222.2 944.9,1224.0 945.0,1225.8 945.1,1227.6 945.2,1229.4 945.3,1231.2 945.4,1233.0 945.5,1234.8 945.6,1236.6 945.7,1238.3 945.8,1240.1 945.9,1241.9 946.0,1243.7 946.2,1245.5 946.3,1247.3 946.4,1249.1 946.5,1250.9 946.6,1252.7 946.7,1254.5 946.8,1256.3 947.0,1258.1 947.1,1259.9 947.2,1261.7 947.3,1263.5 947.4,1265.3 947.5,1267.1 947.7,1268.9 947.8,1270.7 947.9,1272.5 948.0,1274.3 948.1,1276.1 948.2,1277.9 948.4,1279.7 948.5,1281.5 948.6,1283.3 948.7,1285.1 948.8,1286.9 948.9,1288.7 949.0,1290.5 949.1,1292.3 949.2,1294.1 949.3,1295.9 949.4,1297.7 949.5,1299.5 949.6,1301.3 949.7,1303.1 949.8,1304.9 949.9,1306.7 950.0,1308.5 950.0,1310.2 950.1,1312.0 950.2,1313.8 950.3,1315.6 950.3,1317.4 950.4,1319.2 950.5,1321.0 950.5,1322.8 950.6,1324.6 950.7,1326.4 950.7,1328.2 950.8,1330.0 950.8,1331.8 950.9,1333.6 950.9,1335.4 951.0,1337.2 951.1,1339.0 951.1,1340.8 951.2,1342.6 951.2,1344.4 951.3,1346.2 951.3,1348.0 951.4,1349.8 951.4,1351.6 951.5,1353.4 951.5,1355.2 951.6,1357.0 951.6,1358.8 951.6,1360.6 951.7,1362.4 951.7,1364.2 951.8,1366.0 951.8,1367.8 951.9,1369.6 951.9,1371.4 952.0,1373.2 952.1,1375.0 952.1,1376.8 952.2,1378.6 952.2,1380.4 952.3,1382.2 952.3,1384.0 952.4,1385.8 952.5,1387.6 952.5,1389.4 952.6,1391.2 952.6,1393.0 952.7,1394.8 952.8,1396.6 952.8,1398.4 952.9,1400.2 953.0,1402.0 953.0,1403.8 953.1,1405.6 953.2,1407.4 953.2,1409.2 953.3,1411.0 953.4,1412.8 953.4,1414.6 953.5,1416.4 953.6,1418.2 953.6,1420.0 953.7,1421.8 953.8,1423.6 953.8,1425.4 953.9,1427.2 954.0,1429.0 954.1,1430.8 954.1,1432.6 954.2,1434.4 954.3,1436.2 954.4,1438.0 954.4,1439.8 954.5,1441.6 954.6,1443.4 954.7,1445.2 954.7,1447.0 954.8,1448.8 954.9,1450.6 955.0,1452.4 955.1,1454.2 955.2,1456.0 955.2,1457.8 955.3,1459.6 955.4,1461.4 955.5,1463.2 955.6,1465.0 955.7,1466.8 955.8,1468.6 955.9,1470.4 956.0,1472.2 956.1,1474.0 956.3,1475.8 956.4,1477.6 956.5,1479.4 956.7,1481.2 956.8,1483.0 956.9,1484.8 957.0,1486.6 957.2,1488.4 957.3,1490.2 957.5,1492.0 957.6,1493.8 957.7,1495.6 957.8,1497.3 958.0,1499.1 958.1,1500.9 958.2,1502.7 958.4,1504.5 958.5,1506.3 958.6,1508.1 958.7,1509.9 958.8,1511.7 958.9,1513.5 959.0,1515.3 959.1,1517.1 959.2,1518.9 959.2,1520.7 959.3,1522.5 959.4,1524.3 959.4,1526.1 959.5,1527.9 959.6,1529.7 959.6,1531.5 959.7,1533.3 959.7,1535.1 959.8,1536.9 959.8,1538.7 959.9,1540.5 959.9,1542.3 960.0,1544.1 960.0,1545.9 960.1,1547.7 960.1,1549.5 960.2,1551.3 960.2,1553.1 960.2,1554.9 960.3,1556.7 960.3,1558.5 960.4,1560.3 960.4,1562.1 960.4,1563.9 960.5,1565.7 960.5,1567.5 960.6,1569.3 960.6,1571.1 960.6,1572.9 960.7,1574.7 960.7,1576.5 960.8,1578.3 960.8,1580.1 960.9,1581.9 960.9,1583.7 961.0,1585.5 961.0,1587.3 961.1,1589.1 961.1,1590.9 961.2,1592.7 961.2,1594.5 961.3,1596.3 961.4,1598.1 961.4,1599.9 961.5,1601.7 961.5,1603.5 961.6,1605.3 961.6,1607.1 961.7,1608.9 961.8,1610.7 961.8,1612.5 961.9,1614.3 961.9,1616.1 962.0,1617.9 962.1,1619.7 962.1,1621.5 962.2,1623.3 962.3,1625.1 962.3,1626.9 962.4,1628.7 962.5,1630.5 962.5,1632.3 962.6,1634.1 962.7,1635.9 962.7,1637.7 962.8,1639.5 962.9,1641.3 963.0,1643.1 963.0,1644.9 963.1,1646.7 963.2,1648.5 963.3,1650.3 963.4,1652.1 963.4,1653.9 963.5,1655.7 963.6,1657.5 963.7,1659.3 963.8,1661.1 963.9,1662.9 964.0,1664.7 964.1,1666.5 964.2,1668.3 964.3,1670.1 964.4,1671.9 964.5,1673.7 964.6,1675.5 964.7,1677.3 964.8,1679.1 964.9,1680.9 965.0,1682.7 965.1,1684.5 965.2,1686.3 965.4,1688.1 965.5,1689.9 965.6,1691.7 965.7,1693.5 965.8,1695.3 966.0,1697.1 966.1,1698.9 966.2,1700.7 966.3,1702.5 966.5,1704.3 966.6,1706.0 966.8,1707.8 966.9,1709.6 967.0,1711.4 967.2,1713.2 967.3,1715.0 967.5,1716.8 967.6,1718.6 967.8,1720.4 967.9,1722.2 968.1,1724.0 968.2,1725.8 968.4,1727.6 968.6,1729.4 968.7,1731.2 968.9,1733.0 969.1,1734.8 969.2,1736.5 969.4,1738.3 969.6,1740.1 969.8,1741.9 969.9,1743.7 970.1,1745.5 970.3,1747.3 970.5,1749.1 970.7,1750.9 970.9,1752.6 971.1,1754.4 971.3,1756.2 971.6,1758.0 971.8,1759.8 972.1,1761.6 972.3,1763.4 972.6,1765.2 972.8,1767.0 973.1,1768.7 973.4,1770.5 973.7,1772.3 974.0,1774.1 974.3,1775.8 974.6,1777.6 974.9,1779.4 975.3,1781.2 975.6,1782.9 975.9,1784.7 976.3,1786.4 976.7,1788.2 977.1,1789.9 977.5,1791.7 978.0,1793.4 978.4,1795.2 978.9,1796.9 979.4,1798.6 979.9,1800.4 980.4,1802.1 980.9,1803.8 981.5,1805.6 982.0,1807.3 982.5,1809.0 983.1,1810.7 983.6,1812.4 984.2,1814.1 984.8,1815.9 985.3,1817.6 985.9,1819.3 986.5,1820.9 987.2,1822.5 987.8,1824.1 988.4,1825.8 989.1,1827.7 989.8,1829.6 990.4,1831.6 991.1,1833.6 991.8,1835.0 992.5,1836.5 993.3,1837.8 994.0,1839.1 994.8,1841.0 995.6,1842.9 996.4,1844.8 997.2,1846.5 998.0,1847.7 998.8,1849.0 999.6,1850.3 1000.4,1851.9 1001.3,1854.0 1002.2,1856.1 1003.1,1858.3 1004.1,1859.3 1005.1,1860.0 1006.2,1860.5 1007.3,1861.8 1008.6,1863.0 1010.2,1864.4 1012.0,1865.6 1013.8,1865.7 1015.5,1865.6 1017.2,1865.7 1019.0,1865.7 1020.8,1865.8 1022.6,1865.7 1024.5,1865.4 1026.4,1864.6 1028.3,1863.4 1030.1,1862.2 1031.6,1862.7 1033.0,1863.0 1034.2,1862.8 1035.4,1862.3 1036.5,1860.9 1037.5,1858.7 1038.5,1856.6 1039.5,1855.2 1040.4,1854.1 1041.4,1853.0 1042.3,1851.5 1043.3,1849.4 1044.4,1847.3 1045.5,1845.4 1046.6,1844.0 1047.8,1842.5 1049.0,1841.4 1050.3,1840.5 1051.5,1839.4 1052.9,1838.0 1054.2,1836.7 1055.6,1835.8 1057.1,1835.3 1058.8,1834.6 1060.6,1834.9 1062.4,1837.1 1063.9,1838.5 1065.3,1839.5 1066.5,1840.4 1067.8,1841.1 1068.9,1842.0 1069.9,1844.3 1070.8,1846.5 1071.7,1848.5 1072.4,1850.0 1073.2,1851.4 1073.8,1852.9 1074.5,1854.5 1075.1,1856.1 1075.7,1857.7 1076.3,1859.4 1076.9,1860.9 1077.6,1862.3 1078.3,1863.6 1079.0,1865.4 1079.8,1867.3 1080.5,1869.3 1081.3,1871.1 1082.1,1872.5 1082.9,1873.7 1083.7,1875.0 1084.6,1876.8 1085.4,1879.0 1086.3,1881.4 1087.2,1883.5 1088.2,1885.0 1089.2,1886.4 1090.2,1887.7 1091.2,1888.3 1092.3,1888.9 1093.4,1889.7 1094.5,1891.2 1095.7,1892.7 1096.9,1894.5 1098.1,1896.4 1099.3,1898.0 1100.6,1898.9 1102.0,1899.8 1103.5,1902.3 1105.0,1904.8 1106.6,1905.0 1108.2,1905.3 1109.7,1905.3 1111.2,1905.7 1112.7,1907.5 1114.1,1909.1 1115.4,1908.5 1116.7,1908.4 1117.9,1910.5 1119.1,1913.4 1120.3,1916.1 1121.6,1917.7 1123.0,1919.0 1124.4,1918.8 1126.0,1918.3 1127.6,1918.2 1129.3,1918.4 1131.1,1920.0 1132.9,1921.7 1134.8,1923.5 1136.7,1922.2 1138.5,1920.7 1140.4,1919.4 1142.3,1920.9 1144.1,1923.3 1145.9,1919.9 1147.7,1918.7 1149.5,1921.0 1151.3,1920.8 1153.1,1919.6 1154.9,1921.0 1156.7,1921.0 1158.5,1919.0 1160.3,1919.8 1162.1,1921.6 1163.8,1920.4 1165.6,1918.7 1167.3,1916.4 1169.1,1915.1 1170.8,1914.4 1172.5,1915.3 1174.3,1916.3 1176.0,1917.3 1177.7,1917.2 1179.4,1915.5 1181.1,1914.5 1182.9,1913.9 1184.6,1913.1 1186.3,1912.6 1188.1,1913.1 1189.8,1913.0 1191.6,1912.3 1193.4,1911.7 1195.1,1911.1 1196.9,1909.5 1198.7,1909.1 1200.4,1910.8 1202.1,1911.2 1203.9,1910.9 1205.6,1908.1 1207.3,1906.0 1209.0,1908.9 1210.7,1909.7 1212.4,1907.5 1214.1,1905.6 1215.8,1903.7 1217.4,1901.7 1219.1,1899.8 1220.7,1901.4 1222.3,1902.4 1223.9,1901.5 1225.5,1900.2 1227.0,1898.4 1228.5,1896.4 1230.0,1894.3 1231.6,1893.6 1233.0,1894.9 1234.5,1894.8 1235.8,1892.3 1237.1,1889.9 1238.3,1888.8 1239.3,1887.6 1240.3,1886.7 1241.2,1886.3 1242.0,1885.5 1242.8,1884.3 1243.6,1882.4 1244.3,1880.3 1245.0,1878.4 1245.7,1876.5 1246.4,1874.7 1247.1,1873.0 1247.8,1871.3 1248.6,1869.5 1249.4,1867.7 1250.2,1865.8 1251.1,1863.9 1252.1,1861.9 1253.0,1860.5 1254.0,1858.9 1255.0,1857.4 1256.0,1854.5 1257.1,1851.4 1258.2,1848.5 1259.3,1848.1 1260.6,1848.6 1261.8,1848.1 1263.2,1847.1 1264.7,1846.6 1266.6,1846.6 1268.4,1846.9 1270.0,1847.3 1271.3,1849.8 1272.6,1852.7 1273.8,1854.5 1274.9,1856.2 1276.0,1858.0 1277.1,1860.1 1278.1,1862.1 1279.0,1864.0 1279.9,1865.9 1280.7,1867.6 1281.5,1868.9 1282.2,1869.2 1282.9,1868.4 1283.5,1867.2 1284.2,1866.0 1284.7,1864.8 1285.3,1863.6 1285.8,1861.9 1286.4,1860.0 1286.9,1858.0 1287.3,1855.8 1287.8,1853.5 1288.3,1851.2 1288.7,1848.9 1289.1,1846.7 1289.5,1844.5 1290.0,1842.4 1290.4,1840.5 1290.8,1838.8 1291.1,1837.0 1291.5,1835.2 1291.8,1833.4 1292.1,1831.6 1292.4,1829.8 1292.6,1828.0 1292.9,1826.1 1293.2,1824.3 1293.5,1822.5 1293.7,1820.7 1294.0,1818.9 1294.4,1817.2 1294.7,1815.4 1295.1,1813.7 1295.5,1812.0 1296.0,1810.3 1296.5,1808.7 1297.1,1807.3 1298.0,1805.4 1299.0,1803.2 1300.1,1801.1 1301.2,1800.5 1302.1,1800.7 1303.0,1801.7 1303.8,1802.3 1304.7,1803.8 1305.4,1806.0 1306.1,1808.3 1306.7,1810.3 1307.2,1812.0 1307.6,1813.7 1307.9,1815.4 1308.3,1817.2 1308.6,1818.9 1308.9,1820.7 1309.2,1822.5 1309.5,1824.2 1309.8,1826.0 1310.0,1827.8 1310.2,1829.6 1310.5,1831.4 1310.7,1833.2 1310.9,1835.0 1311.1,1836.8 1311.4,1838.7 1311.6,1840.5 1311.8,1842.3 1312.1,1844.1 1312.3,1845.9 1312.6,1847.6 1312.9,1849.4 1313.2,1851.2 1313.5,1853.0 1313.8,1854.8 1314.1,1856.6 1314.4,1858.3 1314.7,1860.1 1315.0,1861.9 1315.3,1863.7 1315.6,1865.5 1315.9,1867.3 1316.2,1869.1 1316.6,1870.9 1316.9,1872.6 1317.3,1874.4 1317.7,1876.1 1318.1,1877.9 1318.5,1879.6 1319.0,1881.3 1319.5,1883.0 1320.0,1884.8 1320.6,1886.7 1321.3,1888.7 1321.9,1890.7 1322.7,1892.5 1323.5,1893.9 1324.3,1895.0 1325.3,1896.2 1326.2,1897.2 1327.3,1898.1 1328.5,1899.3 1330.0,1900.5 1331.6,1899.8 1333.5,1899.7 1335.4,1902.2 1337.3,1901.9 1339.3,1900.7 1341.2,1901.9 1343.0,1902.1 1344.7,1901.5 1346.5,1901.9 1348.3,1902.2 1350.1,1901.4 1351.9,1900.9 1353.7,1900.7 1355.6,1901.2 1357.4,1901.8 1359.2,1902.1 1361.0,1902.5 1362.8,1903.0 1364.6,1903.5 1366.4,1904.2 1368.2,1905.9 1369.9,1906.5 1371.7,1906.0 1373.5,1905.2 1375.3,1904.6 1377.1,1905.7 1378.9,1905.5 1380.7,1904.0 1382.5,1905.5 1384.3,1907.0 1386.1,1905.9 1387.9,1904.2 1389.7,1902.0 1391.5,1903.1 1393.2,1904.8 1395.1,1904.6 1396.9,1902.5 1398.8,1898.5 1400.7,1899.7 1402.6,1900.9 1404.5,1900.9 1406.3,1899.5 1408.1,1897.8 1409.8,1898.2 1411.4,1898.4 1412.8,1898.0 1414.2,1897.6 1415.4,1897.8 1416.6,1897.6 1417.7,1896.5 1418.7,1894.9 1419.7,1893.1 1420.6,1891.8 1421.5,1890.6 1422.5,1889.4 1423.4,1887.7 1424.4,1885.2 1425.4,1882.4 1426.4,1880.3 1427.5,1879.7 1428.7,1879.6 1430.0,1878.2 1431.4,1876.5 1433.0,1875.5 1434.7,1875.0 1436.5,1873.2 1438.3,1871.3 1440.1,1869.9 1441.8,1869.3 1443.4,1869.5 1444.8,1869.7 1446.1,1869.7 1447.3,1868.9 1448.5,1867.5 1449.7,1866.0 1450.8,1863.9 1451.9,1861.7 1453.0,1859.6 1454.1,1858.1 1455.2,1856.9 1456.4,1855.6 1457.6,1854.0 1459.0,1852.9 1460.3,1855.2 1461.8,1858.1 1463.2,1859.6 1464.8,1860.9 1466.3,1861.0 1467.9,1860.6 1469.4,1861.7 1471.0,1862.4 1472.6,1861.4 1474.3,1860.9 1476.1,1862.8 1477.8,1863.0 1479.6,1861.2 1481.4,1859.8 1483.1,1858.5 1484.7,1858.1 1486.3,1857.6 1487.8,1856.8 1489.2,1855.7 1490.6,1853.7 1491.8,1851.7 1493.1,1849.7 1494.3,1847.6 1495.5,1845.6 1496.7,1843.8 1497.9,1842.0 1499.1,1840.1 1500.3,1838.2 1501.5,1837.4 1502.8,1838.1 1504.1,1839.1 1505.5,1840.2 1507.0,1841.7 1508.5,1838.7 1510.1,1836.0 1511.7,1838.3 1513.3,1840.5 1515.0,1841.6 1516.7,1842.1 1518.4,1841.8 1520.1,1843.0 1521.9,1845.1 1523.6,1844.9 1525.4,1845.2 1527.1,1848.1 1528.9,1848.9 1530.6,1847.4 1532.4,1847.7 1534.1,1848.3 1535.9,1848.7 1537.8,1848.2 1539.6,1846.5 1541.4,1844.6 1543.1,1842.8 1544.6,1843.3 1546.1,1843.6 1547.4,1843.5 1548.6,1843.1 1549.8,1841.5 1550.9,1839.5 1552.0,1837.5 1553.1,1836.1 1554.3,1834.8 1555.5,1833.2 1556.8,1831.0 1558.2,1829.2 1559.7,1829.0 1561.2,1828.8 1562.7,1828.1 1564.3,1827.3 1565.9,1825.7 1567.6,1825.1 1569.2,1826.3 1570.8,1825.9 1572.5,1824.0 1574.1,1823.1 1575.8,1822.8 1577.5,1822.9 1579.3,1823.6 1581.0,1827.2 1582.6,1829.4 1584.2,1829.2 1585.7,1830.1 1587.2,1831.9 1588.6,1833.3 1590.0,1834.0 1591.4,1835.2 1592.7,1837.3 1593.9,1839.4 1595.1,1840.4 1596.2,1841.4 1597.2,1842.4 1598.2,1843.2 1599.1,1844.1 1600.0,1845.2 1600.9,1847.0 1601.7,1848.8 1602.6,1850.6 1603.5,1852.4 1604.4,1854.3 1605.4,1856.2 1606.4,1857.6 1607.5,1857.9 1608.6,1858.1 1609.7,1859.9 1610.8,1862.8 1612.0,1865.9 1613.2,1867.1 1614.5,1868.3 1615.7,1869.5 1617.0,1870.7 1618.3,1871.6 1619.5,1872.0 1620.8,1872.4 1622.1,1873.8 1623.5,1875.4 1624.8,1876.1 1626.2,1876.1 1627.6,1877.0 1629.0,1879.1 1630.4,1880.7 1631.9,1881.3 1633.3,1882.1 1634.7,1883.7 1636.2,1885.2 1637.6,1885.8 1639.1,1886.5 1640.5,1888.2 1641.9,1890.0 1643.3,1891.8 1644.7,1893.7 1646.1,1893.5 1647.5,1892.8 1648.8,1894.4 1650.2,1897.4 1651.6,1898.5 1653.0,1897.4 1654.4,1896.9 1655.9,1897.8 1657.3,1899.1 1658.8,1901.8 1660.3,1904.0 1661.9,1904.9 1663.5,1905.8 1665.1,1906.9 1666.8,1906.9 1668.5,1905.6 1670.2,1906.7 1671.9,1908.8 1673.7,1909.6 1675.5,1910.6 1677.3,1912.1 1679.0,1912.1 1680.8,1910.9 1682.6,1911.4 1684.4,1911.6 1686.1,1910.1 1687.9,1909.8 1689.7,1910.6 1691.5,1910.5 1693.4,1910.5 1695.2,1911.7 1697.0,1911.3 1698.8,1909.5 1700.6,1909.5 1702.4,1909.9 1704.2,1911.4 1706.0,1912.8 1707.8,1914.2 1709.6,1913.3 1711.4,1912.4 1713.2,1912.5 1715.0,1912.4 1716.8,1912.0 1718.5,1913.4 1720.3,1914.6 1722.1,1914.2 1723.9,1914.5 1725.7,1915.7 1727.5,1914.6 1729.3,1913.0 1731.1,1911.5 1732.9,1910.8 1734.7,1910.9 1736.5,1910.3 1738.3,1909.5 1740.0,1908.9 1741.8,1909.5 1743.5,1911.6 1745.2,1911.5 1746.9,1910.6 1748.6,1908.1 1750.3,1906.4 1752.0,1908.5 1753.6,1909.0 1755.3,1906.8 1756.9,1904.7 1758.5,1902.8 1760.1,1902.5 1761.8,1902.9 1763.4,1901.9 1765.0,1900.7 1766.6,1899.2 1768.2,1897.7 1769.8,1895.8 1771.4,1894.6 1773.0,1895.5 1774.6,1895.8 1776.2,1895.2 1777.7,1893.1 1779.3,1889.7 1780.8,1889.0 1782.3,1890.6 1783.7,1890.9 1785.1,1889.9 1786.5,1888.5 1787.8,1886.5 1789.1,1884.7 1790.4,1883.8 1791.7,1882.9 1792.9,1881.5 1794.1,1879.9 1795.3,1878.3 1796.5,1876.6 1797.7,1874.8 1798.9,1873.6 1800.2,1872.6 1801.4,1871.8 1802.6,1871.7 1803.9,1871.7 1805.2,1868.6 1806.6,1865.3 1807.9,1864.3 1809.3,1864.4 1810.7,1863.9 1812.1,1862.8 1813.5,1861.4 1814.9,1859.5 1816.3,1857.9 1817.8,1857.0 1819.2,1856.0 1820.7,1854.2 1822.1,1852.4 1823.6,1851.8 1825.1,1851.2 1826.5,1850.9 1828.0,1850.7 1829.5,1849.9 1831.1,1849.2 1832.6,1847.2 1834.2,1845.7 1835.7,1848.2 1837.3,1849.6 1838.8,1845.5 1840.4,1842.3 1841.9,1841.9 1843.4,1841.3 1844.9,1840.0 1846.3,1838.7 1847.8,1837.5 1849.2,1836.5 1850.7,1836.8 1852.1,1836.9 1853.6,1834.3 1855.0,1831.7 1856.4,1832.0 1857.8,1832.2 1859.2,1831.1 1860.5,1829.7 1861.9,1827.4 1863.1,1824.5 1864.4,1822.7 1865.6,1822.7 1866.7,1822.6 1867.8,1820.9 1868.8,1818.6 1869.9,1816.4 1870.8,1816.1 1871.8,1815.9 1872.7,1815.4 1873.7,1813.3 1874.5,1810.7 1875.4,1808.2 1876.3,1805.9 1877.2,1804.2 1878.0,1802.4 1878.9,1800.6 1879.7,1798.8 1880.6,1796.9 1881.4,1795.0 1882.3,1793.2 1883.1,1791.7 1884.0,1790.3 1884.9,1788.9 1885.9,1787.6 1886.8,1786.3 1887.6,1785.0 1888.5,1783.4 1889.3,1781.8 1890.1,1780.2 1890.8,1778.6 1891.5,1776.9 1892.3,1775.2 1893.0,1773.6 1893.7,1771.9 1894.4,1770.3 1895.1,1768.8 1895.7,1767.2 1896.4,1765.6 1897.0,1764.0 1897.6,1762.3 1898.2,1760.7 1898.8,1759.0 1899.4,1757.3 1899.9,1755.6 1900.4,1753.8 1900.8,1752.1 1901.3,1750.4 1901.7,1748.6 1902.1,1746.9 1902.4,1745.2 1902.8,1743.4 1903.2,1741.7 1903.5,1739.9 1903.9,1738.2 1904.2,1736.4 1904.5,1734.7 1904.8,1732.9 1905.2,1731.1 1905.5,1729.3 1905.8,1727.6 1906.1,1725.8 1906.3,1724.0 1906.6,1722.2 1906.9,1720.4 1907.2,1718.6 1907.4,1716.9 1907.7,1715.1 1907.9,1713.3 1908.2,1711.5 1908.4,1709.7 1908.7,1707.9 1908.9,1706.1 1909.1,1704.3 1909.3,1702.5 1909.6,1700.7 1909.8,1698.9 1910.0,1697.1 1910.2,1695.3 1910.4,1693.5 1910.6,1691.7 1910.8,1689.9 1911.0,1688.1 1911.2,1686.3 1911.4,1684.5 1911.6,1682.8 1911.8,1681.0 1912.0,1679.2 1912.2,1677.4 1912.4,1675.6 1912.6,1673.8 1912.8,1672.0 1912.9,1670.2 1913.1,1668.5 1913.3,1666.7 1913.5,1664.9 1913.6,1663.1 1913.8,1661.3 1914.0,1659.5 1914.1,1657.7 1914.3,1655.9 1914.4,1654.1 1914.6,1652.3 1914.8,1650.5 1914.9,1648.7 1915.1,1646.9 1915.2,1645.1 1915.4,1643.3 1915.5,1641.6 1915.7,1639.8 1915.8,1638.0 1915.9,1636.2 1916.1,1634.4 1916.2,1632.6 1916.4,1630.8 1916.5,1629.0 1916.7,1627.2 1916.8,1625.4 1916.9,1623.6 1917.1,1621.8 1917.2,1620.0 1917.3,1618.2 1917.5,1616.4 1917.6,1614.6 1917.7,1612.8 1917.9,1611.0 1918.0,1609.2 1918.1,1607.4 1918.3,1605.6 1918.4,1603.8 1918.5,1602.0 1918.6,1600.2 1918.8,1598.4 1918.9,1596.6 1919.0,1594.8 1919.2,1593.0 1919.3,1591.2 1919.4,1589.4 1919.6,1587.7 1919.7,1585.9 1919.8,1584.1 1920.0,1582.3 1920.1,1580.5 1920.2,1578.7 1920.4,1576.9 1920.5,1575.1 1920.6,1573.3 1920.7,1571.5 1920.9,1569.7 1921.0,1567.9 1921.1,1566.1 1921.3,1564.3 1921.4,1562.5 1921.5,1560.7 1921.7,1558.9 1921.8,1557.1 1921.9,1555.3 1922.1,1553.5 1922.2,1551.7 1922.3,1549.9 1922.5,1548.1 1922.6,1546.3 1922.7,1544.5 1922.8,1542.8 1923.0,1541.0 1923.1,1539.2 1923.2,1537.4 1923.3,1535.6 1923.5,1533.8 1923.6,1532.0 1923.7,1530.2 1923.8,1528.4 1923.9,1526.6 1924.1,1524.8 1924.2,1523.0 1924.3,1521.2 1924.4,1519.4 1924.5,1517.6 1924.6,1515.8 1924.8,1514.0 1924.9,1512.2 1925.0,1510.4 1925.1,1508.6 1925.2,1506.8 1925.3,1505.0 1925.4,1503.2 1925.5,1501.4 1925.6,1499.6 1925.7,1497.8 1925.8,1496.0 1925.9,1494.2 1926.0,1492.4 1926.1,1490.6 1926.2,1488.8 1926.3,1487.0 1926.4,1485.2 1926.5,1483.4 1926.6,1481.6 1926.7,1479.8 1926.7,1478.0 1926.8,1476.2 1926.9,1474.4 1927.0,1472.7 1927.1,1470.9 1927.1,1469.1 1927.2,1467.3 1927.3,1465.5 1927.4,1463.7 1927.4,1461.9 1927.5,1460.1 1927.6,1458.3 1927.6,1456.5 1927.7,1454.7 1927.8,1452.9 1927.8,1451.1 1927.9,1449.3 1928.0,1447.5 1928.0,1445.7 1928.1,1443.9 1928.2,1442.1 1928.2,1440.3 1928.3,1438.5 1928.4,1436.7 1928.4,1434.9 1928.5,1433.1 1928.5,1431.3 1928.6,1429.5 1928.7,1427.7 1928.7,1425.9 1928.8,1424.1 1928.8,1422.3 1928.9,1420.5 1929.0,1418.7 1929.0,1416.9 1929.1,1415.1 1929.1,1413.3 1929.2,1411.5 1929.2,1409.7 1929.3,1407.9 1929.4,1406.1 1929.4,1404.3 1929.5,1402.5 1929.5,1400.7 1929.6,1398.9 1929.7,1397.1 1929.7,1395.3 1929.8,1393.5 1929.8,1391.7 1929.9,1389.9 1930.0,1388.1 1930.0,1386.3 1930.1,1384.5 1930.2,1382.7 1930.2,1380.9 1930.3,1379.1 1930.4,1377.3 1930.4,1375.5 1930.5,1373.7 1930.6,1371.9 1930.6,1370.1 1930.7,1368.3 1930.8,1366.5 1930.9,1364.7 1930.9,1362.9 1931.0,1361.1 1931.1,1359.3 1931.2,1357.5 1931.2,1355.7 1931.3,1353.9 1931.4,1352.1 1931.5,1350.3 1931.6,1348.5 1931.7,1346.7 1931.8,1344.9 1931.8,1343.1 1931.9,1341.3 1932.0,1339.5 1932.1,1337.7 1932.2,1335.9 1932.4,1334.1 1932.5,1332.3 1932.6,1330.5 1932.7,1328.7 1932.8,1326.9 1932.9,1325.1 1933.0,1323.3 1933.1,1321.5 1933.3,1319.7 1933.4,1317.9 1933.5,1316.1 1933.6,1314.3 1933.7,1312.5 1933.9,1310.7 1934.0,1308.9 1934.1,1307.1 1934.2,1305.3 1934.4,1303.6 1934.5,1301.8 1934.6,1300.0 1934.7,1298.2 1934.8,1296.4 1935.0,1294.6 1935.1,1292.8 1935.2,1291.0 1935.3,1289.2 1935.5,1287.4 1935.6,1285.6 1935.7,1283.8 1935.8,1282.0 1935.9,1280.2 1936.0,1278.4 1936.1,1276.6 1936.3,1274.8 1936.4,1273.0 1936.5,1271.2 1936.6,1269.4 1936.7,1267.6 1936.8,1265.8 1936.9,1264.0 1937.0,1262.2 1937.1,1260.4 1937.2,1258.6 1937.2,1256.8 1937.3,1255.0 1937.4,1253.2 1937.5,1251.4 1937.6,1249.6 1937.6,1247.8 1937.7,1246.0 1937.8,1244.2 1937.8,1242.4 1937.9,1240.6 1938.0,1238.8 1938.0,1237.0 1938.1,1235.2 1938.2,1233.4 1938.2,1231.6 1938.3,1229.8 1938.4,1228.0 1938.4,1226.2 1938.5,1224.4 1938.5,1222.6 1938.6,1220.8 1938.7,1219.0 1938.7,1217.2 1938.8,1215.4 1938.8,1213.6 1938.9,1211.8 1938.9,1210.0 1939.0,1208.2 1939.1,1206.4 1939.1,1204.6 1939.2,1202.8 1939.2,1201.0 1939.3,1199.2 1939.3,1197.4 1939.4,1195.6 1939.4,1193.8 1939.5,1192.0 1939.5,1190.2 1939.6,1188.4 1939.6,1186.6 1939.7,1184.8 1939.7,1183.0 1939.8,1181.2 1939.8,1179.4 1939.9,1177.6 1939.9,1175.8 1940.0,1174.0 1940.1,1172.2 1940.1,1170.4 1940.2,1168.6 1940.2,1166.8 1940.3,1165.0 1940.3,1163.2 1940.4,1161.4 1940.4,1159.6 1940.5,1157.8 1940.5,1156.0 1940.6,1154.2 1940.7,1152.4 1940.7,1150.6 1940.8,1148.8 1940.8,1147.0 1940.9,1145.2 1940.9,1143.4 1941.0,1141.6 1941.1,1139.8 1941.1,1138.0 1941.2,1136.2 1941.2,1134.4 1941.3,1132.6 1941.4,1130.8 1941.4,1129.0 1941.5,1127.2 1941.5,1125.4 1941.6,1123.6 1941.7,1121.8 1941.7,1120.0 1941.8,1118.2 1941.8,1116.4 1941.9,1114.6 1942.0,1112.8 1942.0,1111.0 1942.1,1109.2 1942.1,1107.4 1942.2,1105.6 1942.2,1103.8 1942.3,1102.0 1942.4,1100.2 1942.4,1098.4 1942.5,1096.6 1942.5,1094.8 1942.6,1093.0 1942.6,1091.2 1942.7,1089.4 1942.8,1087.6 1942.8,1085.8 1942.9,1084.0 1942.9,1082.2 1943.0,1080.4 1943.1,1078.6 1943.1,1076.8 1943.2,1075.0 1943.2,1073.2 1943.3,1071.4 1943.3,1069.6 1943.4,1067.8 1943.5,1066.0 1943.5,1064.2 1943.6,1062.4 1943.6,1060.6 1943.7,1058.8 1943.8,1057.0 1943.8,1055.2 1943.9,1053.4 1943.9,1051.6 1944.0,1049.8 1944.0,1048.0 1944.1,1046.2 1944.1,1044.4 1944.2,1042.6 1944.2,1040.8 1944.3,1039.0 1944.4,1037.2 1944.4,1035.4 1944.5,1033.6 1944.5,1031.8 1944.6,1030.0 1944.6,1028.2 1944.7,1026.4 1944.7,1024.6 1944.7,1022.8 1944.8,1021.0 1944.8,1019.2 1944.9,1017.4 1944.9,1015.6 1945.0,1013.8 1945.0,1012.0 1945.0,1010.2 1945.1,1008.4 1945.1,1006.6 1945.2,1004.8 1945.2,1003.0 1945.2,1001.2 1945.3,999.4 1945.3,997.6 1945.3,995.8 1945.4,994.0 1945.4,992.2 1945.4,990.4 1945.4,988.6 1945.5,986.8 1945.5,985.0 1945.5,983.2 1945.6,981.4 1945.6,979.6 1945.6,977.8 1945.7,976.0 1945.7,974.2 1945.7,972.4 1945.7,970.6 1945.8,968.8 1945.8,967.0 1945.8,965.2 1945.8,963.4 1945.9,961.6 1945.9,959.8 1945.9,958.0 1946.0,956.2 1946.0,954.4 1946.0,952.6 1946.0,950.8 1946.1,949.0 1946.1,947.2 1946.1,945.4 1946.2,943.6 1946.2,941.8 1946.2,940.0 1946.3,938.2 1946.3,936.4 1946.3,934.6 1946.4,932.8 1946.4,931.0 1946.4,929.2 1946.5,927.4 1946.5,925.6 1946.5,923.8 1946.6,922.0 1946.6,920.2 1946.7,918.4 1946.7,916.6 1946.8,914.8 1946.8,913.0 1946.9,911.2 1946.9,909.4 1947.0,907.6 1947.0,905.8 1947.1,904.0 1947.1,902.2 1947.2,900.4 1947.2,898.6 1947.3,896.8 1947.3,895.0 1947.4,893.2 1947.4,891.4 1947.5,889.6 1947.6,887.8 1947.6,886.0 1947.7,884.2 1947.7,882.4 1947.8,880.6 1947.8,878.8 1947.9,877.0 1947.9,875.2 1948.0,873.4 1948.1,871.6 1948.1,869.8 1948.2,868.0 1948.2,866.2 1948.3,864.4 1948.3,862.6 1948.4,860.8 1948.4,859.0 1948.4,857.2 1948.5,855.4 1948.5,853.6 1948.6,851.8 1948.6,850.0 1948.6,848.2 1948.7,846.4 1948.7,844.6 1948.8,842.8 1948.8,841.0 1948.8,839.2 1948.8,837.4 1948.9,835.6 1948.9,833.8 1948.9,832.0 1948.9,830.2 1949.0,828.4 1949.0,826.6 1949.0,824.8 1949.0,823.0 1949.0,821.2 1949.1,819.4 1949.1,817.6 1949.1,815.8 1949.1,814.0 1949.1,812.2 1949.2,810.4 1949.2,808.6 1949.2,806.8 1949.2,805.0 1949.2,803.2 1949.2,801.4 1949.3,799.6 1949.3,797.8 1949.3,796.0 1949.3,794.2 1949.3,792.4 1949.3,790.6 1949.4,788.8 1949.4,787.0 1949.4,785.2 1949.4,783.4 1949.4,781.6 1949.5,779.8 1949.5,778.0 1949.5,776.2 1949.5,774.4 1949.6,772.6 1949.6,770.8 1949.6,769.0 1949.6,767.2 1949.7,765.4 1949.7,763.6 1949.7,761.8 1949.8,760.0 1949.8,758.2 1949.9,756.4 1949.9,754.6 1949.9,752.8 1950.0,751.0 1950.0,749.2 1950.1,747.4 1950.1,745.6 1950.2,743.8 1950.2,742.0 1950.3,740.2 1950.3,738.4 1950.4,736.6 1950.4,734.8 1950.5,733.0 1950.5,731.2 1950.6,729.4 1950.6,727.6 1950.7,725.8 1950.7,724.0 1950.8,722.2 1950.8,720.4 1950.9,718.6 1950.9,716.8 1951.0,715.0 1951.0,713.2 1951.1,711.4 1951.1,709.6 1951.2,707.8 1951.2,706.0 1951.2,704.2 1951.3,702.4 1951.3,700.6 1951.4,698.8 1951.4,697.0 1951.5,695.2 1951.5,693.4 1951.6,691.6 1951.6,689.8 1951.7,688.0 1951.7,686.2 1951.7,684.4 1951.8,682.6 1951.8,680.8 1951.9,679.0 1951.9,677.2 1952.0,675.4 1952.0,673.6 1952.1,671.8 1952.1,670.0 1952.2,668.2 1952.2,666.4 1952.2,664.6 1952.3,662.8 1952.3,661.0 1952.4,659.2 1952.4,657.4 1952.5,655.6 1952.5,653.8 1952.6,652.0 1952.6,650.2 1952.7,648.4 1952.7,646.6 1952.7,644.8 1952.8,643.0 1952.8,641.2 1952.9,639.4 1952.9,637.6 1953.0,635.8 1953.0,634.0 1953.1,632.2 1953.1,630.4 1953.2,628.6 1953.2,626.8 1953.3,625.0 1953.3,623.2 1953.3,621.4 1953.4,619.6 1953.4,617.8 1953.5,616.0 1953.5,614.2 1953.6,612.4 1953.6,610.6 1953.7,608.8 1953.7,607.0 1953.8,605.2 1953.8,603.4 1953.9,601.6 1953.9,599.8 1954.0,598.0 1954.0,596.2 1954.0,594.4 1954.1,592.6 1954.1,590.8 1954.2,589.0 1954.2,587.2 1954.3,585.4 1954.3,583.6 1954.4,581.8 1954.4,580.0 1954.5,578.2 1954.5,576.4 1954.6,574.6 1954.7,572.8 1954.7,571.0 1954.8,569.2 1954.8,567.4 1954.9,565.6 1954.9,563.8 1955.0,562.0 1955.0,560.2 1955.1,558.4 1955.1,556.6 1955.2,554.8 1955.3,553.0 1955.3,551.2 1955.4,549.4 1955.4,547.6 1955.5,545.8 1955.5,544.0 1955.6,542.2 1955.6,540.4 1955.7,538.6 1955.8,536.8 1955.8,535.0 1955.9,533.2 1956.0,531.4 1956.0,529.6 1956.1,527.8 1956.1,526.0 1956.2,524.2 1956.3,522.4 1956.4,520.6 1956.4,518.8 1956.5,517.0 1956.6,515.2 1956.7,513.4 1956.7,511.6 1956.8,509.8 1956.9,508.0 1957.0,506.2 1957.1,504.4 1957.2,502.6 1957.3,500.8 1957.4,499.0 1957.5,497.2 1957.6,495.4 1957.7,493.6 1957.8,491.8 1957.9,490.0 1958.0,488.2 1958.2,486.4 1958.3,484.6 1958.5,482.8 1958.7,481.0 1958.8,479.2 1959.0,477.5 1959.2,475.7 1959.5,473.5 1959.8,471.2 1960.2,469.0 1960.5,467.2 1960.9,467.6 1961.2,467.2 1961.5,467.3 1961.9,469.1 1962.2,471.4 1962.5,473.7 1962.7,475.8 1962.9,477.6 1963.0,479.4 1963.2,481.2 1963.3,483.0 1963.4,484.8 1963.5,486.6 1963.6,488.4 1963.7,490.2 1963.8,492.0 1963.9,493.8 1964.0,495.6 1964.1,497.4 1964.2,499.2 1964.3,501.0 1964.4,502.8 1964.5,504.6 1964.6,506.4 1964.7,508.2 1964.7,510.0 1964.8,511.8 1964.9,513.6 1965.0,515.4 1965.1,517.2 1965.1,519.0 1965.2,520.8 1965.3,522.6 1965.4,524.4 1965.4,526.2 1965.5,528.0 1965.6,529.8 1965.7,531.6 1965.7,533.4 1965.8,535.2 1965.9,537.0 1965.9,538.8 1966.0,540.6 1966.1,542.4 1966.1,544.2 1966.2,546.0 1966.3,547.8 1966.3,549.6 1966.4,551.4 1966.4,553.2 1966.5,555.0 1966.6,556.8 1966.6,558.6 1966.7,560.4 1966.7,562.2 1966.8,564.0 1966.8,565.8 1966.9,567.6 1966.9,569.4 1967.0,571.2 1967.0,573.0 1967.1,574.8 1967.1,576.6 1967.2,578.4 1967.2,580.2 1967.3,582.0 1967.3,583.8 1967.4,585.6 1967.4,587.4 1967.5,589.2 1967.5,591.0 1967.5,592.8 1967.6,594.6 1967.6,596.4 1967.7,598.2 1967.7,600.0 1967.7,601.8 1967.8,603.6 1967.8,605.4 1967.9,607.2 1967.9,609.0 1967.9,610.8 1968.0,612.6 1968.0,614.4 1968.1,616.2 1968.1,618.0 1968.1,619.8 1968.2,621.6 1968.2,623.4 1968.3,625.2 1968.3,627.0 1968.4,628.8 1968.4,630.6 1968.4,632.4 1968.5,634.2 1968.5,636.0 1968.6,637.8 1968.6,639.6 1968.7,641.4 1968.7,643.2 1968.7,645.0 1968.8,646.8 1968.8,648.6 1968.9,650.4 1968.9,652.2 1969.0,654.0 1969.0,655.8 1969.1,657.6 1969.1,659.4 1969.2,661.2 1969.2,663.0 1969.2,664.8 1969.3,666.6 1969.3,668.4 1969.4,670.2 1969.4,672.0 1969.5,673.8 1969.5,675.6 1969.6,677.4 1969.6,679.2 1969.7,681.0 1969.7,682.8 1969.8,684.6 1969.8,686.4 1969.8,688.2 1969.9,690.0 1969.9,691.8 1970.0,693.6 1970.0,695.4 1970.1,697.2 1970.1,699.0 1970.2,700.8 1970.2,702.6 1970.3,704.4 1970.3,706.2 1970.4,708.0 1970.4,709.8 1970.5,711.6 1970.5,713.4 1970.6,715.2 1970.6,717.0 1970.7,718.8 1970.7,720.6 1970.8,722.4 1970.8,724.2 1970.9,726.0 1970.9,727.8 1971.0,729.6 1971.0,731.4 1971.1,733.2 1971.1,735.0 1971.2,736.8 1971.2,738.6 1971.3,740.4 1971.3,742.2 1971.4,744.0 1971.4,745.8 1971.4,747.6 1971.5,749.4 1971.5,751.2 1971.6,753.0 1971.6,754.8 1971.7,756.6 1971.7,758.4 1971.7,760.2 1971.8,762.0 1971.8,763.8 1971.8,765.6 1971.9,767.4 1971.9,769.2 1971.9,771.0 1971.9,772.8 1972.0,774.6 1972.0,776.4 1972.0,778.2 1972.0,780.0 1972.0,781.8 1972.1,783.6 1972.1,785.4 1972.1,787.2 1972.1,789.0 1972.1,790.8 1972.1,792.6 1972.2,794.4 1972.2,796.2 1972.2,798.0 1972.2,799.8 1972.2,801.6 1972.2,803.4 1972.3,805.2 1972.3,807.0 1972.3,808.8 1972.3,810.6 1972.3,812.4 1972.3,814.2 1972.3,816.0 1972.4,817.8 1972.4,819.6 1972.4,821.4 1972.4,823.2 1972.4,825.0 1972.4,826.8 1972.5,828.6 1972.5,830.4 1972.5,832.2 1972.5,834.0 1972.5,835.8 1972.6,837.6 1972.6,839.4 1972.6,841.2 1972.6,843.0 1972.7,844.8 1972.7,846.6 1972.7,848.4 1972.8,850.2 1972.8,852.0 1972.9,853.8 1972.9,855.6 1973.0,857.4 1973.0,859.2 1973.0,861.0 1973.1,862.8 1973.1,864.6 1973.2,866.4 1973.2,868.2 1973.3,870.0 1973.4,871.8 1973.4,873.6 1973.5,875.4 1973.5,877.2 1973.6,879.0 1973.6,880.8 1973.7,882.6 1973.8,884.4 1973.8,886.2 1973.9,888.0 1973.9,889.8 1974.0,891.6 1974.0,893.4 1974.1,895.2 1974.2,897.0 1974.2,898.8 1974.3,900.6 1974.3,902.4 1974.4,904.2 1974.5,906.0 1974.5,907.8 1974.6,909.6 1974.6,911.4 1974.7,913.2 1974.7,915.0 1974.8,916.8 1974.8,918.6 1974.9,920.4 1974.9,922.2 1975.0,924.0 1975.0,925.8 1975.0,927.6 1975.1,929.4 1975.1,931.2 1975.2,933.0 1975.2,934.8 1975.2,936.6 1975.3,938.4 1975.3,940.2 1975.3,942.0 1975.4,943.8 1975.4,945.6 1975.4,947.4 1975.5,949.2 1975.5,951.0 1975.5,952.8 1975.6,954.6 1975.6,956.4 1975.6,958.2 1975.7,960.0 1975.7,961.8 1975.7,963.6 1975.8,965.4 1975.8,967.2 1975.8,969.0 1975.9,970.8 1975.9,972.6 1975.9,974.4 1976.0,976.2 1976.0,978.0 1976.0,979.8 1976.1,981.6 1976.1,983.4 1976.1,985.2 1976.2,987.0 1976.2,988.8 1976.2,990.6 1976.3,992.4 1976.3,994.2 1976.3,996.0 1976.4,997.8 1976.4,999.6 1976.5,1001.4 1976.5,1003.2 1976.5,1005.0 1976.6,1006.8 1976.6,1008.6 1976.7,1010.4 1976.7,1012.2 1976.8,1014.0 1976.8,1015.8 1976.8,1017.6 1976.9,1019.4 1976.9,1021.2 1977.0,1023.0 1977.0,1024.8 1977.1,1026.6 1977.1,1028.4 1977.2,1030.2 1977.2,1032.0 1977.3,1033.8 1977.4,1035.6 1977.4,1037.4 1977.5,1039.2 1977.5,1041.0 1977.6,1042.8 1977.6,1044.6 1977.7,1046.4 1977.7,1048.2 1977.8,1050.0 1977.9,1051.8 1977.9,1053.6 1978.0,1055.4 1978.0,1057.2 1978.1,1059.0 1978.2,1060.8 1978.2,1062.6 1978.3,1064.4 1978.4,1066.2 1978.4,1068.0 1978.5,1069.8 1978.5,1071.6 1978.6,1073.4 1978.7,1075.2 1978.7,1077.0 1978.8,1078.8 1978.9,1080.6 1978.9,1082.4 1979.0,1084.2 1979.1,1086.0 1979.1,1087.8 1979.2,1089.6 1979.2,1091.4 1979.3,1093.2 1979.4,1095.0 1979.4,1096.8 1979.5,1098.6 1979.6,1100.4 1979.6,1102.2 1979.7,1104.0 1979.8,1105.8 1979.8,1107.6 1979.9,1109.4 1980.0,1111.2 1980.0,1113.0 1980.1,1114.8 1980.2,1116.6 1980.2,1118.4 1980.3,1120.2 1980.4,1122.0 1980.4,1123.8 1980.5,1125.6 1980.6,1127.4 1980.6,1129.2 1980.7,1131.0 1980.8,1132.8 1980.9,1134.6 1980.9,1136.4 1981.0,1138.2 1981.1,1140.0 1981.2,1141.8 1981.2,1143.6 1981.3,1145.4 1981.4,1147.2 1981.5,1149.0 1981.5,1150.8 1981.6,1152.6 1981.7,1154.4 1981.7,1156.2 1981.8,1158.0 1981.9,1159.8 1982.0,1161.6 1982.0,1163.4 1982.1,1165.2 1982.2,1167.0 1982.2,1168.8 1982.3,1170.6 1982.4,1172.4 1982.4,1174.2 1982.5,1176.0 1982.6,1177.8 1982.7,1179.6 1982.8,1181.4 1982.9,1183.2 1983.0,1185.0 1983.1,1186.8 1983.2,1188.6 1983.4,1190.4 1983.5,1192.2 1983.7,1194.0 1983.9,1195.7 1984.1,1197.5 1984.4,1199.3 1984.7,1201.1 1985.1,1202.8 1985.4,1204.6 1985.8,1206.4 1986.1,1208.1 1986.5,1209.9 1986.9,1211.7 1987.2,1213.5 1987.5,1215.2 1987.9,1217.0 1988.2,1218.8 1988.6,1220.5 1988.9,1222.3 1989.3,1224.1 1989.7,1225.8 1990.0,1227.6 1990.4,1229.4 1990.8,1231.1 1991.2,1232.9 1991.5,1234.6 1991.9,1236.4 1992.3,1238.2 1992.6,1239.9 1993.0,1241.7 1993.3,1243.5 1993.6,1245.2 1994.0,1247.0 1994.3,1248.8 1994.6,1250.5 1994.9,1252.3 1995.2,1254.1 1995.5,1255.9 1995.8,1257.7 1996.1,1259.4 1996.4,1261.2 1996.7,1263.0 1997.0,1264.8 1997.3,1266.6 1997.5,1268.3 1997.7,1270.1 1997.9,1271.9 1998.1,1273.7 1998.2,1275.5 1998.4,1277.3 1998.5,1279.1 1998.6,1280.9 1998.7,1282.7 1998.8,1284.5 1998.9,1286.3 1999.0,1288.1 1999.1,1289.9 1999.1,1291.7 1999.2,1293.5 1999.3,1295.3 1999.4,1297.1 1999.5,1298.9 1999.5,1300.7 1999.6,1302.5 1999.7,1304.3 1999.8,1306.1 1999.8,1307.9 1999.9,1309.7 2000.0,1311.5 2000.0,1313.3 2000.1,1315.1 2000.2,1316.9 2000.2,1318.7 2000.3,1320.5 2000.3,1322.3 2000.4,1324.1 2000.5,1325.9 2000.5,1327.7 2000.6,1329.5 2000.7,1331.3 2000.7,1333.1 2000.8,1334.9 2000.9,1336.7 2000.9,1338.5 2001.0,1340.3 2001.1,1342.1 2001.2,1343.9 2001.2,1345.7 2001.3,1347.5 2001.4,1349.3 2001.5,1351.1 2001.5,1352.8 2001.6,1354.6 2001.7,1356.4 2001.8,1358.2 2001.8,1360.0 2001.9,1361.8 2002.0,1363.6 2002.1,1365.4 2002.1,1367.2 2002.2,1369.0 2002.3,1370.8 2002.4,1372.6 2002.5,1374.4 2002.5,1376.2 2002.6,1378.0 2002.7,1379.8 2002.8,1381.6 2002.9,1383.4 2002.9,1385.2 2003.0,1387.0 2003.1,1388.8 2003.2,1390.6 2003.3,1392.4 2003.4,1394.2 2003.4,1396.0 2003.5,1397.8 2003.6,1399.6 2003.7,1401.4 2003.8,1403.2 2003.9,1405.0 2004.0,1406.8 2004.1,1408.6 2004.1,1410.4 2004.2,1412.2 2004.3,1414.0 2004.4,1415.8 2004.5,1417.6 2004.6,1419.4 2004.7,1421.2 2004.8,1423.0 2004.9,1424.8 2005.0,1426.6 2005.1,1428.4 2005.2,1430.2 2005.3,1432.0 2005.4,1433.8 2005.5,1435.6 2005.6,1437.4 2005.7,1439.2 2005.8,1441.0 2005.9,1442.8 2006.0,1444.6 2006.1,1446.4 2006.2,1448.2 2006.3,1450.0 2006.4,1451.8 2006.5,1453.6 2006.6,1455.4 2006.7,1457.2 2006.7,1459.0 2006.8,1460.8 2006.9,1462.6 2007.0,1464.4 2007.1,1466.2 2007.2,1468.0 2007.3,1469.8 2007.4,1471.6 2007.4,1473.4 2007.5,1475.2 2007.6,1477.0 2007.7,1478.7 2007.8,1480.5 2007.8,1482.3 2007.9,1484.1 2008.0,1485.9 2008.1,1487.7 2008.2,1489.5 2008.2,1491.3 2008.3,1493.1 2008.4,1494.9 2008.5,1496.7 2008.6,1498.5 2008.7,1500.3 2008.7,1502.1 2008.8,1503.9 2008.9,1505.7 2009.0,1507.5 2009.1,1509.3 2009.2,1511.1 2009.3,1512.9 2009.4,1514.7 2009.5,1516.5 2009.6,1518.3 2009.7,1520.1 2009.8,1521.9 2009.9,1523.7 2010.0,1525.5 2010.1,1527.3 2010.2,1529.1 2010.3,1530.9 2010.4,1532.7 2010.5,1534.5 2010.6,1536.3 2010.7,1538.1 2010.8,1539.9 2010.9,1541.7 2011.0,1543.5 2011.1,1545.3 2011.3,1547.1 2011.4,1548.9 2011.5,1550.7 2011.6,1552.5 2011.7,1554.3 2011.8,1556.1 2011.9,1557.9 2012.0,1559.7 2012.2,1561.5 2012.3,1563.3 2012.4,1565.1 2012.5,1566.9 2012.6,1568.7 2012.8,1570.4 2012.9,1572.2 2013.0,1574.0 2013.1,1575.8 2013.3,1577.6 2013.4,1579.4 2013.5,1581.2 2013.6,1583.0 2013.8,1584.8 2013.9,1586.6 2014.0,1588.4 2014.2,1590.2 2014.3,1592.0 2014.4,1593.8 2014.6,1595.6 2014.7,1597.4 2014.8,1599.2 2015.0,1601.0 2015.1,1602.8 2015.2,1604.6 2015.4,1606.4 2015.5,1608.2 2015.7,1610.0 2015.8,1611.7 2016.0,1613.5 2016.1,1615.3 2016.3,1617.1 2016.4,1618.9 2016.6,1620.7 2016.7,1622.5 2016.9,1624.3 2017.0,1626.1 2017.2,1627.9 2017.3,1629.7 2017.5,1631.5 2017.6,1633.3 2017.8,1635.1 2017.9,1636.9 2018.1,1638.7 2018.3,1640.5 2018.4,1642.3 2018.6,1644.1 2018.8,1645.9 2018.9,1647.7 2019.1,1649.5 2019.3,1651.3 2019.5,1653.0 2019.7,1654.8 2019.9,1656.6 2020.0,1658.4 2020.2,1660.2 2020.4,1662.0 2020.6,1663.8 2020.9,1665.6 2021.1,1667.4 2021.3,1669.1 2021.5,1670.9 2021.7,1672.7 2022.0,1674.5 2022.2,1676.3 2022.4,1678.1 2022.7,1679.8 2022.9,1681.6 2023.2,1683.4 2023.5,1685.2 2023.7,1686.9 2024.0,1688.7 2024.3,1690.5 2024.6,1692.3 2024.9,1694.1 2025.3,1695.9 2025.6,1697.6 2025.9,1699.4 2026.3,1701.2 2026.6,1703.0 2027.0,1704.7 2027.4,1706.5 2027.8,1708.3 2028.2,1710.0 2028.6,1711.8 2029.0,1713.6 2029.4,1715.3 2029.8,1717.1 2030.2,1718.8 2030.7,1720.5 2031.1,1722.3 2031.6,1724.0 2032.1,1725.7 2032.5,1727.4 2033.0,1729.2 2033.6,1730.9 2034.1,1732.6 2034.7,1734.2 2035.3,1735.8 2035.9,1737.5 2036.6,1739.1 2037.2,1740.8 2037.9,1742.5 2038.6,1744.3 2039.3,1746.0 2040.0,1747.8 2040.8,1749.6 2041.5,1751.0 2042.2,1752.2 2043.0,1753.3 2043.7,1754.5 2044.5,1756.1 2045.2,1758.0 2045.9,1759.9 2046.7,1761.7 2047.4,1763.6 2048.1,1765.4 2048.9,1767.3 2049.6,1769.1 2050.4,1770.8 2051.1,1772.4 2051.9,1773.9 2052.6,1775.5 2053.4,1777.0 2054.2,1778.4 2055.0,1779.9 2055.9,1781.3 2056.7,1782.9 2057.6,1784.5 2058.5,1786.2 2059.4,1788.0 2060.3,1790.3 2061.3,1792.6 2062.3,1794.5 2063.3,1795.3 2064.4,1795.9 2065.4,1797.1 2066.6,1799.1 2067.7,1801.2 2068.9,1802.8 2070.1,1804.1 2071.4,1805.0 2072.9,1805.1 2074.4,1805.4 2076.0,1807.2 2077.5,1808.4 2079.0,1808.7 2080.5,1809.2 2081.9,1810.3 2083.2,1811.6 2084.4,1812.7 2085.7,1813.8 2086.9,1816.0 2088.3,1818.7 2089.6,1820.0 2091.1,1819.6 2092.7,1819.3 2094.5,1819.6 2096.3,1819.6 2098.2,1819.7 2100.0,1823.1 2101.9,1824.4 2103.7,1823.4 2105.3,1822.6 2106.9,1821.3 2108.4,1819.8 2109.9,1818.1 2111.3,1816.0 2112.8,1814.0 2114.4,1814.5 2116.0,1815.8 2117.8,1815.7 2119.6,1815.0 2121.4,1813.2 2123.1,1813.9 2124.8,1815.5 2126.5,1814.4 2128.1,1812.9 2129.7,1810.2 2131.3,1808.1 2132.8,1807.9 2134.4,1808.1 2135.9,1808.8 2137.5,1810.0 2139.1,1811.8 2140.5,1813.4 2141.7,1814.6 2142.7,1815.8 2143.6,1816.9 2144.4,1818.3 2145.2,1819.9 2145.9,1821.7 2146.6,1823.7 2147.3,1825.7 2148.0,1827.8 2148.7,1830.0 2149.5,1831.6 2150.2,1833.1 2150.9,1834.6 2151.6,1836.1 2152.3,1837.7 2153.0,1839.5 2153.7,1841.3 2154.5,1843.0 2155.2,1844.7 2155.9,1846.3 2156.6,1848.0 2157.2,1849.7 2157.9,1851.5 2158.6,1853.1 2159.3,1854.7 2160.1,1856.0 2160.9,1857.3 2161.8,1858.9 2162.8,1860.5 2163.8,1862.2 2164.9,1864.0 2166.2,1865.7 2167.5,1867.3 2168.9,1868.6 2170.3,1869.6 2171.7,1869.8 2173.2,1869.9 2174.8,1870.0 2176.5,1870.4 2178.3,1871.5 2180.1,1871.6 2182.0,1871.2 2183.8,1871.8 2185.5,1872.1 2187.2,1871.3 2188.7,1872.2 2190.2,1875.0 2191.6,1876.7 2193.1,1877.1 2194.4,1878.0 2195.8,1879.7 2197.2,1881.4 2198.6,1883.0 2200.1,1884.4 2201.6,1885.6 2203.1,1886.5 2204.7,1888.3 2206.5,1889.3 2208.3,1887.8 2210.1,1886.2 2212.0,1884.7 2213.8,1886.4 2215.7,1887.3 2217.5,1886.8 2219.2,1887.5 2220.8,1888.8 2222.4,1888.7 2224.0,1888.6 2225.5,1889.6 2227.0,1890.7 2228.4,1892.0 2229.9,1893.3 2231.4,1894.3 2233.0,1895.2 2234.5,1895.0 2236.2,1895.0 2237.8,1896.9 2239.5,1898.7 2241.2,1900.0 2242.9,1901.4 2244.6,1902.8 2246.4,1901.7 2248.2,1899.9 2250.0,1899.3 2251.8,1899.2 2253.5,1899.8 2255.2,1900.0 2256.8,1900.4 2258.3,1902.2 2259.8,1904.3 2261.3,1904.9 2262.9,1905.2 2264.5,1905.4 2266.1,1905.2 2267.8,1906.8 2269.6,1908.0 2271.4,1908.3 2273.2,1907.2 2275.0,1905.3 2276.8,1906.0 2278.7,1905.9 2280.5,1904.1 2282.3,1904.8 2284.1,1906.2 2285.9,1905.9 2287.6,1906.1 2289.4,1907.3 2291.1,1907.8 2292.8,1908.2 2294.5,1909.0 2296.3,1909.9 2298.0,1910.6 2299.7,1911.5 2301.4,1912.6 2303.1,1913.1 2304.9,1913.2 2306.6,1912.7 2308.5,1912.2 2310.3,1911.6 2312.2,1913.1 2314.0,1915.9 2315.9,1916.2 2317.8,1915.6 2319.6,1913.8 2321.4,1914.3 2323.1,1915.2 2324.8,1913.5 2326.4,1912.4 2327.9,1913.0 2329.2,1914.3 2330.6,1917.0 2331.8,1919.5 2333.1,1922.2 2334.4,1924.9 2335.8,1925.2 2337.3,1923.2 2338.9,1922.0 2340.5,1921.7 2342.2,1922.5 2344.0,1923.7"/>
<polyline stroke="#ff0000" points="559.2,1886.0 561.1,1885.3 562.9,1884.8 564.6,1884.7 566.2,1883.4 567.6,1882.1 569.0,1883.5 570.4,1886.0 571.7,1887.9 572.9,1889.2 574.1,1890.8 575.3,1894.7 576.4,1898.5 577.5,1899.8 578.5,1899.8 579.4,1900.8 580.3,1902.3 581.2,1904.1 582.2,1905.4 583.2,1906.3 584.3,1907.0 585.7,1907.1 587.3,1906.8 589.1,1906.4 591.0,1906.0 593.0,1906.2 594.9,1906.9 596.7,1907.8 598.4,1908.4 600.0,1908.2 601.6,1909.0 603.1,1911.1 604.6,1912.5 606.1,1912.8 607.6,1913.4 609.2,1914.7 610.8,1916.3 612.4,1918.2 614.1,1918.6 615.9,1918.1 617.6,1917.6 619.4,1917.3 621.2,1918.0 623.0,1919.0 624.8,1920.1 626.6,1921.7 628.4,1922.5 630.2,1920.4 631.9,1919.5 633.7,1919.4 635.4,1920.0 637.1,1920.5 638.8,1918.0 640.5,1916.2 642.3,1916.0 644.0,1916.2 645.7,1916.6 647.4,1915.9 649.1,1915.1 650.9,1914.3 652.6,1914.1 654.4,1914.7 656.2,1912.7 657.9,1909.4 659.7,1913.3 661.5,1915.7 663.3,1914.0 665.1,1913.0 666.9,1912.6 668.7,1914.6 670.5,1916.3 672.3,1916.8 674.1,1916.3 675.9,1915.1 677.7,1914.4 679.5,1914.3 681.3,1915.4 683.1,1915.8 684.9,1915.7 686.7,1917.1 688.5,1918.0 690.3,1917.3 692.1,1916.7 693.9,1916.1 695.8,1917.0 697.6,1917.3 699.4,1915.9 701.3,1914.9 703.1,1914.3 704.9,1915.9 706.8,1916.8 708.6,1916.8 710.3,1916.2 712.1,1915.4 713.8,1914.9 715.4,1914.6 717.0,1915.0 718.6,1913.8 720.1,1910.4 721.6,1909.1 723.2,1910.6 724.7,1910.9 726.2,1909.6 727.8,1907.7 729.5,1905.0 731.1,1904.8 732.8,1905.7 734.5,1904.3 736.2,1902.9 738.0,1904.0 739.7,1903.3 741.5,1900.0 743.2,1899.4 745.0,1900.2 746.7,1901.5 748.5,1902.7 750.2,1903.2 752.0,1901.6 753.8,1898.5 755.6,1900.1 757.4,1901.9 759.3,1903.1 761.0,1903.2 762.8,1902.4 764.6,1904.4 766.3,1905.7 768.0,1902.5 769.8,1901.1 771.5,1901.8 773.1,1900.5 774.7,1898.3 776.2,1898.9 777.7,1899.9 779.0,1898.4 780.4,1896.0 781.7,1894.0 782.9,1892.4 784.2,1890.6 785.5,1888.3 786.8,1885.9 788.1,1886.7 789.5,1888.3 790.9,1887.8 792.5,1886.3 794.1,1885.5 795.8,1885.0 797.6,1884.9 799.4,1884.7 801.2,1883.4 803.0,1882.1 804.8,1880.6 806.4,1879.7 807.9,1878.8 809.4,1877.8 810.9,1876.7 812.3,1877.1 813.7,1877.7 815.2,1875.1 816.7,1871.7 818.3,1871.0 820.0,1871.1 821.7,1870.6 823.4,1870.2 825.0,1869.9 826.4,1869.4 827.8,1868.6 829.1,1867.6 830.3,1865.1 831.6,1862.6 832.8,1860.7 833.9,1859.1 835.0,1857.6 836.1,1857.0 837.2,1856.3 838.2,1855.5 839.2,1854.4 840.2,1853.3 841.2,1852.1 842.0,1850.2 842.9,1848.3 843.6,1846.4 844.3,1844.6 845.1,1842.9 845.8,1841.3 846.7,1839.6 847.6,1838.0 848.7,1836.3 850.0,1834.7 851.5,1834.0 852.9,1833.2 854.0,1831.6 854.8,1830.0 855.6,1828.4 856.3,1826.8 856.9,1825.2 857.5,1823.5 858.1,1821.8 858.6,1820.0 859.1,1818.2 859.6,1816.4 860.0,1814.6 860.4,1812.8 860.9,1811.1 861.3,1809.3 861.7,1807.6 862.1,1805.8 862.5,1804.0 862.8,1802.3 863.2,1800.5 863.5,1798.7 863.8,1797.0 864.2,1795.2 864.5,1793.4 864.8,1791.6 865.1,1789.9 865.5,1788.1 865.8,1786.3 866.2,1784.6 866.5,1782.8 866.9,1781.0 867.3,1779.3 867.7,1777.5 868.1,1775.7 868.5,1774.0 868.9,1772.2 869.3,1770.5 869.6,1768.7 870.0,1766.9 870.3,1765.2 870.7,1763.4 871.0,1761.6 871.2,1759.9 871.5,1758.1 871.7,1756.3 871.9,1754.5 872.1,1752.7 872.3,1750.9 872.5,1749.2 872.7,1747.4 872.9,1745.6 873.1,1743.8 873.3,1742.0 873.4,1740.2 873.6,1738.4 873.8,1736.6 873.9,1734.8 874.1,1733.0 874.2,1731.2 874.4,1729.4 874.5,1727.6 874.7,1725.8 874.9,1724.0 875.0,1722.2 875.2,1720.4 875.3,1718.6 875.5,1716.8 875.7,1715.1 875.8,1713.3 876.0,1711.5 876.1,1709.7 876.3,1707.9 876.4,1706.1 876.5,1704.3 876.7,1702.5 876.8,1700.7 877.0,1698.9 877.1,1697.1 877.3,1695.3 877.4,1693.5 877.5,1691.7 877.7,1689.9 877.8,1688.1 878.0,1686.3 878.1,1684.5 878.3,1682.7 878.4,1681.0 878.6,1679.2 878.7,1677.4 878.9,1675.6 879.0,1673.8 879.2,1672.0 879.4,1670.2 879.5,1668.4 879.7,1666.6 879.8,1664.8 880.0,1663.0 880.1,1661.2 880.3,1659.4 880.5,1657.6 880.6,1655.8 880.8,1654.0 880.9,1652.2 881.1,1650.4 881.2,1648.7 881.3,1646.9 881.5,1645.1 881.6,1643.3 881.7,1641.5 881.9,1639.7 882.0,1637.9 882.1,1636.1 882.2,1634.3 882.3,1632.5 882.5,1630.7 882.6,1628.9 882.7,1627.1 882.8,1625.3 882.9,1623.5 883.0,1621.7 883.1,1619.9 883.2,1618.1 883.3,1616.3 883.4,1614.5 883.5,1612.7 883.6,1610.9 883.7,1609.1 883.8,1607.3 883.9,1605.5 884.1,1603.7 884.2,1601.9 884.3,1600.1 884.4,1598.3 884.5,1596.5 884.6,1594.7 884.7,1592.9 884.8,1591.1 884.9,1589.3 885.1,1587.5 885.2,1585.8 885.3,1584.0 885.4,1582.2 885.6,1580.4 885.7,1578.6 885.8,1576.8 886.0,1575.0 886.1,1573.2 886.2,1571.4 886.4,1569.6 886.5,1567.8 886.6,1566.0 886.8,1564.2 886.9,1562.4 887.0,1560.6 887.1,1558.8 887.3,1557.0 887.4,1555.2 887.5,1553.4 887.6,1551.6 887.8,1549.8 887.9,1548.0 888.0,1546.2 888.1,1544.4 888.2,1542.6 888.3,1540.8 888.4,1539.0 888.5,1537.2 888.6,1535.4 888.7,1533.6 888.8,1531.8 888.9,1530.0 889.0,1528.3 889.1,1526.5 889.2,1524.7 889.3,1522.9 889.3,1521.1 889.4,1519.3 889.5,1517.5 889.6,1515.7 889.7,1513.9 889.8,1512.1 889.9,1510.3 889.9,1508.5 890.0,1506.7 890.1,1504.9 890.2,1503.1 890.3,1501.3 890.4,1499.5 890.5,1497.7 890.5,1495.9 890.6,1494.1 890.7,1492.3 890.8,1490.5 890.9,1488.7 891.0,1486.9 891.0,1485.1 891.1,1483.3 891.2,1481.5 891.3,1479.7 891.4,1477.9 891.5,1476.1 891.6,1474.3 891.7,1472.5 891.8,1470.7 891.9,1468.9 892.0,1467.1 892.0,1465.3 892.1,1463.5 892.2,1461.7 892.3,1459.9 892.4,1458.1 892.5,1456.3 892.6,1454.5 892.7,1452.7 892.8,1450.9 892.9,1449.1 893.0,1447.3 893.1,1445.5 893.1,1443.7 893.2,1441.9 893.3,1440.1 893.4,1438.3 893.5,1436.5 893.6,1434.7 893.7,1432.9 893.8,1431.1 893.8,1429.3 893.9,1427.5 894.0,1425.7 894.1,1423.9 894.2,1422.1 894.3,1420.3 894.3,1418.5 894.4,1416.7 894.5,1414.9 894.6,1413.1 894.6,1411.3 894.7,1409.5 894.8,1407.7 894.9,1405.9 894.9,1404.1 895.0,1402.3 895.1,1400.5 895.2,1398.7 895.2,1396.9 895.3,1395.1 895.4,1393.3 895.5,1391.5 895.5,1389.7 895.6,1387.9 895.7,1386.1 895.7,1384.3 895.8,1382.5 895.9,1380.7 896.0,1378.9 896.0,1377.1 896.1,1375.3 896.2,1373.5 896.2,1371.7 896.3,1369.9 896.4,1368.1 896.4,1366.3 896.5,1364.5 896.6,1362.7 896.6,1360.9 896.7,1359.1 896.8,1357.3 896.8,1355.5 896.9,1353.7 897.0,1351.9 897.0,1350.1 897.1,1348.3 897.2,1346.5 897.2,1344.8 897.3,1343.0 897.4,1341.2 897.5,1339.4 897.5,1337.6 897.6,1335.8 897.7,1334.0 897.7,1332.2 897.8,1330.4 897.9,1328.6 897.9,1326.8 898.0,1325.0 898.1,1323.2 898.1,1321.4 898.2,1319.6 898.3,1317.8 898.3,1316.0 898.4,1314.2 898.5,1312.4 898.5,1310.6 898.6,1308.8 898.7,1307.0 898.7,1305.2 898.8,1303.4 898.9,1301.6 898.9,1299.8 899.0,1298.0 899.1,1296.2 899.1,1294.4 899.2,1292.6 899.2,1290.8 899.3,1289.0 899.4,1287.2 899.4,1285.4 899.5,1283.6 899.6,1281.8 899.6,1280.0 899.7,1278.2 899.8,1276.4 899.8,1274.6 899.9,1272.8 899.9,1271.0 900.0,1269.2 900.1,1267.4 900.1,1265.6 900.2,1263.8 900.3,1262.0 900.3,1260.2 900.4,1258.4 900.4,1256.6 900.5,1254.8 900.6,1253.0 900.6,1251.2 900.7,1249.4 900.7,1247.6 900.8,1245.8 900.9,1244.0 900.9,1242.2 901.0,1240.4 901.0,1238.6 901.1,1236.8 901.2,1235.0 901.2,1233.2 901.3,1231.4 901.3,1229.6 901.4,1227.8 901.4,1226.0 901.5,1224.2 901.6,1222.4 901.6,1220.6 901.7,1218.8 901.7,1217.0 901.8,1215.2 901.8,1213.4 901.9,1211.6 901.9,1209.8 902.0,1208.0 902.1,1206.2 902.1,1204.4 902.2,1202.6 902.2,1200.8 902.3,1199.0 902.3,1197.2 902.4,1195.4 902.4,1193.6 902.5,1191.8 902.5,1190.0 902.6,1188.2 902.6,1186.4 902.7,1184.6 902.7,1182.8 902.8,1181.0 902.9,1179.2 902.9,1177.4 903.0,1175.6 903.0,1173.8 903.1,1172.0 903.1,1170.2 903.2,1168.4 903.2,1166.6 903.3,1164.8 903.3,1163.0 903.4,1161.2 903.4,1159.4 903.5,1157.6 903.6,1155.8 903.6,1154.0 903.7,1152.2 903.7,1150.4 903.8,1148.6 903.8,1146.8 903.9,1145.0 903.9,1143.2 904.0,1141.4 904.0,1139.6 904.1,1137.8 904.2,1136.0 904.2,1134.2 904.3,1132.4 904.3,1130.6 904.4,1128.8 904.4,1127.0 904.5,1125.2 904.5,1123.4 904.6,1121.6 904.6,1119.8 904.7,1118.0 904.7,1116.2 904.8,1114.4 904.9,1112.6 904.9,1110.8 905.0,1109.0 905.0,1107.2 905.1,1105.4 905.1,1103.6 905.2,1101.8 905.2,1100.0 905.3,1098.2 905.3,1096.4 905.4,1094.6 905.4,1092.8 905.5,1091.0 905.5,1089.2 905.6,1087.4 905.7,1085.6 905.7,1083.8 905.8,1082.0 905.8,1080.2 905.9,1078.4 905.9,1076.6 906.0,1074.8 906.0,1073.0 906.1,1071.2 906.1,1069.4 906.2,1067.6 906.3,1065.8 906.3,1064.0 906.4,1062.2 906.4,1060.4 906.5,1058.6 906.5,1056.8 906.6,1055.0 906.6,1053.2 906.7,1051.4 906.8,1049.6 906.8,1047.8 906.9,1046.0 906.9,1044.2 907.0,1042.4 907.0,1040.6 907.1,1038.8 907.2,1037.0 907.2,1035.2 907.3,1033.4 907.3,1031.6 907.4,1029.8 907.5,1028.0 907.5,1026.2 907.6,1024.4 907.6,1022.6 907.7,1020.8 907.8,1019.0 907.8,1017.2 907.9,1015.4 908.0,1013.6 908.0,1011.8 908.1,1010.0 908.1,1008.2 908.2,1006.4 908.3,1004.6 908.3,1002.8 908.4,1001.0 908.5,999.2 908.5,997.4 908.6,995.6 908.6,993.8 908.7,992.0 908.7,990.2 908.8,988.4 908.9,986.6 908.9,984.8 909.0,983.0 909.0,981.2 909.1,979.4 909.1,977.6 909.2,975.7 909.3,973.9 909.3,972.1 909.4,970.3 909.4,968.5 909.5,966.7 909.6,964.9 909.6,963.1 909.7,961.3 909.8,959.5 909.8,957.7 909.9,955.9 910.0,954.1 910.0,952.3 910.1,950.5 910.2,948.7 910.2,946.9 910.3,945.1 910.4,943.3 910.5,941.5 910.6,939.7 910.7,937.9 910.7,936.1 910.8,934.4 910.9,932.6 911.0,930.8 911.1,929.0 911.2,927.2 911.3,925.4 911.5,923.6 911.6,921.8 911.7,920.0 911.8,918.2 911.9,916.4 912.1,914.6 912.2,912.8 912.4,911.0 912.5,909.2 912.7,907.3 912.9,905.5 913.1,903.7 913.4,901.9 913.6,900.2 913.9,898.4 914.3,896.7 914.6,895.0 915.1,892.9 915.9,890.8 916.7,889.6 917.5,889.7 918.4,891.0 919.2,892.7 919.7,894.5 920.1,896.3 920.4,898.1 920.7,899.9 920.9,901.7 921.0,903.4 921.2,905.2 921.4,907.0 921.5,908.8 921.7,910.6 921.8,912.4 922.0,914.2 922.1,916.0 922.2,917.8 922.4,919.6 922.5,921.3 922.6,923.1 922.7,924.9 922.8,926.7 922.9,928.5 923.0,930.3 923.1,932.1 923.2,933.9 923.3,935.7 923.4,937.5 923.5,939.3 923.6,941.1 923.7,942.9 923.8,944.7 923.8,946.5 923.9,948.3 924.0,950.1 924.1,951.9 924.2,953.7 924.2,955.5 924.3,957.3 924.4,959.1 924.5,960.9 924.6,962.8 924.6,964.6 924.7,966.4 924.8,968.2 924.9,970.0 925.0,971.8 925.1,973.6 925.1,975.4 925.2,977.2 925.3,979.0 925.4,980.8 925.5,982.6 925.6,984.4 925.7,986.2 925.8,988.0 926.0,989.8 926.1,991.6 926.2,993.4 926.3,995.2 926.4,996.9 926.5,998.7 926.6,1000.5 926.8,1002.3 926.9,1004.1 927.0,1005.9 927.1,1007.7 927.2,1009.5 927.3,1011.3 927.5,1013.1 927.6,1014.9 927.7,1016.7 927.8,1018.5 927.9,1020.3 928.1,1022.1 928.2,1023.9 928.3,1025.7 928.4,1027.5 928.5,1029.3 928.7,1031.1 928.8,1032.9 928.9,1034.7 929.0,1036.5 929.2,1038.3 929.3,1040.1 929.4,1041.9 929.5,1043.7 929.7,1045.5 929.8,1047.3 929.9,1049.1 930.0,1050.9 930.2,1052.6 930.3,1054.4 930.4,1056.2 930.6,1058.0 930.7,1059.8 930.8,1061.6 931.0,1063.4 931.1,1065.2 931.2,1067.0 931.4,1068.8 931.5,1070.6 931.6,1072.4 931.8,1074.2 931.9,1076.0 932.1,1077.8 932.2,1079.6 932.3,1081.4 932.5,1083.2 932.6,1085.0 932.8,1086.8 932.9,1088.6 933.1,1090.4 933.2,1092.1 933.4,1093.9 933.5,1095.7 933.7,1097.5 933.8,1099.3 934.0,1101.1 934.1,1102.9 934.3,1104.7 934.4,1106.5 934.6,1108.3 934.8,1110.1 934.9,1111.9 935.1,1113.7 935.2,1115.5 935.4,1117.3 935.6,1119.1 935.7,1120.9 935.9,1122.6 936.1,1124.4 936.2,1126.2 936.4,1128.0 936.5,1129.8 936.7,1131.6 936.9,1133.4 937.0,1135.2 937.2,1137.0 937.4,1138.8 937.5,1140.6 937.7,1142.4 937.9,1144.2 938.0,1146.0 938.2,1147.8 938.4,1149.5 938.6,1151.3 938.7,1153.1 938.9,1154.9 939.1,1156.7 939.3,1158.5 939.5,1160.3 939.7,1162.1 939.9,1163.9 940.1,1165.7 940.3,1167.5 940.5,1169.3 940.7,1171.0 940.9,1172.8 941.1,1174.6 941.3,1176.4 941.4,1178.2 941.6,1180.0 941.8,1181.8 942.0,1183.6 942.2,1185.4 942.4,1187.2 942.5,1189.0 942.7,1190.7 942.9,1192.5 943.0,1194.3 943.2,1196.1 943.3,1197.9 943.4,1199.7 943.6,1201.5 943.7,1203.3 943.8,1205.1 943.9,1206.9 944.0,1208.7 944.1,1210.5 944.2,1212.3 944.3,1214.1 944.4,1215.9 944.5,1217.7 944.6,1219.5 944.7,1221.3 944.8,1223.1 944.9,1224.9 945.0,1226.7 945.1,1228.5 945.2,1230.3 945.3,1232.1 945.4,1233.9 945.5,1235.7 945.6,1237.5 945.7,1239.3 945.8,1241.1 945.9,1242.9 946.0,1244.7 946.1,1246.5 946.2,1248.3 946.3,1250.1 946.4,1251.9 946.5,1253.7 946.6,1255.5 946.8,1257.2 946.9,1259.0 947.0,1260.8 947.1,1262.6 947.2,1264.4 947.4,1266.2 947.5,1268.0 947.6,1269.8 947.7,1271.6 947.8,1273.4 947.9,1275.2 948.1,1277.0 948.2,1278.8 948.3,1280.6 948.4,1282.4 948.5,1284.2 948.6,1286.0 948.7,1287.8 948.9,1289.6 949.0,1291.4 949.1,1293.2 949.2,1295.0 949.3,1296.8 949.4,1298.6 949.5,1300.4 949.6,1302.2 949.7,1304.0 949.8,1305.8 949.8,1307.6 949.9,1309.4 950.0,1311.2 950.1,1313.0 950.2,1314.8 950.2,1316.6 950.3,1318.4 950.4,1320.2 950.4,1322.0 950.5,1323.8 950.6,1325.6 950.6,1327.4 950.7,1329.2 950.8,1331.0 950.8,1332.8 950.9,1334.6 950.9,1336.4 951.0,1338.2 951.0,1340.0 951.1,1341.8 951.1,1343.6 951.2,1345.4 951.2,1347.2 951.3,1349.0 951.3,1350.8 951.4,1352.6 951.4,1354.4 951.5,1356.2 951.5,1358.0 951.6,1359.8 951.6,1361.6 951.7,1363.4 951.7,1365.2 951.8,1367.0 951.8,1368.8 951.9,1370.6 951.9,1372.4 952.0,1374.2 952.0,1376.0 952.1,1377.8 952.1,1379.6 952.2,1381.4 952.2,1383.2 952.3,1385.0 952.3,1386.8 952.4,1388.6 952.5,1390.4 952.5,1392.2 952.6,1394.0 952.7,1395.8 952.7,1397.6 952.8,1399.4 952.8,1401.2 952.9,1403.0 953.0,1404.8 953.0,1406.6 953.1,1408.4 953.2,1410.2 953.2,1412.0 953.3,1413.8 953.4,1415.6 953.4,1417.4 953.5,1419.2 953.6,1421.0 953.6,1422.8 953.7,1424.6 953.8,1426.4 953.8,1428.2 953.9,1430.0 954.0,1431.8 954.0,1433.6 954.1,1435.4 954.2,1437.2 954.3,1439.0 954.3,1440.8 954.4,1442.6 954.5,1444.4 954.6,1446.2 954.6,1448.0 954.7,1449.8 954.8,1451.6 954.9,1453.4 954.9,1455.2 955.0,1457.0 955.1,1458.8 955.2,1460.6 955.3,1462.4 955.4,1464.2 955.4,1466.0 955.5,1467.8 955.6,1469.6 955.7,1471.3 955.8,1473.1 955.9,1474.9 956.0,1476.7 956.1,1478.5 956.2,1480.3 956.3,1482.1 956.4,1483.9 956.6,1485.7 956.7,1487.5 956.8,1489.3 956.9,1491.1 957.0,1492.9 957.1,1494.7 957.3,1496.5 957.4,1498.3 957.5,1500.1 957.6,1501.9 957.7,1503.7 957.9,1505.5 958.0,1507.3 958.1,1509.1 958.2,1510.9 958.3,1512.7 958.5,1514.5 958.6,1516.3 958.7,1518.1 958.8,1519.9 958.9,1521.7 959.0,1523.5 959.2,1525.3 959.3,1527.1 959.4,1528.9 959.5,1530.7 959.6,1532.5 959.7,1534.3 959.8,1536.1 959.9,1537.8 960.0,1539.6 960.1,1541.4 960.3,1543.2 960.4,1545.0 960.5,1546.8 960.6,1548.6 960.7,1550.4 960.8,1552.2 960.9,1554.0 961.0,1555.8 961.1,1557.6 961.2,1559.4 961.3,1561.2 961.4,1563.0 961.5,1564.8 961.6,1566.6 961.8,1568.4 961.9,1570.2 962.0,1572.0 962.1,1573.8 962.2,1575.6 962.3,1577.4 962.4,1579.2 962.5,1581.0 962.6,1582.8 962.8,1584.6 962.9,1586.4 963.0,1588.2 963.1,1590.0 963.2,1591.8 963.3,1593.6 963.4,1595.4 963.6,1597.2 963.7,1599.0 963.8,1600.8 963.9,1602.6 964.0,1604.4 964.1,1606.2 964.3,1608.0 964.4,1609.7 964.5,1611.5 964.6,1613.3 964.7,1615.1 964.8,1616.9 965.0,1618.7 965.1,1620.5 965.2,1622.3 965.3,1624.1 965.4,1625.9 965.6,1627.7 965.7,1629.5 965.8,1631.3 965.9,1633.1 966.1,1634.9 966.2,1636.7 966.3,1638.5 966.4,1640.3 966.6,1642.1 966.7,1643.9 966.9,1645.7 967.0,1647.5 967.1,1649.3 967.3,1651.1 967.4,1652.9 967.6,1654.7 967.7,1656.4 967.9,1658.2 968.0,1660.0 968.2,1661.8 968.3,1663.6 968.5,1665.4 968.6,1667.2 968.8,1669.0 969.0,1670.8 969.1,1672.6 969.3,1674.4 969.5,1676.2 969.7,1678.0 969.8,1679.8 970.0,1681.6 970.2,1683.3 970.4,1685.1 970.6,1686.9 970.8,1688.7 970.9,1690.5 971.1,1692.3 971.3,1694.1 971.5,1695.9 971.7,1697.7 971.9,1699.5 972.1,1701.3 972.3,1703.0 972.5,1704.8 972.7,1706.6 972.9,1708.4 973.2,1710.2 973.4,1712.0 973.6,1713.8 973.8,1715.6 974.0,1717.3 974.3,1719.1 974.5,1720.9 974.7,1722.7 975.0,1724.5 975.2,1726.3 975.5,1728.1 975.7,1729.8 976.0,1731.6 976.2,1733.4 976.5,1735.2 976.7,1737.0 977.0,1738.8 977.2,1740.5 977.5,1742.3 977.8,1744.1 978.0,1745.9 978.3,1747.7 978.6,1749.4 978.8,1751.2 979.1,1753.0 979.4,1754.8 979.7,1756.6 980.0,1758.3 980.2,1760.1 980.5,1761.9 980.8,1763.7 981.1,1765.5 981.4,1767.2 981.7,1769.0 982.0,1770.8 982.3,1772.6 982.6,1774.3 982.9,1776.1 983.3,1777.9 983.6,1779.7 983.9,1781.4 984.2,1783.2 984.5,1785.0 984.8,1786.7 985.2,1788.5 985.5,1790.3 985.8,1792.1 986.1,1793.9 986.4,1795.6 986.7,1797.4 987.0,1799.2 987.4,1801.0 987.7,1802.8 988.0,1804.5 988.4,1806.3 988.7,1808.1 989.1,1809.8 989.5,1811.6 989.9,1813.3 990.4,1815.1 990.8,1816.8 991.3,1818.5 991.8,1820.2 992.3,1821.9 992.9,1823.8 993.5,1825.6 994.2,1827.4 994.9,1829.0 995.6,1830.6 996.3,1832.2 997.1,1833.7 997.8,1835.4 998.6,1837.1 999.4,1838.8 1000.3,1840.4 1001.2,1841.9 1002.1,1843.4 1003.1,1844.9 1004.1,1846.4 1005.1,1847.9 1006.1,1849.3 1007.2,1850.0 1008.2,1850.8 1009.3,1852.3 1010.3,1854.5 1011.4,1856.2 1012.7,1857.6 1014.1,1858.2 1015.9,1857.7 1017.8,1856.4 1019.6,1856.1 1021.2,1855.7 1022.7,1854.6 1024.2,1853.3 1025.6,1852.5 1026.9,1851.7 1028.3,1851.3 1029.7,1851.0 1031.2,1849.2 1032.7,1847.2 1034.2,1846.2 1035.8,1845.5 1037.4,1845.5 1039.0,1845.5 1040.6,1844.5 1042.2,1843.6 1043.7,1843.6 1045.3,1842.9 1046.7,1838.7 1048.1,1834.9 1049.5,1835.8 1050.9,1836.5 1052.2,1834.5 1053.6,1832.3 1055.1,1831.6 1056.6,1831.9 1058.3,1832.8 1060.2,1833.9 1062.0,1834.8 1063.6,1835.6 1065.0,1836.4 1066.3,1837.4 1067.5,1838.1 1068.7,1839.1 1069.7,1840.9 1070.6,1842.9 1071.5,1844.7 1072.3,1846.1 1073.0,1847.2 1073.7,1848.5 1074.3,1850.0 1074.9,1851.7 1075.5,1853.4 1076.1,1855.1 1076.7,1856.8 1077.3,1858.5 1078.0,1860.2 1078.7,1862.0 1079.4,1863.8 1080.1,1865.6 1080.9,1867.4 1081.7,1868.9 1082.4,1870.3 1083.2,1871.6 1084.0,1872.9 1084.9,1875.2 1085.7,1877.6 1086.6,1880.2 1087.6,1881.9 1088.5,1883.1 1089.5,1884.2 1090.5,1885.8 1091.5,1887.9 1092.6,1890.0 1093.7,1891.1 1094.8,1891.5 1095.9,1891.6 1097.1,1892.7 1098.3,1893.7 1099.5,1894.9 1100.9,1896.5 1102.3,1898.0 1103.8,1899.5 1105.3,1900.7 1106.9,1900.5 1108.4,1900.9 1109.9,1902.7 1111.4,1904.2 1112.8,1905.0 1114.2,1906.1 1115.4,1908.4 1116.5,1910.7 1117.6,1912.1 1118.6,1912.9 1119.7,1913.6 1120.8,1915.2 1121.9,1917.5 1123.2,1919.2 1124.6,1918.3 1126.1,1917.2 1127.7,1917.2 1129.4,1917.3 1131.2,1917.8 1133.1,1917.8 1135.0,1917.5 1136.9,1919.0 1138.8,1920.4 1140.7,1921.4 1142.6,1920.8 1144.4,1920.3 1146.2,1920.7 1148.0,1921.5 1149.8,1922.4 1151.6,1921.1 1153.4,1919.9 1155.2,1919.6 1157.0,1919.1 1158.8,1918.4 1160.6,1916.8 1162.4,1916.1 1164.2,1918.2 1165.9,1917.7 1167.7,1914.9 1169.4,1915.9 1171.1,1917.5 1172.8,1916.3 1174.6,1915.6 1176.3,1916.1 1178.0,1915.3 1179.7,1913.6 1181.4,1912.2 1183.1,1911.0 1184.9,1911.7 1186.6,1911.7 1188.4,1910.4 1190.1,1910.0 1191.9,1910.1 1193.7,1910.0 1195.5,1909.8 1197.3,1909.3 1199.0,1908.9 1200.8,1908.5 1202.6,1907.5 1204.3,1906.7 1206.0,1906.9 1207.8,1905.9 1209.5,1903.5 1211.2,1903.7 1212.9,1905.0 1214.6,1903.6 1216.3,1902.5 1218.0,1904.0 1219.6,1904.6 1221.3,1904.0 1222.9,1901.6 1224.5,1897.9 1226.1,1897.6 1227.7,1898.7 1229.4,1897.9 1231.0,1896.8 1232.6,1895.0 1234.2,1893.4 1235.7,1893.7 1237.1,1893.7 1238.3,1891.9 1239.4,1890.1 1240.4,1888.3 1241.3,1886.6 1242.2,1884.9 1243.0,1883.3 1243.7,1882.1 1244.5,1880.8 1245.2,1879.3 1245.9,1877.7 1246.6,1876.0 1247.3,1874.3 1248.0,1872.5 1248.8,1870.8 1249.6,1869.2 1250.5,1867.7 1251.4,1866.2 1252.3,1864.5 1253.2,1862.3 1254.2,1860.0 1255.2,1857.8 1256.2,1856.5 1257.2,1855.4 1258.3,1854.5 1259.5,1853.4 1260.7,1852.4 1261.9,1850.7 1263.3,1849.0 1264.8,1848.7 1266.6,1849.7 1268.5,1851.0 1270.1,1852.2 1271.5,1852.8 1272.9,1853.8 1274.2,1856.9 1275.5,1860.0 1276.8,1861.8 1278.0,1862.8 1279.1,1863.8 1280.1,1864.6 1281.1,1864.9 1282.0,1864.9 1282.7,1864.9 1283.5,1864.5 1284.2,1864.1 1284.9,1863.3 1285.5,1862.2 1286.1,1860.7 1286.7,1858.7 1287.2,1856.6 1287.7,1854.4 1288.3,1852.1 1288.7,1849.8 1289.2,1847.6 1289.7,1845.5 1290.1,1843.5 1290.6,1841.7 1291.0,1839.9 1291.4,1838.2 1291.7,1836.4 1292.0,1834.6 1292.3,1832.8 1292.6,1831.0 1292.9,1829.1 1293.2,1827.3 1293.5,1825.5 1293.8,1823.7 1294.1,1821.9 1294.4,1820.2 1294.8,1818.4 1295.2,1816.7 1295.6,1815.0 1296.1,1813.3 1296.6,1811.6 1297.2,1810.0 1298.1,1808.1 1299.1,1806.3 1300.2,1804.9 1301.2,1803.7 1302.1,1803.3 1303.0,1803.8 1304.0,1806.0 1304.8,1807.9 1305.7,1809.7 1306.4,1811.4 1306.9,1813.3 1307.3,1815.0 1307.7,1816.7 1308.1,1818.4 1308.5,1820.1 1308.8,1821.9 1309.1,1823.7 1309.4,1825.4 1309.7,1827.2 1309.9,1829.0 1310.2,1830.8 1310.4,1832.6 1310.6,1834.4 1310.8,1836.2 1311.1,1838.0 1311.3,1839.8 1311.5,1841.7 1311.7,1843.5 1312.0,1845.3 1312.2,1847.1 1312.5,1848.9 1312.7,1850.7 1313.0,1852.4 1313.3,1854.2 1313.6,1856.0 1313.9,1857.8 1314.2,1859.6 1314.4,1861.4 1314.7,1863.2 1315.0,1865.0 1315.3,1866.7 1315.5,1868.5 1315.8,1870.3 1316.1,1872.1 1316.4,1873.9 1316.7,1875.7 1317.1,1877.4 1317.4,1879.2 1317.8,1880.9 1318.1,1882.7 1318.5,1884.4 1319.0,1886.2 1319.4,1887.9 1319.9,1889.7 1320.4,1891.5 1320.9,1893.4 1321.5,1895.3 1322.1,1897.2 1322.7,1899.2 1323.4,1901.4 1324.1,1903.8 1324.9,1905.3 1325.7,1906.3 1326.6,1906.9 1327.6,1907.6 1328.8,1908.7 1330.2,1909.7 1331.8,1909.8 1333.5,1910.1 1335.3,1911.1 1337.2,1912.7 1339.1,1914.5 1340.9,1915.2 1342.6,1915.4 1344.4,1915.1 1346.2,1915.1 1348.0,1915.4 1349.8,1914.6 1351.6,1913.8 1353.4,1912.8 1355.2,1912.9 1357.1,1913.5 1358.8,1913.0 1360.6,1912.5 1362.4,1911.8 1364.1,1912.3 1365.8,1913.6 1367.5,1914.9 1369.1,1916.2 1370.8,1916.1 1372.4,1916.2 1374.1,1916.4 1375.8,1917.3 1377.5,1918.7 1379.2,1920.0 1381.0,1921.1 1382.8,1918.9 1384.7,1917.6 1386.5,1917.7 1388.3,1917.7 1390.1,1917.8 1391.9,1919.1 1393.6,1918.9 1395.3,1915.7 1397.0,1915.5 1398.7,1917.0 1400.4,1917.3 1402.1,1917.2 1403.7,1914.4 1405.3,1912.4 1406.9,1913.4 1408.5,1913.5 1410.0,1911.5 1411.5,1909.6 1413.0,1907.7 1414.4,1906.2 1415.7,1905.6 1417.0,1904.9 1418.3,1902.4 1419.5,1900.0 1420.7,1898.6 1421.9,1897.8 1423.1,1897.1 1424.4,1897.3 1425.6,1897.6 1426.9,1895.6 1428.2,1892.3 1429.6,1890.8 1431.0,1892.0 1432.5,1892.1 1434.0,1889.5 1435.5,1887.7 1437.1,1887.8 1438.7,1887.1 1440.3,1885.4 1441.9,1883.0 1443.6,1880.1 1445.2,1879.9 1446.8,1880.6 1448.5,1880.6 1450.2,1880.3 1451.8,1878.2 1453.5,1876.5 1455.2,1875.7 1456.9,1876.0 1458.7,1877.4 1460.4,1876.7 1462.2,1875.7 1464.0,1874.6 1465.8,1874.5 1467.6,1875.5 1469.4,1877.0 1471.2,1878.2 1473.0,1876.8 1474.8,1876.7 1476.6,1878.1 1478.4,1878.6 1480.2,1878.5 1482.0,1876.4 1483.8,1874.3 1485.6,1872.4 1487.3,1871.2 1488.8,1870.1 1490.3,1870.2 1491.6,1870.2 1492.8,1869.8 1493.9,1868.7 1494.9,1867.2 1495.8,1865.1 1496.7,1862.8 1497.6,1860.6 1498.4,1858.5 1499.3,1856.5 1500.1,1854.7 1501.0,1853.1 1501.9,1851.4 1502.9,1849.7 1503.9,1848.2 1505.0,1848.0 1506.2,1848.4 1507.5,1848.7 1509.0,1848.5 1510.5,1848.6 1512.1,1849.5 1513.7,1850.0 1515.4,1850.0 1517.2,1850.5 1518.9,1851.3 1520.7,1853.4 1522.4,1855.1 1524.1,1855.5 1525.7,1856.2 1527.3,1857.3 1528.9,1859.2 1530.5,1861.9 1532.1,1863.2 1533.7,1863.7 1535.2,1867.0 1536.8,1870.7 1538.3,1870.6 1539.8,1869.8 1541.2,1869.0 1542.5,1868.1 1543.8,1868.1 1545.0,1868.5 1546.2,1868.4 1547.3,1866.9 1548.4,1865.1 1549.5,1863.1 1550.5,1860.9 1551.6,1858.7 1552.6,1857.1 1553.7,1855.8 1554.7,1854.7 1555.8,1852.7 1556.9,1850.3 1557.9,1847.9 1559.0,1845.5 1560.0,1843.0 1561.0,1840.5 1562.1,1839.8 1563.1,1839.2 1564.1,1838.9 1565.2,1836.8 1566.3,1834.7 1567.5,1833.8 1568.7,1834.8 1569.9,1836.3 1571.3,1835.3 1572.7,1834.5 1574.2,1834.9 1575.7,1835.7 1577.3,1838.9 1578.9,1842.6 1580.5,1841.8 1582.0,1840.4 1583.7,1842.3 1585.5,1844.2 1587.3,1846.0 1589.1,1846.3 1590.7,1845.7 1592.2,1846.1 1593.5,1846.9 1594.7,1848.0 1595.8,1849.4 1596.8,1850.8 1597.9,1852.6 1598.8,1854.4 1599.8,1856.2 1600.7,1857.5 1601.6,1858.7 1602.6,1859.8 1603.5,1861.4 1604.5,1863.6 1605.6,1865.8 1606.7,1867.5 1607.9,1868.9 1609.0,1870.3 1610.3,1872.8 1611.5,1875.3 1612.7,1876.1 1614.0,1875.5 1615.3,1875.2 1616.6,1876.0 1617.9,1876.8 1619.3,1879.2 1620.6,1881.6 1622.0,1882.4 1623.4,1882.6 1624.9,1883.7 1626.3,1885.3 1627.8,1886.5 1629.3,1887.4 1630.8,1888.8 1632.3,1890.6 1633.8,1891.2 1635.4,1890.6 1636.9,1891.2 1638.4,1892.7 1639.8,1892.8 1641.3,1891.8 1642.7,1892.6 1644.1,1895.0 1645.5,1897.7 1646.9,1900.8 1648.3,1903.1 1649.7,1902.6 1651.0,1902.1 1652.4,1903.2 1653.8,1904.4 1655.2,1905.2 1656.6,1905.9 1658.0,1907.9 1659.5,1910.4 1660.9,1911.8 1662.4,1912.4 1663.9,1912.5 1665.5,1912.4 1667.0,1914.2 1668.6,1916.9 1670.2,1918.1 1671.8,1918.7 1673.4,1920.0 1675.0,1921.3 1676.7,1920.7 1678.4,1920.7 1680.0,1923.4 1681.7,1924.4 1683.4,1923.1 1685.1,1922.3 1686.9,1921.7 1688.7,1921.1 1690.5,1920.7 1692.3,1920.8 1694.1,1921.4 1695.9,1922.3 1697.8,1921.0 1699.6,1920.4 1701.4,1921.5 1703.2,1921.4 1704.9,1920.6 1706.7,1920.9 1708.5,1920.9 1710.2,1919.9 1712.0,1918.7 1713.8,1917.4 1715.5,1915.2 1717.3,1913.6 1719.0,1915.5 1720.8,1916.7 1722.6,1917.0 1724.4,1916.7 1726.2,1916.1 1728.0,1916.5 1729.8,1916.3 1731.7,1915.2 1733.5,1915.1 1735.4,1915.0 1737.2,1914.5 1739.0,1915.5 1740.8,1917.8 1742.5,1917.1 1744.2,1916.0 1745.8,1915.2 1747.4,1914.2 1749.0,1912.8 1750.6,1911.9 1752.1,1912.0 1753.6,1912.1 1755.2,1912.3 1756.7,1911.5 1758.2,1909.4 1759.7,1907.3 1761.2,1905.1 1762.7,1904.3 1764.2,1905.2 1765.8,1905.2 1767.4,1904.3 1769.0,1903.1 1770.6,1901.9 1772.2,1900.8 1773.8,1899.7 1775.4,1899.1 1777.0,1898.5 1778.6,1897.1 1780.1,1895.7 1781.6,1894.9 1783.0,1894.0 1784.4,1891.8 1785.7,1889.5 1787.0,1889.4 1788.2,1889.7 1789.4,1888.9 1790.6,1886.8 1791.7,1884.6 1792.8,1883.7 1793.9,1883.1 1795.0,1882.5 1796.1,1879.0 1797.2,1875.5 1798.3,1872.7 1799.4,1872.6 1800.5,1872.6 1801.6,1872.0 1802.8,1870.9 1804.0,1869.8 1805.2,1867.6 1806.5,1865.5 1807.8,1864.2 1809.1,1863.6 1810.5,1862.9 1811.8,1862.0 1813.2,1861.0 1814.6,1859.7 1816.1,1858.4 1817.5,1856.4 1819.0,1854.4 1820.4,1853.6 1821.9,1852.8 1823.3,1852.7 1824.8,1852.6 1826.3,1851.9 1827.8,1851.2 1829.3,1849.4 1830.9,1847.4 1832.4,1846.4 1834.0,1845.5 1835.6,1844.7 1837.2,1844.0 1838.8,1843.9 1840.3,1843.2 1841.9,1840.4 1843.4,1838.1 1844.9,1836.9 1846.4,1836.0 1847.8,1836.2 1849.3,1835.9 1850.7,1833.8 1852.2,1831.8 1853.6,1831.1 1855.0,1830.4 1856.4,1829.7 1857.8,1829.0 1859.2,1828.2 1860.5,1827.2 1861.8,1825.4 1863.1,1823.0 1864.3,1821.2 1865.5,1821.1 1866.6,1820.8 1867.7,1819.0 1868.7,1816.3 1869.7,1813.8 1870.7,1812.8 1871.6,1812.2 1872.5,1811.5 1873.4,1810.0 1874.3,1807.8 1875.2,1805.6 1876.0,1803.5 1876.9,1802.0 1877.7,1800.4 1878.5,1798.9 1879.4,1797.5 1880.2,1796.3 1881.0,1795.2 1881.9,1794.1 1882.8,1792.3 1883.6,1790.5 1884.5,1788.6 1885.5,1786.7 1886.4,1785.1 1887.3,1783.4 1888.2,1781.8 1889.0,1780.4 1889.8,1778.9 1890.6,1777.4 1891.3,1775.9 1892.0,1774.4 1892.8,1772.9 1893.5,1771.3 1894.2,1769.7 1894.9,1768.0 1895.6,1766.2 1896.2,1764.5 1896.9,1762.7 1897.5,1761.0 1898.1,1759.3 1898.7,1757.6 1899.2,1755.9 1899.8,1754.2 1900.3,1752.5 1900.7,1750.7 1901.2,1749.0 1901.6,1747.3 1902.0,1745.5 1902.3,1743.8 1902.7,1742.1 1903.1,1740.3 1903.4,1738.6 1903.8,1736.8 1904.1,1735.0 1904.4,1733.3 1904.8,1731.5 1905.1,1729.7 1905.4,1728.0 1905.7,1726.2 1906.0,1724.4 1906.3,1722.6 1906.5,1720.8 1906.8,1719.1 1907.1,1717.3 1907.3,1715.5 1907.6,1713.7 1907.8,1711.9 1908.1,1710.1 1908.3,1708.3 1908.6,1706.5 1908.8,1704.7 1909.0,1702.9 1909.3,1701.1 1909.5,1699.3 1909.7,1697.5 1909.9,1695.7 1910.1,1693.9 1910.3,1692.1 1910.5,1690.3 1910.7,1688.5 1910.9,1686.8 1911.1,1685.0 1911.3,1683.2 1911.5,1681.4 1911.7,1679.6 1911.9,1677.8 1912.1,1676.0 1912.3,1674.2 1912.5,1672.4 1912.7,1670.6 1912.8,1668.9 1913.0,1667.1 1913.2,1665.3 1913.4,1663.5 1913.5,1661.7 1913.7,1659.9 1913.9,1658.1 1914.0,1656.3 1914.2,1654.5 1914.4,1652.7 1914.5,1650.9 1914.7,1649.1 1914.8,1647.4 1915.0,1645.6 1915.2,1643.8 1915.3,1642.0 1915.5,1640.2 1915.6,1638.4 1915.7,1636.6 1915.9,1634.8 1916.0,1633.0 1916.2,1631.2 1916.3,1629.4 1916.5,1627.6 1916.6,1625.8 1916.7,1624.0 1916.9,1622.2 1917.0,1620.4 1917.2,1618.6 1917.3,1616.8 1917.4,1615.0 1917.6,1613.2 1917.7,1611.4 1917.8,1609.6 1918.0,1607.8 1918.1,1606.0 1918.2,1604.2 1918.4,1602.4 1918.5,1600.6 1918.6,1598.8 1918.7,1597.1 1918.9,1595.3 1919.0,1593.5 1919.1,1591.7 1919.3,1589.9 1919.4,1588.1 1919.5,1586.3 1919.7,1584.5 1919.8,1582.7 1919.9,1580.9 1920.1,1579.1 1920.2,1577.3 1920.3,1575.5 1920.5,1573.7 1920.6,1571.9 1920.7,1570.1 1920.9,1568.3 1921.0,1566.5 1921.1,1564.7 1921.3,1562.9 1921.4,1561.1 1921.5,1559.3 1921.7,1557.5 1921.8,1555.7 1921.9,1553.9 1922.1,1552.1 1922.2,1550.4 1922.3,1548.6 1922.4,1546.8 1922.6,1545.0 1922.7,1543.2 1922.8,1541.4 1923.0,1539.6 1923.1,1537.8 1923.2,1536.0 1923.3,1534.2 1923.5,1532.4 1923.6,1530.6 1923.7,1528.8 1923.8,1527.0 1923.9,1525.2 1924.1,1523.4 1924.2,1521.6 1924.3,1519.8 1924.4,1518.0 1924.5,1516.2 1924.7,1514.4 1924.8,1512.6 1924.9,1510.8 1925.0,1509.0 1925.1,1507.2 1925.2,1505.4 1925.3,1503.6 1925.4,1501.8 1925.5,1500.0 1925.6,1498.2 1925.7,1496.4 1925.8,1494.6 1925.9,1492.8 1926.0,1491.0 1926.1,1489.2 1926.2,1487.4 1926.3,1485.6 1926.4,1483.9 1926.5,1482.1 1926.6,1480.3 1926.7,1478.5 1926.7,1476.7 1926.8,1474.9 1926.9,1473.1 1927.0,1471.3 1927.1,1469.5 1927.1,1467.7 1927.2,1465.9 1927.3,1464.1 1927.4,1462.3 1927.4,1460.5 1927.5,1458.7 1927.6,1456.9 1927.7,1455.1 1927.7,1453.3 1927.8,1451.5 1927.9,1449.7 1927.9,1447.9 1928.0,1446.1 1928.1,1444.3 1928.1,1442.5 1928.2,1440.7 1928.2,1438.9 1928.3,1437.1 1928.4,1435.3 1928.4,1433.5 1928.5,1431.7 1928.6,1429.9 1928.6,1428.1 1928.7,1426.3 1928.7,1424.5 1928.8,1422.7 1928.8,1420.9 1928.9,1419.1 1929.0,1417.3 1929.0,1415.5 1929.1,1413.7 1929.1,1411.9 1929.2,1410.1 1929.3,1408.3 1929.3,1406.5 1929.4,1404.7 1929.4,1402.9 1929.5,1401.1 1929.6,1399.3 1929.6,1397.5 1929.7,1395.7 1929.7,1393.9 1929.8,1392.1 1929.9,1390.3 1929.9,1388.5 1930.0,1386.7 1930.0,1384.9 1930.1,1383.1 1930.2,1381.3 1930.2,1379.5 1930.3,1377.7 1930.4,1375.9 1930.4,1374.1 1930.5,1372.3 1930.6,1370.5 1930.7,1368.7 1930.7,1366.9 1930.8,1365.1 1930.9,1363.3 1930.9,1361.5 1931.0,1359.7 1931.1,1357.9 1931.2,1356.1 1931.3,1354.3 1931.3,1352.5 1931.4,1350.7 1931.5,1348.9 1931.6,1347.1 1931.7,1345.3 1931.8,1343.5 1931.9,1341.7 1932.0,1339.9 1932.1,1338.1 1932.2,1336.3 1932.3,1334.5 1932.4,1332.7 1932.5,1330.9 1932.6,1329.1 1932.7,1327.3 1932.8,1325.5 1932.9,1323.7 1933.0,1321.9 1933.2,1320.1 1933.3,1318.3 1933.4,1316.5 1933.5,1314.7 1933.6,1312.9 1933.8,1311.1 1933.9,1309.3 1934.0,1307.5 1934.1,1305.7 1934.3,1303.9 1934.4,1302.1 1934.5,1300.4 1934.6,1298.6 1934.7,1296.8 1934.9,1295.0 1935.0,1293.2 1935.1,1291.4 1935.2,1289.6 1935.4,1287.8 1935.5,1286.0 1935.6,1284.2 1935.7,1282.4 1935.8,1280.6 1935.9,1278.8 1936.1,1277.0 1936.2,1275.2 1936.3,1273.4 1936.4,1271.6 1936.5,1269.8 1936.6,1268.0 1936.7,1266.2 1936.8,1264.4 1936.9,1262.6 1937.0,1260.8 1937.1,1259.0 1937.2,1257.2 1937.3,1255.4 1937.3,1253.6 1937.4,1251.8 1937.5,1250.0 1937.6,1248.2 1937.6,1246.4 1937.7,1244.6 1937.8,1242.8 1937.9,1241.0 1937.9,1239.2 1938.0,1237.4 1938.1,1235.6 1938.1,1233.8 1938.2,1232.0 1938.3,1230.2 1938.3,1228.4 1938.4,1226.6 1938.4,1224.8 1938.5,1223.0 1938.6,1221.2 1938.6,1219.4 1938.7,1217.6 1938.7,1215.8 1938.8,1214.0 1938.9,1212.2 1938.9,1210.4 1939.0,1208.6 1939.0,1206.8 1939.1,1205.0 1939.1,1203.2 1939.2,1201.4 1939.2,1199.6 1939.3,1197.8 1939.3,1196.0 1939.4,1194.2 1939.4,1192.4 1939.5,1190.6 1939.5,1188.8 1939.6,1187.0 1939.7,1185.2 1939.7,1183.4 1939.8,1181.6 1939.8,1179.8 1939.9,1178.0 1939.9,1176.2 1940.0,1174.4 1940.0,1172.6 1940.1,1170.8 1940.1,1169.0 1940.2,1167.2 1940.2,1165.4 1940.3,1163.6 1940.3,1161.8 1940.4,1160.0 1940.4,1158.2 1940.5,1156.4 1940.6,1154.6 1940.6,1152.8 1940.7,1151.0 1940.7,1149.2 1940.8,1147.4 1940.9,1145.6 1940.9,1143.8 1941.0,1142.0 1941.0,1140.2 1941.1,1138.4 1941.2,1136.6 1941.2,1134.8 1941.3,1133.0 1941.3,1131.2 1941.4,1129.4 1941.5,1127.6 1941.5,1125.8 1941.6,1124.0 1941.6,1122.2 1941.7,1120.4 1941.7,1118.6 1941.8,1116.8 1941.9,1115.0 1941.9,1113.2 1942.0,1111.4 1942.0,1109.6 1942.1,1107.8 1942.2,1106.0 1942.2,1104.2 1942.3,1102.4 1942.3,1100.6 1942.4,1098.8 1942.4,1097.0 1942.5,1095.2 1942.6,1093.4 1942.6,1091.6 1942.7,1089.8 1942.7,1088.0 1942.8,1086.2 1942.9,1084.4 1942.9,1082.6 1943.0,1080.8 1943.0,1079.0 1943.1,1077.2 1943.1,1075.4 1943.2,1073.6 1943.3,1071.8 1943.3,1070.0 1943.4,1068.2 1943.4,1066.4 1943.5,1064.6 1943.6,1062.8 1943.6,1061.0 1943.7,1059.2 1943.7,1057.4 1943.8,1055.6 1943.8,1053.8 1943.9,1052.0 1943.9,1050.2 1944.0,1048.4 1944.1,1046.6 1944.1,1044.8 1944.2,1043.0 1944.2,1041.2 1944.3,1039.4 1944.3,1037.6 1944.4,1035.8 1944.4,1034.0 1944.5,1032.2 1944.5,1030.4 1944.6,1028.6 1944.6,1026.8 1944.7,1025.0 1944.7,1023.2 1944.8,1021.4 1944.8,1019.6 1944.9,1017.8 1944.9,1016.0 1945.0,1014.2 1945.0,1012.4 1945.0,1010.6 1945.1,1008.8 1945.1,1007.0 1945.2,1005.2 1945.2,1003.4 1945.2,1001.6 1945.3,999.8 1945.3,998.0 1945.4,996.2 1945.4,994.4 1945.4,992.6 1945.5,990.8 1945.5,989.0 1945.5,987.2 1945.6,985.4 1945.6,983.6 1945.6,981.8 1945.7,980.0 1945.7,978.2 1945.7,976.4 1945.8,974.6 1945.8,972.8 1945.8,971.0 1945.9,969.2 1945.9,967.4 1945.9,965.6 1945.9,963.8 1946.0,962.0 1946.0,960.2 1946.0,958.4 1946.1,956.6 1946.1,954.8 1946.1,953.0 1946.2,951.2 1946.2,949.4 1946.2,947.6 1946.3,945.8 1946.3,944.0 1946.4,942.2 1946.4,940.4 1946.4,938.6 1946.5,936.8 1946.5,935.0 1946.5,933.2 1946.6,931.4 1946.6,929.6 1946.7,927.8 1946.7,926.0 1946.7,924.2 1946.8,922.4 1946.8,920.6 1946.9,918.8 1946.9,917.0 1947.0,915.2 1947.0,913.4 1947.1,911.6 1947.2,909.8 1947.2,908.0 1947.3,906.2 1947.3,904.4 1947.4,902.6 1947.5,900.8 1947.5,899.0 1947.6,897.2 1947.6,895.4 1947.7,893.6 1947.8,891.8 1947.8,890.0 1947.9,888.2 1948.0,886.4 1948.0,884.6 1948.1,882.8 1948.1,881.0 1948.2,879.2 1948.3,877.4 1948.3,875.6 1948.4,873.8 1948.4,872.0 1948.5,870.2 1948.6,868.4 1948.6,866.6 1948.7,864.8 1948.7,863.0 1948.8,861.2 1948.8,859.4 1948.9,857.6 1948.9,855.8 1949.0,854.0 1949.0,852.2 1949.1,850.4 1949.1,848.6 1949.2,846.8 1949.2,845.0 1949.2,843.2 1949.3,841.4 1949.3,839.6 1949.3,837.8 1949.4,836.0 1949.4,834.2 1949.4,832.4 1949.5,830.6 1949.5,828.8 1949.5,827.0 1949.5,825.2 1949.5,823.4 1949.6,821.6 1949.6,819.8 1949.6,818.0 1949.6,816.2 1949.7,814.4 1949.7,812.6 1949.7,810.8 1949.7,809.0 1949.7,807.2 1949.8,805.4 1949.8,803.6 1949.8,801.8 1949.8,800.0 1949.8,798.2 1949.8,796.4 1949.9,794.6 1949.9,792.8 1949.9,791.0 1949.9,789.2 1949.9,787.4 1950.0,785.6 1950.0,783.8 1950.0,782.0 1950.0,780.2 1950.1,778.4 1950.1,776.6 1950.1,774.8 1950.1,773.0 1950.2,771.2 1950.2,769.4 1950.2,767.6 1950.3,765.8 1950.3,764.0 1950.3,762.2 1950.4,760.4 1950.4,758.6 1950.5,756.8 1950.5,755.0 1950.5,753.2 1950.6,751.4 1950.6,749.6 1950.7,747.8 1950.7,746.0 1950.8,744.2 1950.8,742.4 1950.9,740.6 1950.9,738.8 1951.0,737.0 1951.0,735.2 1951.1,733.4 1951.1,731.6 1951.2,729.8 1951.2,728.0 1951.3,726.2 1951.3,724.4 1951.4,722.6 1951.4,720.8 1951.5,719.0 1951.5,717.2 1951.6,715.4 1951.6,713.6 1951.7,711.8 1951.7,710.0 1951.8,708.2 1951.8,706.4 1951.8,704.6 1951.9,702.8 1951.9,701.0 1952.0,699.2 1952.0,697.4 1952.1,695.6 1952.1,693.8 1952.2,692.0 1952.2,690.2 1952.3,688.4 1952.3,686.6 1952.3,684.8 1952.4,683.0 1952.4,681.2 1952.5,679.4 1952.5,677.6 1952.6,675.8 1952.6,674.0 1952.7,672.2 1952.7,670.4 1952.8,668.6 1952.8,666.8 1952.8,665.0 1952.9,663.2 1952.9,661.4 1953.0,659.6 1953.0,657.8 1953.1,656.0 1953.1,654.2 1953.2,652.4 1953.2,650.6 1953.3,648.8 1953.3,647.0 1953.3,645.2 1953.4,643.3 1953.4,641.5 1953.5,639.7 1953.5,637.9 1953.6,636.1 1953.6,634.3 1953.7,632.5 1953.7,630.7 1953.8,628.9 1953.8,627.1 1953.8,625.3 1953.9,623.5 1953.9,621.7 1954.0,619.9 1954.0,618.1 1954.1,616.3 1954.1,614.5 1954.1,612.7 1954.2,610.9 1954.2,609.1 1954.3,607.3 1954.3,605.5 1954.4,603.7 1954.4,601.9 1954.4,600.1 1954.5,598.3 1954.5,596.5 1954.6,594.7 1954.6,592.9 1954.7,591.1 1954.7,589.3 1954.8,587.5 1954.8,585.7 1954.8,583.9 1954.9,582.1 1954.9,580.3 1955.0,578.5 1955.0,576.7 1955.1,574.9 1955.1,573.1 1955.2,571.3 1955.2,569.5 1955.3,567.7 1955.4,565.9 1955.4,564.1 1955.5,562.3 1955.5,560.5 1955.6,558.7 1955.6,556.9 1955.7,555.1 1955.7,553.3 1955.8,551.5 1955.9,549.7 1955.9,547.9 1956.0,546.1 1956.0,544.3 1956.1,542.5 1956.2,540.7 1956.2,538.9 1956.3,537.1 1956.3,535.3 1956.4,533.5 1956.5,531.7 1956.5,529.9 1956.6,528.1 1956.7,526.3 1956.7,524.5 1956.8,522.7 1956.9,520.9 1957.0,519.1 1957.0,517.3 1957.1,515.5 1957.2,513.7 1957.3,511.9 1957.3,510.1 1957.4,508.3 1957.5,506.5 1957.6,504.7 1957.7,502.9 1957.8,501.2 1957.9,499.4 1957.9,497.6 1958.0,495.8 1958.1,494.0 1958.2,492.2 1958.3,490.4 1958.4,488.6 1958.6,486.8 1958.7,485.0 1958.8,483.2 1958.9,481.4 1959.1,479.6 1959.2,477.8 1959.4,476.0 1959.6,474.1 1959.8,471.9 1960.1,469.6 1960.4,467.4 1960.8,465.6 1961.1,463.6 1961.4,463.6 1961.7,465.7 1962.0,467.5 1962.3,469.8 1962.6,472.1 1962.8,474.3 1963.0,476.1 1963.2,477.9 1963.3,479.7 1963.4,481.5 1963.6,483.3 1963.7,485.1 1963.8,486.9 1963.9,488.7 1964.0,490.5 1964.1,492.3 1964.2,494.1 1964.3,495.9 1964.4,497.7 1964.5,499.5 1964.5,501.3 1964.6,503.1 1964.7,504.9 1964.8,506.7 1964.9,508.5 1965.0,510.3 1965.1,512.1 1965.1,513.9 1965.2,515.7 1965.3,517.5 1965.4,519.3 1965.4,521.1 1965.5,522.9 1965.6,524.7 1965.7,526.5 1965.7,528.3 1965.8,530.1 1965.9,531.9 1966.0,533.7 1966.0,535.5 1966.1,537.3 1966.2,539.1 1966.2,540.9 1966.3,542.7 1966.3,544.5 1966.4,546.3 1966.5,548.1 1966.5,549.9 1966.6,551.7 1966.7,553.5 1966.7,555.3 1966.8,557.1 1966.8,558.9 1966.9,560.7 1966.9,562.5 1967.0,564.3 1967.0,566.1 1967.1,567.9 1967.2,569.7 1967.2,571.5 1967.3,573.3 1967.3,575.1 1967.4,576.9 1967.4,578.7 1967.4,580.5 1967.5,582.3 1967.5,584.1 1967.6,585.9 1967.6,587.7 1967.7,589.5 1967.7,591.3 1967.8,593.1 1967.8,594.9 1967.8,596.7 1967.9,598.5 1967.9,600.3 1968.0,602.1 1968.0,603.9 1968.0,605.7 1968.1,607.5 1968.1,609.3 1968.2,611.1 1968.2,612.9 1968.2,614.7 1968.3,616.5 1968.3,618.3 1968.4,620.1 1968.4,621.9 1968.4,623.7 1968.5,625.5 1968.5,627.3 1968.6,629.1 1968.6,630.9 1968.6,632.7 1968.7,634.5 1968.7,636.3 1968.8,638.1 1968.8,639.9 1968.9,641.7 1968.9,643.5 1969.0,645.3 1969.0,647.1 1969.0,648.9 1969.1,650.7 1969.1,652.5 1969.2,654.3 1969.2,656.1 1969.3,657.9 1969.3,659.7 1969.4,661.5 1969.4,663.3 1969.5,665.1 1969.5,666.9 1969.5,668.7 1969.6,670.5 1969.6,672.3 1969.7,674.1 1969.7,675.9 1969.8,677.7 1969.8,679.5 1969.9,681.3 1969.9,683.1 1970.0,684.9 1970.0,686.7 1970.0,688.5 1970.1,690.3 1970.1,692.1 1970.2,693.9 1970.2,695.7 1970.3,697.5 1970.3,699.3 1970.4,701.1 1970.4,702.9 1970.5,704.7 1970.5,706.5 1970.6,708.3 1970.6,710.1 1970.7,711.9 1970.7,713.7 1970.8,715.5 1970.8,717.3 1970.9,719.1 1970.9,720.9 1971.0,722.7 1971.0,724.5 1971.1,726.3 1971.1,728.1 1971.2,729.9 1971.2,731.7 1971.3,733.5 1971.3,735.3 1971.4,737.1 1971.4,738.9 1971.5,740.7 1971.5,742.5 1971.6,744.3 1971.6,746.1 1971.7,747.9 1971.7,749.7 1971.7,751.5 1971.8,753.3 1971.8,755.1 1971.9,756.9 1971.9,758.7 1971.9,760.5 1972.0,762.3 1972.0,764.1 1972.0,765.9 1972.1,767.7 1972.1,769.5 1972.1,771.3 1972.1,773.1 1972.2,774.9 1972.2,776.7 1972.2,778.5 1972.2,780.3 1972.3,782.1 1972.3,783.9 1972.3,785.7 1972.3,787.5 1972.3,789.3 1972.3,791.1 1972.4,792.9 1972.4,794.7 1972.4,796.5 1972.4,798.3 1972.4,800.1 1972.4,801.9 1972.4,803.7 1972.5,805.5 1972.5,807.3 1972.5,809.1 1972.5,810.9 1972.5,812.7 1972.5,814.5 1972.5,816.3 1972.6,818.1 1972.6,819.9 1972.6,821.7 1972.6,823.5 1972.6,825.3 1972.6,827.1 1972.7,828.9 1972.7,830.7 1972.7,832.5 1972.7,834.3 1972.7,836.1 1972.8,837.9 1972.8,839.7 1972.8,841.5 1972.9,843.3 1972.9,845.1 1972.9,847.0 1973.0,848.8 1973.0,850.6 1973.0,852.4 1973.1,854.2 1973.1,856.0 1973.2,857.8 1973.2,859.6 1973.3,861.4 1973.3,863.2 1973.4,865.0 1973.4,866.8 1973.5,868.6 1973.5,870.4 1973.6,872.2 1973.6,874.0 1973.7,875.8 1973.7,877.6 1973.8,879.4 1973.8,881.2 1973.9,883.0 1974.0,884.8 1974.0,886.6 1974.1,888.4 1974.1,890.2 1974.2,892.0 1974.3,893.8 1974.3,895.6 1974.4,897.4 1974.4,899.2 1974.5,901.0 1974.5,902.8 1974.6,904.6 1974.7,906.4 1974.7,908.2 1974.8,910.0 1974.8,911.8 1974.9,913.6 1974.9,915.4 1975.0,917.2 1975.0,919.0 1975.1,920.8 1975.1,922.6 1975.2,924.4 1975.2,926.2 1975.2,928.0 1975.3,929.8 1975.3,931.6 1975.4,933.4 1975.4,935.2 1975.4,937.0 1975.5,938.8 1975.5,940.6 1975.5,942.4 1975.6,944.2 1975.6,946.0 1975.6,947.8 1975.7,949.6 1975.7,951.4 1975.8,953.2 1975.8,955.0 1975.8,956.8 1975.8,958.6 1975.9,960.4 1975.9,962.2 1975.9,964.0 1976.0,965.8 1976.0,967.6 1976.0,969.4 1976.1,971.2 1976.1,973.0 1976.1,974.8 1976.2,976.6 1976.2,978.4 1976.2,980.2 1976.3,982.0 1976.3,983.8 1976.3,985.6 1976.4,987.4 1976.4,989.2 1976.4,991.0 1976.5,992.8 1976.5,994.6 1976.5,996.4 1976.6,998.2 1976.6,1000.0 1976.7,1001.8 1976.7,1003.6 1976.7,1005.4 1976.8,1007.2 1976.8,1009.0 1976.9,1010.8 1976.9,1012.6 1976.9,1014.4 1977.0,1016.2 1977.0,1018.0 1977.1,1019.8 1977.1,1021.6 1977.2,1023.4 1977.2,1025.2 1977.3,1027.0 1977.3,1028.8 1977.4,1030.6 1977.4,1032.4 1977.5,1034.2 1977.5,1036.0 1977.6,1037.8 1977.6,1039.6 1977.7,1041.4 1977.7,1043.2 1977.8,1045.0 1977.8,1046.8 1977.9,1048.6 1977.9,1050.4 1978.0,1052.2 1978.0,1054.0 1978.1,1055.8 1978.2,1057.6 1978.2,1059.4 1978.3,1061.2 1978.3,1063.0 1978.4,1064.8 1978.4,1066.6 1978.5,1068.4 1978.5,1070.2 1978.6,1072.0 1978.7,1073.8 1978.7,1075.6 1978.8,1077.4 1978.8,1079.2 1978.9,1081.0 1979.0,1082.8 1979.0,1084.6 1979.1,1086.4 1979.1,1088.2 1979.2,1090.0 1979.3,1091.8 1979.3,1093.6 1979.4,1095.4 1979.5,1097.2 1979.5,1099.0 1979.6,1100.8 1979.6,1102.6 1979.7,1104.4 1979.8,1106.2 1979.8,1108.0 1979.9,1109.8 1980.0,1111.6 1980.0,1113.4 1980.1,1115.2 1980.2,1117.0 1980.2,1118.8 1980.3,1120.6 1980.4,1122.4 1980.4,1124.2 1980.5,1126.0 1980.6,1127.8 1980.7,1129.6 1980.7,1131.4 1980.8,1133.2 1980.9,1135.0 1981.0,1136.8 1981.0,1138.6 1981.1,1140.4 1981.2,1142.2 1981.3,1144.0 1981.3,1145.8 1981.4,1147.6 1981.5,1149.4 1981.5,1151.2 1981.6,1153.0 1981.7,1154.8 1981.8,1156.6 1981.8,1158.4 1981.9,1160.2 1982.0,1162.0 1982.0,1163.8 1982.1,1165.6 1982.2,1167.4 1982.3,1169.2 1982.3,1171.0 1982.4,1172.8 1982.5,1174.6 1982.6,1176.4 1982.6,1178.2 1982.7,1180.0 1982.8,1181.8 1982.9,1183.6 1983.0,1185.4 1983.1,1187.2 1983.2,1189.0 1983.3,1190.8 1983.4,1192.5 1983.5,1194.3 1983.6,1196.1 1983.7,1197.9 1983.8,1199.7 1983.9,1201.5 1984.1,1203.3 1984.2,1205.1 1984.3,1206.9 1984.5,1208.7 1984.6,1210.5 1984.8,1212.3 1985.0,1214.1 1985.1,1215.9 1985.3,1217.7 1985.5,1219.5 1985.6,1221.3 1985.8,1223.1 1986.0,1224.9 1986.2,1226.6 1986.3,1228.4 1986.5,1230.2 1986.7,1232.0 1986.9,1233.8 1987.1,1235.6 1987.3,1237.4 1987.5,1239.2 1987.8,1241.0 1988.0,1242.7 1988.2,1244.5 1988.4,1246.3 1988.7,1248.1 1988.9,1249.9 1989.1,1251.7 1989.4,1253.5 1989.6,1255.3 1989.8,1257.0 1990.1,1258.8 1990.3,1260.6 1990.6,1262.4 1990.8,1264.2 1991.0,1266.0 1991.3,1267.8 1991.5,1269.5 1991.7,1271.3 1992.0,1273.1 1992.2,1274.9 1992.4,1276.7 1992.7,1278.5 1992.9,1280.2 1993.2,1282.0 1993.4,1283.8 1993.7,1285.6 1994.0,1287.4 1994.2,1289.2 1994.5,1291.0 1994.7,1292.7 1995.0,1294.5 1995.2,1296.3 1995.5,1298.1 1995.7,1299.9 1995.9,1301.7 1996.2,1303.4 1996.4,1305.2 1996.6,1307.0 1996.7,1308.8 1996.9,1310.6 1997.1,1312.4 1997.2,1314.2 1997.4,1316.0 1997.5,1317.8 1997.7,1319.6 1997.8,1321.4 1998.0,1323.2 1998.1,1324.9 1998.2,1326.7 1998.4,1328.5 1998.5,1330.3 1998.6,1332.1 1998.7,1333.9 1998.9,1335.7 1999.0,1337.5 1999.1,1339.3 1999.2,1341.1 1999.4,1342.9 1999.5,1344.7 1999.6,1346.5 1999.7,1348.3 1999.8,1350.1 2000.0,1351.9 2000.1,1353.7 2000.2,1355.5 2000.4,1357.3 2000.5,1359.1 2000.6,1360.9 2000.8,1362.7 2000.9,1364.5 2001.0,1366.3 2001.2,1368.1 2001.3,1369.9 2001.5,1371.7 2001.6,1373.5 2001.8,1375.3 2001.9,1377.0 2002.0,1378.8 2002.2,1380.6 2002.3,1382.4 2002.4,1384.2 2002.6,1386.0 2002.7,1387.8 2002.8,1389.6 2003.0,1391.4 2003.1,1393.2 2003.2,1395.0 2003.4,1396.8 2003.5,1398.6 2003.6,1400.4 2003.7,1402.2 2003.8,1404.0 2003.9,1405.8 2004.1,1407.6 2004.2,1409.4 2004.3,1411.2 2004.4,1413.0 2004.5,1414.8 2004.6,1416.6 2004.7,1418.4 2004.8,1420.2 2004.9,1422.0 2005.0,1423.8 2005.1,1425.6 2005.2,1427.4 2005.3,1429.2 2005.3,1431.0 2005.4,1432.8 2005.5,1434.6 2005.6,1436.4 2005.7,1438.2 2005.8,1440.0 2005.9,1441.8 2006.0,1443.6 2006.1,1445.3 2006.2,1447.1 2006.3,1448.9 2006.3,1450.7 2006.4,1452.5 2006.5,1454.3 2006.6,1456.1 2006.7,1457.9 2006.8,1459.7 2006.9,1461.5 2007.0,1463.3 2007.1,1465.1 2007.1,1466.9 2007.2,1468.7 2007.3,1470.5 2007.4,1472.3 2007.5,1474.1 2007.6,1475.9 2007.6,1477.7 2007.7,1479.5 2007.8,1481.3 2007.9,1483.1 2008.0,1484.9 2008.0,1486.7 2008.1,1488.5 2008.2,1490.3 2008.3,1492.1 2008.4,1493.9 2008.4,1495.7 2008.5,1497.5 2008.6,1499.3 2008.7,1501.1 2008.8,1502.9 2008.9,1504.7 2009.0,1506.5 2009.0,1508.3 2009.1,1510.1 2009.2,1511.9 2009.3,1513.7 2009.4,1515.5 2009.5,1517.3 2009.6,1519.1 2009.7,1520.9 2009.8,1522.7 2009.9,1524.5 2010.0,1526.3 2010.1,1528.1 2010.2,1529.9 2010.3,1531.7 2010.4,1533.5 2010.5,1535.3 2010.6,1537.1 2010.8,1538.9 2010.9,1540.7 2011.0,1542.5 2011.1,1544.3 2011.2,1546.1 2011.3,1547.9 2011.4,1549.7 2011.5,1551.5 2011.6,1553.3 2011.7,1555.1 2011.9,1556.9 2012.0,1558.7 2012.1,1560.5 2012.2,1562.2 2012.3,1564.0 2012.4,1565.8 2012.6,1567.6 2012.7,1569.4 2012.8,1571.2 2012.9,1573.0 2013.0,1574.8 2013.2,1576.6 2013.3,1578.4 2013.4,1580.2 2013.5,1582.0 2013.7,1583.8 2013.8,1585.6 2013.9,1587.4 2014.1,1589.2 2014.2,1591.0 2014.3,1592.8 2014.5,1594.6 2014.6,1596.4 2014.7,1598.2 2014.9,1600.0 2015.0,1601.8 2015.1,1603.6 2015.3,1605.4 2015.4,1607.2 2015.6,1609.0 2015.7,1610.7 2015.8,1612.5 2016.0,1614.3 2016.1,1616.1 2016.3,1617.9 2016.4,1619.7 2016.6,1621.5 2016.7,1623.3 2016.9,1625.1 2017.0,1626.9 2017.2,1628.7 2017.3,1630.5 2017.5,1632.3 2017.6,1634.1 2017.8,1635.9 2018.0,1637.7 2018.1,1639.5 2018.3,1641.3 2018.5,1643.1 2018.6,1644.9 2018.8,1646.7 2019.0,1648.5 2019.2,1650.2 2019.3,1652.0 2019.5,1653.8 2019.7,1655.6 2019.9,1657.4 2020.1,1659.2 2020.3,1661.0 2020.5,1662.8 2020.7,1664.6 2020.9,1666.4 2021.1,1668.2 2021.3,1669.9 2021.5,1671.7 2021.7,1673.5 2022.0,1675.3 2022.2,1677.1 2022.4,1678.9 2022.7,1680.6 2022.9,1682.4 2023.2,1684.2 2023.4,1686.0 2023.7,1687.8 2024.0,1689.5 2024.3,1691.3 2024.6,1693.1 2024.9,1694.9 2025.2,1696.7 2025.5,1698.5 2025.8,1700.2 2026.1,1702.0 2026.5,1703.8 2026.8,1705.6 2027.2,1707.3 2027.5,1709.1 2027.9,1710.9 2028.3,1712.7 2028.7,1714.4 2029.1,1716.2 2029.5,1717.9 2029.9,1719.7 2030.3,1721.4 2030.7,1723.2 2031.2,1724.9 2031.6,1726.6 2032.1,1728.4 2032.6,1730.1 2033.0,1731.8 2033.6,1733.5 2034.1,1735.2 2034.7,1737.0 2035.3,1738.8 2035.9,1740.6 2036.5,1742.4 2037.2,1744.2 2037.9,1746.0 2038.6,1747.6 2039.3,1749.3 2040.0,1750.9 2040.7,1752.5 2041.5,1753.9 2042.2,1755.2 2042.9,1756.6 2043.7,1757.9 2044.4,1759.6 2045.2,1761.6 2045.9,1763.6 2046.7,1765.6 2047.4,1767.3 2048.1,1768.8 2048.9,1770.3 2049.7,1771.8 2050.4,1773.6 2051.2,1775.5 2052.0,1777.5 2052.8,1779.5 2053.6,1781.0 2054.4,1782.3 2055.2,1783.5 2056.1,1784.7 2056.9,1786.5 2057.8,1788.2 2058.7,1789.9 2059.6,1791.4 2060.4,1793.0 2061.3,1794.5 2062.2,1796.2 2063.1,1798.3 2064.1,1800.4 2065.0,1802.6 2066.0,1803.6 2067.1,1804.5 2068.2,1805.2 2069.3,1806.2 2070.5,1807.1 2071.9,1808.2 2073.5,1809.7 2075.2,1810.2 2076.8,1810.3 2078.5,1811.6 2079.9,1813.1 2081.2,1814.2 2082.3,1815.6 2083.4,1817.3 2084.3,1819.3 2085.2,1821.4 2086.2,1823.4 2087.1,1825.9 2088.1,1828.5 2089.2,1830.2 2090.5,1829.0 2091.9,1827.2 2093.5,1827.4 2095.2,1827.7 2097.1,1827.5 2099.0,1827.9 2101.0,1828.8 2102.9,1826.9 2104.7,1825.9 2106.6,1826.5 2108.5,1827.5 2110.4,1828.7 2112.3,1829.8 2114.0,1830.1 2115.4,1829.8 2116.5,1829.1 2117.4,1827.7 2118.3,1826.1 2119.1,1824.1 2119.9,1821.9 2120.9,1819.6 2121.9,1817.7 2123.1,1817.0 2124.4,1816.4 2125.8,1815.7 2127.3,1815.1 2128.8,1813.6 2130.2,1811.6 2131.7,1810.2 2133.1,1809.7 2134.4,1809.7 2135.8,1810.5 2137.2,1811.7 2138.6,1812.1 2139.8,1813.0 2141.0,1814.9 2142.0,1816.8 2142.9,1818.6 2143.7,1820.2 2144.5,1821.9 2145.2,1823.7 2145.8,1825.4 2146.5,1827.2 2147.1,1828.9 2147.8,1830.7 2148.4,1832.4 2149.1,1834.1 2149.7,1835.8 2150.3,1837.4 2150.9,1839.1 2151.5,1840.8 2152.1,1842.5 2152.7,1844.1 2153.4,1845.7 2154.0,1847.1 2154.7,1848.6 2155.4,1850.4 2156.1,1852.4 2156.9,1854.4 2157.6,1856.6 2158.4,1858.6 2159.2,1860.6 2160.0,1862.5 2160.9,1864.5 2161.9,1865.3 2163.0,1865.8 2164.1,1866.2 2165.4,1868.0 2166.8,1869.8 2168.3,1871.0 2169.8,1872.0 2171.4,1873.2 2173.0,1874.2 2174.6,1872.4 2176.4,1871.7 2178.3,1875.1 2180.2,1875.2 2182.0,1873.3 2183.9,1875.3 2185.6,1876.2 2187.2,1875.5 2188.7,1875.4 2190.2,1876.1 2191.5,1877.2 2192.8,1879.0 2194.1,1880.8 2195.3,1883.1 2196.6,1885.4 2197.9,1886.5 2199.2,1886.5 2200.5,1886.9 2202.0,1888.0 2203.5,1888.5 2205.1,1888.4 2206.8,1887.8 2208.6,1886.5 2210.5,1888.9 2212.4,1891.2 2214.3,1890.5 2216.2,1889.8 2218.0,1889.2 2219.7,1890.3 2221.3,1891.0 2222.8,1889.8 2224.3,1889.3 2225.7,1891.2 2227.1,1893.3 2228.5,1896.1 2229.9,1898.9 2231.4,1899.7 2232.9,1900.3 2234.4,1898.6 2236.0,1896.5 2237.7,1896.4 2239.5,1897.0 2241.2,1900.0 2242.9,1902.6 2244.4,1904.6 2246.0,1904.1 2247.4,1901.8 2248.8,1899.9 2250.2,1898.4 2251.6,1897.2 2252.9,1896.6 2254.3,1896.1 2255.7,1895.1 2257.1,1894.9 2258.4,1897.2 2259.8,1899.6 2261.2,1901.8 2262.6,1903.7 2264.1,1904.5 2265.6,1904.4 2267.2,1904.2 2269.0,1904.2 2270.7,1903.2 2272.5,1902.8 2274.4,1904.0 2276.2,1903.7 2278.1,1902.9 2280.0,1904.7 2281.9,1906.3 2283.7,1907.7 2285.5,1905.0 2287.3,1902.1 2289.1,1900.8 2290.8,1901.1 2292.6,1903.2 2294.4,1904.6 2296.1,1905.8 2297.9,1906.9 2299.6,1907.9 2301.4,1908.3 2303.2,1907.6 2304.9,1906.1 2306.7,1906.4 2308.5,1907.3 2310.2,1909.7 2312.0,1909.7 2313.8,1907.7 2315.5,1909.6 2317.3,1911.6 2319.0,1910.7 2320.8,1910.8 2322.6,1912.1 2324.3,1912.6 2326.1,1912.8 2327.9,1913.2 2329.7,1913.5 2331.5,1913.8 2333.2,1912.8 2335.0,1911.2 2336.8,1912.7 2338.6,1913.7 2340.4,1913.6 2342.2,1913.9 2344.0,1914.3"/>
<polyline stroke="#000000" points="559.0,2787.8 562.0,2793.1 565.0,2813.3 568.0,2802.3 571.0,2776.9 574.0,2794.9 577.0,2788.1 580.0,2796.6 583.0,2777.3 586.0,2799.3 589.0,2797.6 592.0,2822.7 595.0,2798.5 598.0,2800.6 601.0,2778.6 604.0,2819.8 607.0,2773.8 610.0,2807.0 613.0,2791.1 616.0,2784.9 619.0,2787.2 622.0,2786.9 625.0,2798.3 628.0,2792.7 631.0,2810.0 634.0,2773.3 637.0,2793.2 640.0,2783.2 643.0,2801.2 646.0,2769.0 649.0,2787.9 652.0,2793.4 655.0,2774.1 658.0,2800.5 661.0,2790.9 664.0,2799.2 667.0,2798.0 670.0,2776.0 673.0,2777.3 676.0,2783.3 679.0,2793.3 682.0,2794.2 685.0,2776.7 688.0,2777.7 691.0,2775.4 694.0,2777.6 697.0,2781.2 700.0,2782.1 703.0,2805.8 706.0,2776.7 709.0,2776.9 712.0,2782.0 715.0,2763.0 718.0,2766.2 721.0,2768.1 724.0,2775.5 727.0,2752.7 730.0,2782.7 733.0,2762.0 736.0,2770.7 739.0,2778.7 742.0,2777.1 745.0,2781.7 748.0,2771.4 751.0,2768.0 754.0,2769.8 757.0,2753.4 760.0,2775.7 763.0,2752.2 766.0,2745.9 769.0,2781.7 772.0,2757.0 775.0,2745.0 778.0,2777.9 781.0,2751.2 784.0,2768.1 787.0,2746.6 790.0,2752.1 793.0,2735.3 796.0,2719.2 799.0,2741.0 802.0,2750.0 805.0,2758.9 808.0,2776.4 811.0,2737.9 814.0,2760.0 817.0,2741.9 820.0,2746.6 823.0,2731.8 826.0,2731.7 829.0,2739.6 832.0,2735.7 835.0,2749.8 838.0,2743.5 841.0,2766.6 844.0,2756.1 847.0,2757.8 850.0,2770.4 853.0,2766.0 856.0,2762.6 859.0,2764.6 862.0,2766.5 865.0,2788.4 868.0,2778.6 871.0,2772.2 874.0,2772.5 877.0,2752.2 880.0,2758.6 883.0,2732.1 886.0,2756.4 889.0,2751.2 892.0,2781.4 895.0,2810.0 898.0,2818.5 901.0,2801.3 904.0,2781.1 907.0,2762.9 910.0,2746.4 913.0,2735.8 916.0,2716.3 919.0,2726.8 922.0,2713.2 925.0,2722.9 928.0,2739.7 931.0,2748.2 934.0,2759.6 937.0,2774.7 940.0,2779.3 943.0,2783.3 946.0,2766.2 949.0,2769.0 952.0,2781.4 955.0,2790.4 958.0,2801.6 961.0,2783.1 964.0,2756.0 967.0,2738.0 970.0,2722.7 973.0,2745.9 976.0,2762.7 979.0,2743.7 982.0,2765.7 985.0,2763.7 988.0,2754.0 991.0,2753.7 994.0,2753.7 997.0,2744.5 1000.0,2748.7 1003.0,2750.1 1006.0,2755.5 1009.0,2757.6 1012.0,2753.9 1015.0,2772.3 1018.0,2771.0 1021.0,2778.1 1024.0,2776.6 1027.0,2764.9 1030.0,2755.1 1033.0,2752.8 1036.0,2747.1 1039.0,2756.1 1042.0,2767.2 1045.0,2781.5 1048.0,2769.4 1051.0,2778.1 1054.0,2758.4 1057.0,2725.1 1060.0,2746.4 1063.0,2768.8 1066.0,2761.4 1069.0,2766.0 1072.0,2767.7 1075.0,2789.6 1078.0,2785.4 1081.0,2778.8 1084.0,2771.5 1087.0,2774.9 1090.0,2764.4 1093.0,2742.6 1096.0,2758.8 1099.0,2754.1 1102.0,2753.2 1105.0,2763.1 1108.0,2759.0 1111.0,2735.3 1114.0,2776.7 1117.0,2773.6 1120.0,2764.7 1123.0,2763.7 1126.0,2770.2 1129.0,2758.1 1132.0,2773.3 1135.0,2770.0 1138.0,2770.5 1141.0,2767.6 1144.0,2772.2 1147.0,2790.5 1150.0,2794.9 1153.0,2789.4 1156.0,2785.5 1159.0,2777.7 1162.0,2789.2 1165.0,2793.3 1168.0,2760.7 1171.0,2781.4 1174.0,2749.5 1177.0,2765.1 1180.0,2773.0 1183.0,2760.3 1186.0,2762.4 1189.0,2782.1 1192.0,2792.6 1195.0,2783.0 1198.0,2802.7 1201.0,2782.2 1204.0,2807.8 1207.0,2791.2 1210.0,2792.5 1213.0,2796.5 1216.0,2793.5 1219.0,2810.2 1222.0,2814.3 1225.0,2796.0 1228.0,2788.2 1231.0,2777.1 1234.0,2781.7 1237.0,2790.1 1240.0,2788.9 1243.0,2789.5 1246.0,2790.1 1249.0,2795.5 1252.0,2775.1 1255.0,2778.7 1258.0,2802.3 1261.0,2799.2 1264.0,2784.1 1267.0,2804.2 1270.0,2782.6 1273.0,2787.2 1276.0,2769.9 1279.0,2799.3 1282.0,2789.9 1285.0,2801.8 1288.0,2797.8 1291.0,2791.1 1294.0,2791.8 1297.0,2803.2 1300.0,2788.3 1303.0,2788.4 1306.0,2790.9 1309.0,2799.0 1312.0,2800.3 1315.0,2811.3 1318.0,2789.4 1321.0,2804.2 1324.0,2783.1 1327.0,2797.0 1330.0,2791.8 1333.0,2809.5 1336.0,2797.1 1339.0,2782.8 1342.0,2796.8 1345.0,2794.3 1348.0,2785.2 1351.0,2787.3 1354.0,2780.2 1357.0,2821.1 1360.0,2792.5 1363.0,2802.1 1366.0,2778.9 1369.0,2773.4 1372.0,2790.9 1375.0,2791.4 1378.0,2802.3 1381.0,2776.6 1384.0,2800.3 1387.0,2811.4 1390.0,2785.0 1393.0,2805.3 1396.0,2784.9 1399.0,2799.4 1402.0,2799.6 1405.0,2814.7 1408.0,2788.0 1411.0,2797.4 1414.0,2807.0 1417.0,2782.7 1420.0,2795.5 1423.0,2786.0 1426.0,2787.8 1429.0,2803.1 1432.0,2803.3 1435.0,2823.9 1438.0,2810.7 1441.0,2810.1 1444.0,2798.5 1447.0,2804.8 1450.0,2817.3 1453.0,2794.9 1456.0,2839.4 1459.0,2814.7 1462.0,2811.2 1465.0,2818.5 1468.0,2833.8 1471.0,2838.4 1474.0,2821.1 1477.0,2830.4 1480.0,2825.4 1483.0,2809.0 1486.0,2828.4 1489.0,2827.1 1492.0,2810.1 1495.0,2839.2 1498.0,2810.0 1501.0,2829.9 1504.0,2815.9 1507.0,2818.6 1510.0,2819.9 1513.0,2835.4 1516.0,2814.0 1519.0,2825.7 1522.0,2844.8 1525.0,2820.3 1528.0,2827.6 1531.0,2835.2 1534.0,2821.7 1537.0,2833.2 1540.0,2820.9 1543.0,2835.7 1546.0,2828.8 1549.0,2818.0 1552.0,2843.4 1555.0,2827.1 1558.0,2825.2 1561.0,2818.2 1564.0,2820.2 1567.0,2827.1 1570.0,2830.0 1573.0,2839.9 1576.0,2813.9 1579.0,2824.2 1582.0,2840.7 1585.0,2829.7 1588.0,2832.1 1591.0,2844.6 1594.0,2831.1 1597.0,2832.3 1600.0,2826.6 1603.0,2845.9 1606.0,2838.1 1609.0,2819.1 1612.0,2832.4 1615.0,2814.3 1618.0,2837.7 1621.0,2833.1 1624.0,2823.8 1627.0,2820.5 1630.0,2793.5 1633.0,2830.5 1636.0,2819.9 1639.0,2816.4 1642.0,2825.8 1645.0,2809.8 1648.0,2809.3 1651.0,2807.0 1654.0,2799.1 1657.0,2837.6 1660.0,2810.0 1663.0,2808.1 1666.0,2826.5 1669.0,2778.7 1672.0,2810.9 1675.0,2811.2 1678.0,2800.9 1681.0,2815.5 1684.0,2789.7 1687.0,2810.5 1690.0,2819.4 1693.0,2787.2 1696.0,2785.7 1699.0,2807.9 1702.0,2809.0 1705.0,2802.2 1708.0,2812.2 1711.0,2810.6 1714.0,2794.0 1717.0,2806.3 1720.0,2794.0 1723.0,2785.5 1726.0,2781.7 1729.0,2816.3 1732.0,2804.1 1735.0,2824.8 1738.0,2789.8 1741.0,2800.6 1744.0,2807.2 1747.0,2801.9 1750.0,2808.0 1753.0,2804.0 1756.0,2795.8 1759.0,2778.0 1762.0,2791.2 1765.0,2817.3 1768.0,2806.8 1771.0,2819.1 1774.0,2790.1 1777.0,2791.0 1780.0,2780.9 1783.0,2784.2 1786.0,2774.9 1789.0,2780.5 1792.0,2799.8 1795.0,2780.4 1798.0,2795.7 1801.0,2773.8 1804.0,2797.8 1807.0,2781.7 1810.0,2783.9 1813.0,2787.2 1816.0,2802.2 1819.0,2785.8 1822.0,2781.4 1825.0,2774.8 1828.0,2789.5 1831.0,2778.6 1834.0,2782.4 1837.0,2787.4 1840.0,2794.6 1843.0,2781.2 1846.0,2795.2 1849.0,2806.3 1852.0,2774.2 1855.0,2802.6 1858.0,2810.6 1861.0,2783.7 1864.0,2795.8 1867.0,2776.3 1870.0,2793.5 1873.0,2787.1 1876.0,2793.5 1879.0,2781.5 1882.0,2782.5 1885.0,2786.3 1888.0,2783.7 1891.0,2784.6 1894.0,2788.3 1897.0,2778.8 1900.0,2787.7 1903.0,2793.5 1906.0,2766.3 1909.0,2795.9 1912.0,2800.1 1915.0,2809.9 1918.0,2822.5 1921.0,2837.0 1924.0,2854.1 1927.0,2868.9 1930.0,2858.9 1933.0,2852.9 1936.0,2828.3 1939.0,2834.1 1942.0,2841.7 1945.0,2844.9 1948.0,2868.2 1951.0,2864.5 1954.0,2834.1 1957.0,2801.0 1960.0,2767.6 1963.0,2731.9 1966.0,2710.1 1969.0,2744.7 1972.0,2782.7 1975.0,2803.1 1978.0,2807.3 1981.0,2821.8 1984.0,2825.6 1987.0,2844.0 1990.0,2850.6 1993.0,2867.9 1996.0,2845.0 1999.0,2822.1 2002.0,2814.8 2005.0,2810.2 2008.0,2810.9 2011.0,2802.5 2014.0,2785.0 2017.0,2777.9 2020.0,2777.8 2023.0,2761.4 2026.0,2777.3 2029.0,2770.4 2032.0,2775.2 2035.0,2774.2 2038.0,2768.0 2041.0,2779.6 2044.0,2793.4 2047.0,2795.6 2050.0,2788.4 2053.0,2793.0 2056.0,2779.3 2059.0,2773.3 2062.0,2781.2 2065.0,2784.5 2068.0,2787.3 2071.0,2799.6 2074.0,2797.7 2077.0,2804.6 2080.0,2805.3 2083.0,2804.4 2086.0,2817.5 2089.0,2816.8 2092.0,2830.5 2095.0,2821.7 2098.0,2802.1 2101.0,2792.9 2104.0,2797.5 2107.0,2807.0 2110.0,2810.7 2113.0,2801.8 2116.0,2794.9 2119.0,2800.5 2122.0,2796.6 2125.0,2791.0 2128.0,2794.6 2131.0,2793.4 2134.0,2791.1 2137.0,2804.2 2140.0,2791.5 2143.0,2791.8 2146.0,2799.7 2149.0,2790.5 2152.0,2787.5 2155.0,2789.3 2158.0,2798.0 2161.0,2797.0 2164.0,2796.2 2167.0,2790.9 2170.0,2787.6 2173.0,2799.2 2176.0,2783.3 2179.0,2791.0 2182.0,2783.2 2185.0,2788.9 2188.0,2790.2 2191.0,2799.0 2194.0,2771.6 2197.0,2799.3 2200.0,2784.3 2203.0,2791.9 2206.0,2795.1 2209.0,2784.6 2212.0,2788.9 2215.0,2792.5 2218.0,2788.3 2221.0,2784.1 2224.0,2790.1 2227.0,2789.4 2230.0,2778.7 2233.0,2797.5 2236.0,2789.9 2239.0,2772.3 2242.0,2782.8 2245.0,2799.6 2248.0,2798.7 2251.0,2790.0 2254.0,2777.1 2257.0,2786.7 2260.0,2795.2 2263.0,2790.8 2266.0,2786.0 2269.0,2783.4 2272.0,2793.7 2275.0,2786.9 2278.0,2790.4 2281.0,2791.5 2284.0,2799.1 2287.0,2789.5 2290.0,2790.0 2293.0,2776.5 2296.0,2795.6 2299.0,2794.1 2302.0,2788.1 2305.0,2772.9 2308.0,2783.7 2311.0,2787.2 2314.0,2799.6 2317.0,2788.4 2320.0,2788.4 2323.0,2786.9 2326.0,2787.9 2329.0,2766.4 2332.0,2757.2 2335.0,2749.5 2338.0,2755.6 2341.0,2756.7 2344.0,2763.8"/>
<polyline stroke="#0000ff" points="559.0,2851.0 562.0,2833.1 565.0,2855.0 568.0,2861.9 571.0,2869.4 574.0,2855.1 577.0,2845.3 580.0,2840.9 583.0,2858.5 586.0,2868.0 589.0,2849.5 592.0,2829.0 595.0,2830.7 598.0,2860.6 601.0,2841.0 604.0,2814.6 607.0,2833.1 610.0,2817.6 613.0,2822.6 616.0,2823.1 619.0,2819.4 622.0,2834.9 625.0,2827.3 628.0,2821.0 631.0,2834.0 634.0,2846.0 637.0,2809.5 640.0,2827.4 643.0,2818.9 646.0,2829.4 649.0,2815.8 652.0,2832.3 655.0,2831.5 658.0,2828.1 661.0,2818.7 664.0,2826.7 667.0,2817.9 670.0,2814.4 673.0,2833.9 676.0,2816.9 679.0,2845.1 682.0,2839.1 685.0,2804.5 688.0,2831.1 691.0,2811.4 694.0,2822.5 697.0,2819.3 700.0,2790.7 703.0,2809.9 706.0,2807.4 709.0,2820.5 712.0,2791.8 715.0,2813.9 718.0,2789.0 721.0,2796.8 724.0,2788.5 727.0,2815.1 730.0,2802.0 733.0,2823.2 736.0,2798.7 739.0,2799.1 742.0,2803.3 745.0,2772.3 748.0,2781.7 751.0,2797.8 754.0,2774.5 757.0,2780.5 760.0,2776.6 763.0,2783.2 766.0,2769.9 769.0,2771.4 772.0,2775.3 775.0,2772.6 778.0,2759.7 781.0,2787.7 784.0,2743.3 787.0,2753.9 790.0,2752.5 793.0,2780.4 796.0,2763.5 799.0,2748.3 802.0,2753.3 805.0,2772.6 808.0,2754.0 811.0,2751.2 814.0,2774.7 817.0,2752.1 820.0,2763.2 823.0,2767.6 826.0,2762.7 829.0,2768.4 832.0,2786.7 835.0,2764.4 838.0,2756.2 841.0,2750.0 844.0,2771.5 847.0,2770.6 850.0,2779.2 853.0,2770.9 856.0,2771.8 859.0,2770.3 862.0,2776.7 865.0,2792.9 868.0,2798.1 871.0,2812.3 874.0,2840.4 877.0,2829.4 880.0,2811.8 883.0,2845.7 886.0,2850.7 889.0,2864.0 892.0,2882.4 895.0,2893.5 898.0,2903.9 901.0,2915.0 904.0,2926.0 907.0,2941.1 910.0,2959.3 913.0,2951.7 916.0,2947.9 919.0,2929.7 922.0,2899.6 925.0,2872.4 928.0,2838.5 931.0,2812.5 934.0,2793.6 937.0,2778.6 940.0,2760.7 943.0,2738.5 946.0,2730.5 949.0,2740.1 952.0,2741.9 955.0,2754.5 958.0,2756.1 961.0,2760.7 964.0,2778.1 967.0,2769.7 970.0,2767.9 973.0,2776.5 976.0,2762.9 979.0,2771.5 982.0,2785.8 985.0,2787.9 988.0,2801.6 991.0,2791.4 994.0,2781.8 997.0,2820.7 1000.0,2816.1 1003.0,2797.1 1006.0,2822.8 1009.0,2810.4 1012.0,2792.7 1015.0,2807.3 1018.0,2807.1 1021.0,2828.9 1024.0,2806.1 1027.0,2813.2 1030.0,2815.3 1033.0,2816.8 1036.0,2813.6 1039.0,2826.1 1042.0,2834.8 1045.0,2830.2 1048.0,2814.7 1051.0,2812.5 1054.0,2825.2 1057.0,2816.9 1060.0,2815.0 1063.0,2802.1 1066.0,2818.4 1069.0,2804.2 1072.0,2780.9 1075.0,2797.1 1078.0,2802.1 1081.0,2766.5 1084.0,2787.2 1087.0,2791.4 1090.0,2804.1 1093.0,2798.1 1096.0,2797.7 1099.0,2799.0 1102.0,2816.9 1105.0,2818.1 1108.0,2789.1 1111.0,2782.7 1114.0,2816.6 1117.0,2777.7 1120.0,2779.9 1123.0,2784.8 1126.0,2788.8 1129.0,2795.0 1132.0,2790.5 1135.0,2780.6 1138.0,2797.7 1141.0,2798.9 1144.0,2818.9 1147.0,2803.5 1150.0,2793.3 1153.0,2798.4 1156.0,2824.4 1159.0,2804.6 1162.0,2788.8 1165.0,2803.9 1168.0,2809.4 1171.0,2820.9 1174.0,2798.5 1177.0,2814.8 1180.0,2815.4 1183.0,2798.7 1186.0,2801.6 1189.0,2819.7 1192.0,2817.1 1195.0,2805.9 1198.0,2799.0 1201.0,2807.9 1204.0,2793.4 1207.0,2793.9 1210.0,2784.8 1213.0,2795.1 1216.0,2794.0 1219.0,2829.5 1222.0,2792.6 1225.0,2810.9 1228.0,2811.5 1231.0,2791.3 1234.0,2818.4 1237.0,2767.8 1240.0,2796.2 1243.0,2805.7 1246.0,2765.0 1249.0,2780.5 1252.0,2808.2 1255.0,2791.8 1258.0,2781.3 1261.0,2790.3 1264.0,2788.2 1267.0,2804.1 1270.0,2804.1 1273.0,2791.5 1276.0,2786.7 1279.0,2793.9 1282.0,2811.6 1285.0,2799.4 1288.0,2803.0 1291.0,2793.1 1294.0,2778.9 1297.0,2786.1 1300.0,2803.1 1303.0,2796.3 1306.0,2783.7 1309.0,2774.8 1312.0,2796.4 1315.0,2790.8 1318.0,2790.6 1321.0,2790.9 1324.0,2798.5 1327.0,2798.7 1330.0,2807.0 1333.0,2806.6 1336.0,2811.7 1339.0,2805.1 1342.0,2790.8 1345.0,2794.3 1348.0,2801.2 1351.0,2791.1 1354.0,2801.8 1357.0,2809.3 1360.0,2784.8 1363.0,2772.5 1366.0,2818.3 1369.0,2794.5 1372.0,2802.9 1375.0,2777.2 1378.0,2815.3 1381.0,2802.6 1384.0,2791.6 1387.0,2788.5 1390.0,2794.1 1393.0,2790.4 1396.0,2788.8 1399.0,2778.1 1402.0,2817.2 1405.0,2791.3 1408.0,2792.6 1411.0,2792.7 1414.0,2762.0 1417.0,2798.0 1420.0,2787.2 1423.0,2787.6 1426.0,2792.0 1429.0,2778.8 1432.0,2801.3 1435.0,2781.8 1438.0,2778.9 1441.0,2778.9 1444.0,2788.1 1447.0,2782.0 1450.0,2759.8 1453.0,2733.5 1456.0,2762.7 1459.0,2734.8 1462.0,2762.1 1465.0,2745.8 1468.0,2737.2 1471.0,2737.3 1474.0,2750.4 1477.0,2754.8 1480.0,2740.2 1483.0,2753.5 1486.0,2766.7 1489.0,2737.0 1492.0,2724.3 1495.0,2724.4 1498.0,2719.2 1501.0,2727.5 1504.0,2725.4 1507.0,2716.8 1510.0,2738.9 1513.0,2698.6 1516.0,2713.6 1519.0,2753.9 1522.0,2740.6 1525.0,2733.1 1528.0,2731.0 1531.0,2746.0 1534.0,2729.4 1537.0,2722.4 1540.0,2704.8 1543.0,2717.5 1546.0,2707.5 1549.0,2705.7 1552.0,2703.5 1555.0,2709.5 1558.0,2703.8 1561.0,2716.4 1564.0,2687.6 1567.0,2700.0 1570.0,2723.4 1573.0,2700.2 1576.0,2713.3 1579.0,2711.7 1582.0,2713.0 1585.0,2705.2 1588.0,2678.9 1591.0,2692.0 1594.0,2690.4 1597.0,2676.7 1600.0,2691.7 1603.0,2685.4 1606.0,2684.4 1609.0,2711.5 1612.0,2712.5 1615.0,2709.1 1618.0,2709.1 1621.0,2716.1 1624.0,2719.2 1627.0,2720.1 1630.0,2725.2 1633.0,2718.5 1636.0,2732.5 1639.0,2735.6 1642.0,2738.7 1645.0,2728.6 1648.0,2735.6 1651.0,2753.5 1654.0,2750.1 1657.0,2756.7 1660.0,2728.5 1663.0,2725.3 1666.0,2759.7 1669.0,2757.7 1672.0,2768.1 1675.0,2758.0 1678.0,2751.9 1681.0,2746.7 1684.0,2729.3 1687.0,2756.5 1690.0,2739.7 1693.0,2753.4 1696.0,2750.9 1699.0,2752.8 1702.0,2761.2 1705.0,2746.1 1708.0,2748.2 1711.0,2743.5 1714.0,2749.5 1717.0,2773.3 1720.0,2749.8 1723.0,2767.7 1726.0,2769.3 1729.0,2762.4 1732.0,2763.3 1735.0,2742.3 1738.0,2758.3 1741.0,2783.2 1744.0,2746.0 1747.0,2753.1 1750.0,2745.8 1753.0,2758.1 1756.0,2737.6 1759.0,2765.3 1762.0,2739.1 1765.0,2722.2 1768.0,2756.6 1771.0,2744.0 1774.0,2736.3 1777.0,2734.7 1780.0,2723.9 1783.0,2725.8 1786.0,2737.6 1789.0,2741.1 1792.0,2742.9 1795.0,2736.4 1798.0,2730.7 1801.0,2736.4 1804.0,2753.7 1807.0,2759.7 1810.0,2741.2 1813.0,2740.4 1816.0,2760.5 1819.0,2755.1 1822.0,2755.2 1825.0,2733.0 1828.0,2743.9 1831.0,2742.7 1834.0,2751.2 1837.0,2730.4 1840.0,2764.3 1843.0,2754.1 1846.0,2756.5 1849.0,2739.2 1852.0,2753.3 1855.0,2769.6 1858.0,2738.1 1861.0,2760.3 1864.0,2765.8 1867.0,2751.2 1870.0,2769.2 1873.0,2757.1 1876.0,2775.4 1879.0,2768.1 1882.0,2765.3 1885.0,2786.2 1888.0,2774.1 1891.0,2780.8 1894.0,2755.5 1897.0,2773.0 1900.0,2791.1 1903.0,2803.0 1906.0,2811.6 1909.0,2826.6 1912.0,2837.3 1915.0,2857.8 1918.0,2876.6 1921.0,2902.4 1924.0,2920.1 1927.0,2936.4 1930.0,2953.4 1933.0,2972.3 1936.0,2984.5 1939.0,3000.4 1942.0,3008.3 1945.0,2979.4 1948.0,2949.5 1951.0,2902.3 1954.0,2853.6 1957.0,2810.7 1960.0,2804.3 1963.0,2797.7 1966.0,2808.2 1969.0,2815.8 1972.0,2783.6 1975.0,2712.1 1978.0,2641.8 1981.0,2540.5 1984.0,2445.1 1987.0,2355.1 1990.0,2201.3 1993.0,2089.1 1996.0,2034.2 1999.0,2041.3 2002.0,2092.4 2005.0,2177.4 2008.0,2273.7 2011.0,2351.3 2014.0,2433.9 2017.0,2504.8 2020.0,2527.0 2023.0,2544.1 2026.0,2551.6 2029.0,2558.4 2032.0,2578.7 2035.0,2588.7 2038.0,2602.0 2041.0,2603.4 2044.0,2613.8 2047.0,2612.0 2050.0,2630.6 2053.0,2637.3 2056.0,2626.5 2059.0,2629.9 2062.0,2637.9 2065.0,2642.4 2068.0,2616.4 2071.0,2642.3 2074.0,2644.4 2077.0,2642.1 2080.0,2647.1 2083.0,2652.8 2086.0,2650.4 2089.0,2667.0 2092.0,2666.1 2095.0,2663.4 2098.0,2674.4 2101.0,2685.9 2104.0,2665.4 2107.0,2665.5 2110.0,2667.1 2113.0,2695.9 2116.0,2680.4 2119.0,2683.0 2122.0,2678.7 2125.0,2678.8 2128.0,2672.2 2131.0,2690.5 2134.0,2694.1 2137.0,2682.1 2140.0,2694.3 2143.0,2700.6 2146.0,2709.6 2149.0,2715.1 2152.0,2724.9 2155.0,2729.6 2158.0,2730.1 2161.0,2734.4 2164.0,2717.5 2167.0,2723.6 2170.0,2737.6 2173.0,2732.4 2176.0,2731.5 2179.0,2717.9 2182.0,2720.4 2185.0,2741.9 2188.0,2741.7 2191.0,2740.1 2194.0,2742.6 2197.0,2736.1 2200.0,2755.0 2203.0,2762.8 2206.0,2769.8 2209.0,2760.2 2212.0,2760.6 2215.0,2756.0 2218.0,2775.5 2221.0,2781.0 2224.0,2765.4 2227.0,2773.9 2230.0,2774.0 2233.0,2770.6 2236.0,2757.6 2239.0,2775.0 2242.0,2783.5 2245.0,2769.2 2248.0,2774.6 2251.0,2757.1 2254.0,2792.1 2257.0,2786.9 2260.0,2784.2 2263.0,2782.5 2266.0,2780.5 2269.0,2785.4 2272.0,2784.4 2275.0,2785.7 2278.0,2788.0 2281.0,2790.0 2284.0,2801.4 2287.0,2779.6 2290.0,2793.2 2293.0,2787.2 2296.0,2784.1 2299.0,2775.6 2302.0,2798.6 2305.0,2787.3 2308.0,2789.8 2311.0,2799.5 2314.0,2788.3 2317.0,2797.2 2320.0,2797.2 2323.0,2804.7 2326.0,2807.5 2329.0,2799.0 2332.0,2818.1 2335.0,2819.4 2338.0,2822.8 2341.0,2818.9 2344.0,2822.6"/>
<polyline stroke="#ff0000" points="559.0,2870.2 562.0,2878.7 565.0,2824.0 568.0,2853.6 571.0,2867.4 574.0,2871.1 577.0,2861.8 580.0,2871.8 583.0,2856.1 586.0,2858.8 589.0,2853.6 592.0,2837.4 595.0,2839.7 598.0,2854.5 601.0,2842.0 604.0,2864.7 607.0,2864.4 610.0,2870.2 613.0,2846.8 616.0,2863.8 619.0,2834.5 622.0,2834.8 625.0,2845.1 628.0,2848.5 631.0,2821.6 634.0,2818.4 637.0,2842.9 640.0,2826.0 643.0,2850.2 646.0,2838.3 649.0,2835.5 652.0,2832.6 655.0,2839.6 658.0,2824.8 661.0,2838.6 664.0,2816.7 667.0,2818.7 670.0,2811.3 673.0,2825.5 676.0,2816.6 679.0,2803.6 682.0,2837.6 685.0,2806.3 688.0,2807.7 691.0,2812.4 694.0,2827.6 697.0,2802.1 700.0,2810.7 703.0,2801.0 706.0,2778.9 709.0,2804.0 712.0,2803.3 715.0,2783.9 718.0,2782.9 721.0,2761.1 724.0,2746.5 727.0,2769.8 730.0,2780.5 733.0,2765.0 736.0,2772.7 739.0,2779.4 742.0,2766.5 745.0,2774.5 748.0,2778.4 751.0,2741.6 754.0,2763.1 757.0,2726.8 760.0,2752.4 763.0,2746.4 766.0,2734.3 769.0,2724.7 772.0,2734.3 775.0,2727.0 778.0,2730.7 781.0,2716.1 784.0,2733.1 787.0,2713.1 790.0,2722.4 793.0,2721.7 796.0,2742.8 799.0,2708.7 802.0,2722.6 805.0,2742.8 808.0,2714.6 811.0,2710.9 814.0,2728.0 817.0,2718.5 820.0,2730.3 823.0,2706.5 826.0,2719.5 829.0,2725.7 832.0,2739.8 835.0,2708.0 838.0,2743.0 841.0,2717.3 844.0,2712.8 847.0,2722.1 850.0,2737.3 853.0,2732.3 856.0,2743.0 859.0,2745.4 862.0,2746.9 865.0,2757.2 868.0,2780.0 871.0,2758.6 874.0,2764.1 877.0,2782.0 880.0,2773.3 883.0,2758.6 886.0,2797.4 889.0,2825.5 892.0,2842.3 895.0,2867.3 898.0,2883.9 901.0,2897.9 904.0,2903.0 907.0,2917.3 910.0,2937.9 913.0,2948.5 916.0,2896.4 919.0,2861.7 922.0,2837.2 925.0,2810.4 928.0,2771.7 931.0,2745.4 934.0,2718.7 937.0,2699.2 940.0,2705.4 943.0,2690.9 946.0,2697.1 949.0,2693.8 952.0,2691.8 955.0,2701.4 958.0,2702.9 961.0,2707.6 964.0,2697.8 967.0,2727.3 970.0,2714.4 973.0,2727.2 976.0,2722.2 979.0,2733.9 982.0,2724.9 985.0,2727.9 988.0,2730.1 991.0,2727.4 994.0,2737.7 997.0,2749.1 1000.0,2756.1 1003.0,2755.2 1006.0,2792.2 1009.0,2766.0 1012.0,2776.2 1015.0,2804.3 1018.0,2771.4 1021.0,2782.7 1024.0,2778.6 1027.0,2768.1 1030.0,2756.8 1033.0,2760.8 1036.0,2782.4 1039.0,2793.3 1042.0,2772.4 1045.0,2796.5 1048.0,2787.4 1051.0,2801.1 1054.0,2791.4 1057.0,2778.9 1060.0,2779.7 1063.0,2779.5 1066.0,2785.1 1069.0,2797.0 1072.0,2765.5 1075.0,2761.3 1078.0,2767.2 1081.0,2760.7 1084.0,2767.7 1087.0,2765.7 1090.0,2762.5 1093.0,2755.4 1096.0,2768.5 1099.0,2781.3 1102.0,2778.3 1105.0,2795.8 1108.0,2790.2 1111.0,2778.9 1114.0,2796.6 1117.0,2766.9 1120.0,2788.8 1123.0,2794.9 1126.0,2773.5 1129.0,2776.1 1132.0,2789.4 1135.0,2798.3 1138.0,2792.7 1141.0,2794.6 1144.0,2804.2 1147.0,2798.8 1150.0,2784.1 1153.0,2794.3 1156.0,2796.0 1159.0,2781.2 1162.0,2800.2 1165.0,2788.8 1168.0,2803.6 1171.0,2781.5 1174.0,2787.8 1177.0,2783.1 1180.0,2811.6 1183.0,2812.9 1186.0,2816.3 1189.0,2817.9 1192.0,2813.1 1195.0,2814.1 1198.0,2786.1 1201.0,2809.2 1204.0,2800.0 1207.0,2802.2 1210.0,2791.6 1213.0,2822.2 1216.0,2808.4 1219.0,2788.2 1222.0,2813.2 1225.0,2805.9 1228.0,2794.0 1231.0,2803.4 1234.0,2797.9 1237.0,2779.5 1240.0,2789.9 1243.0,2816.2 1246.0,2815.1 1249.0,2815.2 1252.0,2798.1 1255.0,2806.2 1258.0,2815.3 1261.0,2823.8 1264.0,2805.3 1267.0,2803.3 1270.0,2831.5 1273.0,2819.2 1276.0,2813.7 1279.0,2809.8 1282.0,2811.2 1285.0,2839.6 1288.0,2832.1 1291.0,2814.7 1294.0,2803.7 1297.0,2839.3 1300.0,2836.5 1303.0,2830.2 1306.0,2823.9 1309.0,2788.1 1312.0,2794.0 1315.0,2816.0 1318.0,2804.6 1321.0,2811.2 1324.0,2801.6 1327.0,2800.1 1330.0,2815.6 1333.0,2804.1 1336.0,2809.5 1339.0,2813.3 1342.0,2813.5 1345.0,2825.6 1348.0,2828.8 1351.0,2795.1 1354.0,2809.4 1357.0,2805.3 1360.0,2823.5 1363.0,2801.4 1366.0,2825.1 1369.0,2824.9 1372.0,2824.0 1375.0,2805.1 1378.0,2815.0 1381.0,2804.6 1384.0,2823.3 1387.0,2830.5 1390.0,2799.7 1393.0,2808.5 1396.0,2816.9 1399.0,2812.5 1402.0,2838.0 1405.0,2817.7 1408.0,2822.9 1411.0,2806.2 1414.0,2840.0 1417.0,2823.7 1420.0,2832.2 1423.0,2824.4 1426.0,2797.3 1429.0,2803.9 1432.0,2805.9 1435.0,2828.0 1438.0,2808.2 1441.0,2816.1 1444.0,2811.6 1447.0,2809.3 1450.0,2816.3 1453.0,2805.8 1456.0,2781.6 1459.0,2792.1 1462.0,2819.3 1465.0,2782.3 1468.0,2809.7 1471.0,2810.3 1474.0,2775.3 1477.0,2789.9 1480.0,2767.0 1483.0,2793.4 1486.0,2773.3 1489.0,2765.8 1492.0,2776.1 1495.0,2769.3 1498.0,2767.2 1501.0,2772.5 1504.0,2764.2 1507.0,2755.9 1510.0,2775.9 1513.0,2794.8 1516.0,2766.3 1519.0,2757.7 1522.0,2755.1 1525.0,2775.6 1528.0,2764.1 1531.0,2770.4 1534.0,2746.4 1537.0,2757.8 1540.0,2757.7 1543.0,2782.5 1546.0,2764.5 1549.0,2733.0 1552.0,2764.8 1555.0,2768.3 1558.0,2766.0 1561.0,2710.9 1564.0,2740.8 1567.0,2743.9 1570.0,2738.1 1573.0,2727.2 1576.0,2709.3 1579.0,2728.0 1582.0,2731.5 1585.0,2744.2 1588.0,2745.8 1591.0,2734.7 1594.0,2747.0 1597.0,2722.8 1600.0,2726.4 1603.0,2733.7 1606.0,2741.4 1609.0,2733.0 1612.0,2755.3 1615.0,2749.4 1618.0,2736.7 1621.0,2752.4 1624.0,2742.1 1627.0,2743.1 1630.0,2739.3 1633.0,2774.8 1636.0,2770.9 1639.0,2743.4 1642.0,2778.6 1645.0,2779.7 1648.0,2766.3 1651.0,2777.9 1654.0,2798.6 1657.0,2775.1 1660.0,2776.4 1663.0,2792.1 1666.0,2758.2 1669.0,2754.9 1672.0,2752.7 1675.0,2767.9 1678.0,2778.6 1681.0,2752.0 1684.0,2751.9 1687.0,2770.7 1690.0,2764.6 1693.0,2776.9 1696.0,2769.4 1699.0,2769.9 1702.0,2772.2 1705.0,2774.7 1708.0,2764.0 1711.0,2762.9 1714.0,2794.9 1717.0,2812.3 1720.0,2789.3 1723.0,2757.1 1726.0,2775.8 1729.0,2788.6 1732.0,2755.4 1735.0,2767.6 1738.0,2767.5 1741.0,2760.6 1744.0,2760.5 1747.0,2780.6 1750.0,2762.6 1753.0,2763.4 1756.0,2783.5 1759.0,2751.6 1762.0,2736.8 1765.0,2763.3 1768.0,2776.2 1771.0,2753.2 1774.0,2752.1 1777.0,2732.2 1780.0,2735.0 1783.0,2761.5 1786.0,2758.7 1789.0,2750.7 1792.0,2736.3 1795.0,2729.1 1798.0,2722.3 1801.0,2719.6 1804.0,2727.4 1807.0,2709.7 1810.0,2714.3 1813.0,2730.4 1816.0,2733.6 1819.0,2730.3 1822.0,2739.0 1825.0,2739.6 1828.0,2723.6 1831.0,2747.2 1834.0,2741.8 1837.0,2739.0 1840.0,2741.3 1843.0,2728.1 1846.0,2746.0 1849.0,2730.4 1852.0,2735.8 1855.0,2740.4 1858.0,2738.3 1861.0,2751.7 1864.0,2762.6 1867.0,2760.6 1870.0,2750.7 1873.0,2756.3 1876.0,2766.5 1879.0,2779.1 1882.0,2764.1 1885.0,2780.5 1888.0,2782.4 1891.0,2792.5 1894.0,2793.0 1897.0,2813.9 1900.0,2809.5 1903.0,2807.0 1906.0,2795.8 1909.0,2823.2 1912.0,2852.8 1915.0,2900.7 1918.0,2946.8 1921.0,2967.6 1924.0,2990.7 1927.0,3013.9 1930.0,3025.0 1933.0,3040.8 1936.0,3062.9 1939.0,3065.5 1942.0,3044.7 1945.0,3047.2 1948.0,3020.9 1951.0,2974.5 1954.0,2905.4 1957.0,2834.6 1960.0,2805.9 1963.0,2786.3 1966.0,2778.5 1969.0,2763.3 1972.0,2751.8 1975.0,2708.6 1978.0,2645.0 1981.0,2553.4 1984.0,2461.6 1987.0,2376.8 1990.0,2226.6 1993.0,2126.6 1996.0,2074.5 1999.0,2077.2 2002.0,2114.1 2005.0,2185.6 2008.0,2278.9 2011.0,2355.3 2014.0,2438.0 2017.0,2511.7 2020.0,2515.4 2023.0,2532.1 2026.0,2543.4 2029.0,2555.5 2032.0,2543.8 2035.0,2559.0 2038.0,2579.5 2041.0,2590.9 2044.0,2601.5 2047.0,2615.9 2050.0,2628.7 2053.0,2626.7 2056.0,2623.3 2059.0,2633.5 2062.0,2643.6 2065.0,2652.1 2068.0,2659.0 2071.0,2647.0 2074.0,2657.1 2077.0,2657.2 2080.0,2663.0 2083.0,2675.6 2086.0,2685.9 2089.0,2684.0 2092.0,2685.0 2095.0,2684.4 2098.0,2685.7 2101.0,2686.6 2104.0,2688.4 2107.0,2685.9 2110.0,2681.7 2113.0,2680.8 2116.0,2689.2 2119.0,2705.8 2122.0,2690.2 2125.0,2689.4 2128.0,2686.0 2131.0,2681.6 2134.0,2699.1 2137.0,2694.1 2140.0,2702.3 2143.0,2705.3 2146.0,2720.3 2149.0,2716.3 2152.0,2721.6 2155.0,2725.3 2158.0,2725.0 2161.0,2738.4 2164.0,2726.1 2167.0,2757.0 2170.0,2720.0 2173.0,2731.1 2176.0,2742.8 2179.0,2746.3 2182.0,2741.8 2185.0,2748.0 2188.0,2749.3 2191.0,2751.4 2194.0,2757.5 2197.0,2757.7 2200.0,2757.8 2203.0,2759.9 2206.0,2769.8 2209.0,2764.1 2212.0,2771.9 2215.0,2781.7 2218.0,2774.7 2221.0,2782.6 2224.0,2771.8 2227.0,2778.5 2230.0,2781.6 2233.0,2780.9 2236.0,2783.9 2239.0,2791.8 2242.0,2779.5 2245.0,2777.0 2248.0,2783.9 2251.0,2768.9 2254.0,2777.7 2257.0,2784.5 2260.0,2773.5 2263.0,2776.4 2266.0,2774.9 2269.0,2781.9 2272.0,2778.1 2275.0,2777.5 2278.0,2752.8 2281.0,2775.2 2284.0,2785.2 2287.0,2778.8 2290.0,2774.0 2293.0,2786.0 2296.0,2772.2 2299.0,2775.8 2302.0,2783.1 2305.0,2773.9 2308.0,2779.4 2311.0,2779.5 2314.0,2772.9 2317.0,2780.6 2320.0,2784.3 2323.0,2784.1 2326.0,2797.8 2329.0,2789.1 2332.0,2783.5 2335.0,2776.4 2338.0,2782.2 2341.0,2791.8 2344.0,2776.4"/>
</g>
<g stroke="#000" fill="none" stroke-linecap="butt">
<path d="M558.3,3185.5 L558.3,31.4 L2346.6,31.4 L2346.6,3185.5 Z" stroke-width="12.0" stroke-linejoin="miter"/>
<line x1="558.3" y1="1933.3" x2="2346.6" y2="1933.3" stroke-width="12.0"/>
<line x1="558.3" y1="2791.2" x2="2346.6" y2="2791.2" stroke-width="11.5"/>
</g>
<g stroke="#000" stroke-width="12" stroke-linecap="butt">
<line x1="558.3" y1="1897.8" x2="558.3" y2="1968.8"/>
<line x1="686.0" y1="1869.0" x2="686.0" y2="1997.6"/>
<line x1="813.7" y1="1897.8" x2="813.7" y2="1968.8"/>
<line x1="941.5" y1="1897.8" x2="941.5" y2="1968.8"/>
<line x1="1069.2" y1="1869.0" x2="1069.2" y2="1997.6"/>
<line x1="1196.9" y1="1897.8" x2="1196.9" y2="1968.8"/>
<line x1="1324.6" y1="1897.8" x2="1324.6" y2="1968.8"/>
<line x1="1452.3" y1="1869.0" x2="1452.3" y2="1997.6"/>
<line x1="1580.1" y1="1897.8" x2="1580.1" y2="1968.8"/>
<line x1="1707.8" y1="1897.8" x2="1707.8" y2="1968.8"/>
<line x1="1835.5" y1="1869.0" x2="1835.5" y2="1997.6"/>
<line x1="1963.2" y1="1897.8" x2="1963.2" y2="1968.8"/>
<line x1="2091.0" y1="1897.8" x2="2091.0" y2="1968.8"/>
<line x1="2218.7" y1="1869.0" x2="2218.7" y2="1997.6"/>
<line x1="2346.4" y1="1897.8" x2="2346.4" y2="1968.8"/>
<line x1="558.3" y1="3150.0" x2="558.3" y2="3221.0"/>
<line x1="686.0" y1="3121.2" x2="686.0" y2="3249.8"/>
<line x1="813.7" y1="3150.0" x2="813.7" y2="3221.0"/>
<line x1="941.5" y1="3150.0" x2="941.5" y2="3221.0"/>
<line x1="1069.2" y1="3121.2" x2="1069.2" y2="3249.8"/>
<line x1="1196.9" y1="3150.0" x2="1196.9" y2="3221.0"/>
<line x1="1324.6" y1="3150.0" x2="1324.6" y2="3221.0"/>
<line x1="1452.3" y1="3121.2" x2="1452.3" y2="3249.8"/>
<line x1="1580.1" y1="3150.0" x2="1580.1" y2="3221.0"/>
<line x1="1707.8" y1="3150.0" x2="1707.8" y2="3221.0"/>
<line x1="1835.5" y1="3121.2" x2="1835.5" y2="3249.8"/>
<line x1="1963.2" y1="3150.0" x2="1963.2" y2="3221.0"/>
<line x1="2091.0" y1="3150.0" x2="2091.0" y2="3221.0"/>
<line x1="2218.7" y1="3121.2" x2="2218.7" y2="3249.8"/>
<line x1="2346.4" y1="3150.0" x2="2346.4" y2="3221.0"/>
<line x1="558.3" y1="1920.9" x2="491.3" y2="1920.9"/>
<line x1="558.3" y1="1630.2" x2="491.3" y2="1630.2"/>
<line x1="558.3" y1="1339.6" x2="491.3" y2="1339.6"/>
<line x1="558.3" y1="1048.9" x2="491.3" y2="1048.9"/>
<line x1="558.3" y1="758.3" x2="491.3" y2="758.3"/>
<line x1="558.3" y1="467.6" x2="491.3" y2="467.6"/>
<line x1="558.3" y1="176.9" x2="491.3" y2="176.9"/>
<line x1="558.3" y1="3009.2" x2="491.3" y2="3009.2"/>
<line x1="558.3" y1="2789.8" x2="491.3" y2="2789.8"/>
<line x1="558.3" y1="2570.4" x2="491.3" y2="2570.4"/>
<line x1="558.3" y1="2350.9" x2="491.3" y2="2350.9"/>
<line x1="558.3" y1="2131.5" x2="491.3" y2="2131.5"/>
</g>
<g font-family="Liberation Sans, Arial, sans-serif" font-size="119" fill="#000" text-anchor="end">
<text x="439" y="1962.4">0</text>
<text x="439" y="1671.7">0.2</text>
<text x="439" y="1381.1">0.4</text>
<text x="439" y="1090.4">0.6</text>
<text x="439" y="799.8">0.8</text>
<text x="439" y="509.1">1</text>
<text x="439" y="218.4">1.2</text>
<text x="439" y="3050.8">-0.05</text>
<text x="439" y="2831.3">0</text>
<text x="439" y="2611.9">0.05</text>
<text x="439" y="2392.4">0.1</text>
<text x="439" y="2173.0">0.15</text>
</g>
<g font-family="Liberation Sans, Arial, sans-serif" font-size="118" fill="#000" text-anchor="middle">
<text x="686.0" y="3410">1050</text>
<text x="1069.2" y="3410">1200</text>
<text x="1452.3" y="3410">1350</text>
<text x="1835.5" y="3410">1500</text>
<text x="2218.7" y="3410">1650</text>
</g>
<g><rect x="380.68" y="499.41" width="22.06" height="10.89" fill="#fff"/><rect x="413.26" y="499.41" width="21.13" height="10.89" fill="#fff"/><rect x="281.44" y="208.75" width="22.06" height="10.89" fill="#fff"/><rect x="314.02" y="208.75" width="21.13" height="10.89" fill="#fff"/><rect x="380.68" y="2382.71" width="22.06" height="10.89" fill="#fff"/><rect x="413.26" y="2382.71" width="21.13" height="10.89" fill="#fff"/><rect x="314.50" y="2163.26" width="22.06" height="10.89" fill="#fff"/><rect x="347.08" y="2163.26" width="21.13" height="10.89" fill="#fff"/><rect x="562.54" y="3400.38" width="21.88" height="10.82" fill="#fff"/><rect x="594.85" y="3400.38" width="20.96" height="10.82" fill="#fff"/><rect x="945.71" y="3400.38" width="21.88" height="10.82" fill="#fff"/><rect x="978.02" y="3400.38" width="20.96" height="10.82" fill="#fff"/><rect x="1328.89" y="3400.38" width="21.88" height="10.82" fill="#fff"/><rect x="1361.20" y="3400.38" width="20.96" height="10.82" fill="#fff"/><rect x="1712.06" y="3400.38" width="21.88" height="10.82" fill="#fff"/><rect x="1744.37" y="3400.38" width="20.96" height="10.82" fill="#fff"/><rect x="2095.24" y="3400.38" width="21.88" height="10.82" fill="#fff"/><rect x="2127.55" y="3400.38" width="20.96" height="10.82" fill="#fff"/></g>
<text x="732.7" y="3590.2" font-family="Liberation Sans, Arial, sans-serif" font-weight="bold" font-size="166.5" fill="#000">Raman shift [cm<tspan font-size="100" dy="-40">-1</tspan><tspan dy="40">]</tspan></text>
<g><rect x="2066.36" y="3539.19" width="18.24" height="12.21" fill="#fff"/><rect x="2098.32" y="3539.19" width="16.97" height="12.21" fill="#fff"/></g>
<text transform="translate(150.5,2453.1) rotate(-90)" x="0" y="0" font-family="Liberation Sans, Arial, sans-serif" font-weight="bold" font-size="166.5" fill="#000">Raman intensity [a.u.]</text>
<line x1="960" y1="923.0" x2="1094" y2="923.0" stroke="#ff0000" stroke-width="7"/>
<text x="1137" y="949.0" font-family="Liberation Sans, Arial, sans-serif" font-weight="bold" font-size="73.5" fill="#000">Cell inside</text>
<line x1="960" y1="1027.6" x2="1094" y2="1027.6" stroke="#0000ff" stroke-width="7"/>
<text x="1137" y="1053.6" font-family="Liberation Sans, Arial, sans-serif" font-weight="bold" font-size="73.5" fill="#000">Cell wall / membrane</text>
<line x1="960" y1="1131.2" x2="1094" y2="1131.2" stroke="#000000" stroke-width="7"/>
<text x="1137" y="1157.2" font-family="Liberation Sans, Arial, sans-serif" font-weight="bold" font-size="73.5" fill="#000">Amb-Ag (Background)</text>
<line x1="620.5" y1="2206.1" x2="759" y2="2206.1" stroke="#ff0000" stroke-width="7"/>
<text x="804" y="2232.1" font-family="Liberation Sans, Arial, sans-serif" font-weight="bold" font-size="75.3" fill="#000">Cell inside - AmB-Ag</text>
<line x1="620.5" y1="2313.0" x2="759" y2="2313.0" stroke="#0000ff" stroke-width="7"/>
<text x="804" y="2339.0" font-family="Liberation Sans, Arial, sans-serif" font-weight="bold" font-size="75.3" fill="#000">Cell wall / membrane - AmB-Ag</text>
<line x1="620.5" y1="2420.0" x2="759" y2="2420.0" stroke="#000000" stroke-width="7"/>
<text x="804" y="2446.0" font-family="Liberation Sans, Arial, sans-serif" font-weight="bold" font-size="75.3" fill="#000">Cell inside - cell wall / membrane</text>
</svg>
</body></html>
